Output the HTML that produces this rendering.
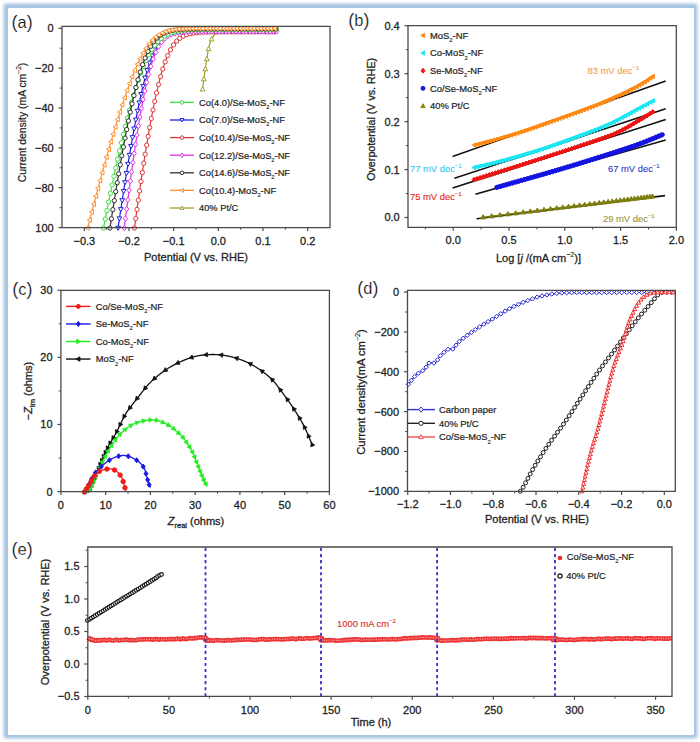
<!DOCTYPE html>
<html><head><meta charset="utf-8"><style>
html,body{margin:0;padding:0;background:#fff;}
body{width:700px;height:742px;overflow:hidden;position:relative;}
.fr{position:absolute;left:8px;top:8.3px;width:685.8px;height:727.2px;border-radius:1px;box-shadow:-0.6px -0.6px 0 2.6px #a9c7e3, -0.6px -0.6px 2.5px 3.6px rgba(169,199,227,0.75);}
svg{position:absolute;left:0;top:0;font-family:"Liberation Sans", sans-serif;}
</style></head><body>
<div class="fr"></div>
<svg width="700" height="742" viewBox="0 0 700 742">
<text x="11.5" y="27.6" font-size="18" fill="#111" stroke="#fff" stroke-width="0.2">(<tspan font-size="16.5">a</tspan>)</text>
<path d="M202.6 89.2 L202.63 88.9 L202.67 88.55 L202.72 88.15 L202.77 87.7 L202.82 87.21 L202.88 86.69 L202.94 86.14 L203 85.56 L203.07 84.96 L203.14 84.35 L203.21 83.72 L203.28 83.09 L203.36 82.46 L203.44 81.83 L203.52 81.21 L203.6 80.6 L203.68 79.99 L203.77 79.37 L203.86 78.73 L203.96 78.08 L204.06 77.42 L204.16 76.75 L204.26 76.07 L204.37 75.39 L204.47 74.71 L204.58 74.03 L204.69 73.34 L204.79 72.66 L204.9 71.99 L205 71.31 L205.1 70.65 L205.2 70 L205.3 69.35 L205.39 68.71 L205.49 68.07 L205.58 67.43 L205.68 66.79 L205.77 66.15 L205.86 65.52 L205.96 64.89 L206.05 64.26 L206.14 63.63 L206.23 63 L206.33 62.38 L206.42 61.76 L206.51 61.14 L206.61 60.52 L206.7 59.9 L206.79 59.28 L206.88 58.66 L206.97 58.04 L207.06 57.42 L207.15 56.8 L207.24 56.18 L207.33 55.56 L207.42 54.94 L207.51 54.33 L207.6 53.73 L207.69 53.14 L207.79 52.55 L207.89 51.97 L207.99 51.4 L208.09 50.84 L208.2 50.3 L208.31 49.77 L208.42 49.24 L208.54 48.72 L208.65 48.21 L208.77 47.71 L208.89 47.21 L209.01 46.72 L209.14 46.24 L209.26 45.77 L209.39 45.31 L209.52 44.85 L209.65 44.41 L209.79 43.97 L209.92 43.54 L210.06 43.11 L210.2 42.7 L210.34 42.3 L210.48 41.9 L210.63 41.51 L210.78 41.13 L210.92 40.76 L211.07 40.4 L211.23 40.05 L211.38 39.7 L211.54 39.36 L211.7 39.03 L211.86 38.71 L212.02 38.39 L212.19 38.08 L212.36 37.78 L212.53 37.49 L212.7 37.2 L212.88 36.92 L213.06 36.65 L213.24 36.38 L213.42 36.13 L213.61 35.88 L213.8 35.64 L213.99 35.41 L214.19 35.18 L214.38 34.96 L214.58 34.75 L214.78 34.54 L214.98 34.34 L215.19 34.15 L215.39 33.96 L215.59 33.78 L215.8 33.6 L216 33.43 L216.2 33.27 L216.4 33.11 L216.6 32.97 L216.79 32.83 L216.99 32.7 L217.19 32.57 L217.39 32.45 L217.59 32.33 L217.81 32.22 L218.03 32.11 L218.26 32.01 L218.5 31.9 L218.75 31.8 L219.02 31.7 L219.3 31.6 L219.59 31.5 L219.9 31.41 L220.21 31.31 L220.54 31.23 L220.88 31.14 L221.22 31.06 L221.57 30.98 L221.93 30.9 L222.3 30.83 L222.67 30.76 L223.05 30.69 L223.43 30.62 L223.82 30.56 L224.21 30.51 L224.6 30.45 L225 30.4 L225.41 30.35 L225.86 30.31 L226.33 30.27 L226.82 30.23 L227.33 30.2 L227.84 30.17 L228.35 30.15 L228.86 30.12 L229.35 30.1 L229.83 30.09 L230.29 30.07 L230.71 30.05 L231.1 30.04 L231.45 30.03 L231.75 30.01 L232 30" fill="none" stroke="#a0a030" stroke-width="1.2"/>
<polygon points="200.18,90.96 205.02,90.96 202.6,86.78" fill="#fff" stroke="#a0a030" stroke-width="1.0"/>
<polygon points="201.39,80.83 206.23,80.83 203.81,76.65" fill="#fff" stroke="#a0a030" stroke-width="1.0"/>
<polygon points="202.93,70.75 207.77,70.75 205.35,66.57" fill="#fff" stroke="#a0a030" stroke-width="1.0"/>
<polygon points="204.43,60.66 209.27,60.66 206.85,56.48" fill="#fff" stroke="#a0a030" stroke-width="1.0"/>
<polygon points="206.09,50.6 210.93,50.6 208.51,46.42" fill="#fff" stroke="#a0a030" stroke-width="1.0"/>
<polygon points="209.22,40.91 214.06,40.91 211.64,36.73" fill="#fff" stroke="#a0a030" stroke-width="1.0"/>
<polygon points="216.08,33.66 220.92,33.66 218.5,29.48" fill="#fff" stroke="#a0a030" stroke-width="1.0"/>
<polygon points="226.08,31.9 230.92,31.9 228.5,27.72" fill="#fff" stroke="#a0a030" stroke-width="1.0"/>
<path d="M134.44 228 L135 223.86 L135.55 219.81 L136.09 215.85 L136.63 211.97 L137.16 208.17 L137.68 204.45 L138.19 200.81 L138.7 197.25 L139.2 193.76 L139.69 190.34 L140.17 187 L140.65 183.73 L141.12 180.53 L141.59 177.39 L142.05 174.32 L142.5 171.31 L142.95 168.37 L143.4 165.49 L143.83 162.67 L144.26 159.91 L144.69 157.21 L145.11 154.57 L145.52 151.98 L145.93 149.45 L146.34 146.97 L146.74 144.54 L147.13 142.16 L147.52 139.83 L147.91 137.56 L148.29 135.33 L148.67 133.14 L149.04 131.01 L149.41 128.91 L149.77 126.87 L150.13 124.86 L150.49 122.9 L150.84 120.98 L151.19 119.1 L151.54 117.26 L151.88 115.45 L152.22 113.69 L152.55 111.96 L152.88 110.27 L153.21 108.62 L153.53 107 L153.85 105.41 L154.17 103.86 L154.49 102.34 L154.8 100.85 L155.11 99.4 L155.41 97.97 L155.72 96.58 L156.02 95.21 L156.31 93.87 L156.61 92.56 L156.9 91.28 L157.19 90.03 L157.48 88.8 L157.77 87.6 L158.05 86.42 L158.33 85.27 L158.61 84.14 L158.88 83.04 L159.16 81.96 L159.43 80.9 L159.7 79.86 L159.97 78.85 L160.23 77.86 L160.49 76.89 L160.76 75.94 L161.02 75 L161.27 74.09 L161.53 73.2 L161.78 72.33 L162.04 71.47 L162.29 70.64 L162.54 69.82 L162.79 69.02 L163.03 68.23 L163.28 67.46 L163.52 66.71 L163.76 65.97 L164 65.25 L164.24 64.55 L164.48 63.86 L164.71 63.18 L164.95 62.52 L165.18 61.87 L165.41 61.24 L165.64 60.61 L165.87 60.01 L166.1 59.41 L166.33 58.83 L166.56 58.26 L166.78 57.7 L167 57.15 L167.23 56.62 L167.45 56.1 L167.67 55.58 L167.89 55.08 L168.11 54.59 L168.33 54.11 L168.54 53.64 L168.76 53.18 L168.97 52.73 L169.19 52.28 L169.4 51.85 L169.61 51.43 L169.82 51.01 L170.03 50.61 L170.24 50.21 L170.45 49.82 L170.66 49.44 L170.87 49.07 L171.08 48.71 L171.28 48.35 L171.49 48 L171.69 47.66 L171.9 47.32 L172.1 47 L172.3 46.67 L172.5 46.36 L172.71 46.05 L172.91 45.75 L173.11 45.46 L173.31 45.17 L173.51 44.89 L173.7 44.61 L173.9 44.34 L174.1 44.08 L174.3 43.82 L174.49 43.56 L174.69 43.31 L174.88 43.07 L175.08 42.83 L175.27 42.6 L175.47 42.37 L175.66 42.15 L175.85 41.93 L176.05 41.72 L176.24 41.51 L176.43 41.3 L176.62 41.1 L176.81 40.9 L177 40.71 L177.19 40.52 L177.38 40.34 L177.57 40.16 L177.76 39.98 L177.95 39.81 L178.14 39.64 L178.33 39.47 L178.52 39.31 L178.7 39.15 L178.89 39 L179.08 38.85 L179.26 38.7 L179.45 38.55 L179.64 38.41 L179.82 38.27 L180.01 38.13 L180.19 38 L180.38 37.87 L180.56 37.74 L180.75 37.61 L180.93 37.49 L181.12 37.37 L181.3 37.25 L181.48 37.14 L181.67 37.02 L181.85 36.91 L182.03 36.8 L182.21 36.7 L182.4 36.59 L182.58 36.49 L182.76 36.39 L182.94 36.3 L183.12 36.2 L183.31 36.11 L183.49 36.02 L183.67 35.93 L183.85 35.84 L184.03 35.75 L184.21 35.67 L184.39 35.59 L184.57 35.51 L184.75 35.43 L184.93 35.35 L185.11 35.28 L185.29 35.2 L185.47 35.13 L185.65 35.06 L185.83 34.99 L186.01 34.92 L186.19 34.86 L186.36 34.79 L186.54 34.73 L186.72 34.67 L186.9 34.61 L187.08 34.55 L187.26 34.49 L187.43 34.43 L187.61 34.38 L187.79 34.32 L187.97 34.27 L188.15 34.21 L188.32 34.16 L188.5 34.11 L188.68 34.06 L188.85 34.02 L189.03 33.97 L189.21 33.92 L189.39 33.88 L189.56 33.83 L189.74 33.79 L189.92 33.75 L190.09 33.71 L190.27 33.67 L190.45 33.63 L190.62 33.59 L190.8 33.55 L190.97 33.51 L191.15 33.47 L191.33 33.44 L191.5 33.4 L191.68 33.37 L191.85 33.34 L192.03 33.3 L192.21 33.27 L192.38 33.24 L192.56 33.21 L192.73 33.18 L192.91 33.15 L193.08 33.12 L193.26 33.09 L193.43 33.06 L193.61 33.04 L193.78 33.01 L193.96 32.98 L194.13 32.96 L194.31 32.93 L194.48 32.91 L194.66 32.89 L194.83 32.86 L195.01 32.84 L195.18 32.82 L195.36 32.8 L195.53 32.77 L195.71 32.75 L195.88 32.73 L196.06 32.71 L196.23 32.69 L196.41 32.67 L196.58 32.66 L196.75 32.64 L196.93 32.62 L197.1 32.6 L197.28 32.58 L197.45 32.57 L197.63 32.55 L197.8 32.53 L197.97 32.52 L198.15 32.5 L198.32 32.49 L198.5 32.47 L198.67 32.46 L198.84 32.44 L199.02 32.43 L199.19 32.42 L199.37 32.4 L199.54 32.39 L199.71 32.38 L199.89 32.36 L200.06 32.35 L200.24 32.34 L200.41 32.33 L200.58 32.32 L200.76 32.3 L200.93 32.29 L201.1 32.28 L201.28 32.27 L201.45 32.26 L201.62 32.25 L201.8 32.24 L201.97 32.23 L202.15 32.22 L202.32 32.21 L202.49 32.2 L202.67 32.19 L202.84 32.19 L203.01 32.18 L203.19 32.17 L203.36 32.16 L203.53 32.15 L203.71 32.15 L203.88 32.14 L204.05 32.13 L204.23 32.12 L204.4 32.12 L204.57 32.11 L204.75 32.1 L204.92 32.09 L205.09 32.09 L205.27 32.08 L205.44 32.07 L205.61 32.07 L205.79 32.06 L205.96 32.06 L206.13 32.05 L206.31 32.05 L206.48 32.04 L206.65 32.03 L206.83 32.03 L207 32.02 L207.17 32.02 L207.35 32.01 L207.52 32.01 L207.69 32 L207.86 32 L208.04 31.99 L208.21 31.99 L208.38 31.99 L208.56 31.98 L208.73 31.98 L208.9 31.97 L209.08 31.97 L209.25 31.96 L209.42 31.96 L209.6 31.96 L209.77 31.95 L209.94 31.95 L210.11 31.95 L210.29 31.94 L210.46 31.94 L210.63 31.94 L210.81 31.93 L210.98 31.93 L211.15 31.93 L211.33 31.92 L211.5 31.92 L211.67 31.92 L211.84 31.91 L212.02 31.91 L212.19 31.91 L212.36 31.91 L212.54 31.9 L212.71 31.9 L212.88 31.9 L213.05 31.9 L213.23 31.89 L213.4 31.89 L213.57 31.89 L213.75 31.89 L213.92 31.88 L214.09 31.88 L214.27 31.88 L214.44 31.88 L214.61 31.88 L214.78 31.87 L214.96 31.87 L215.13 31.87 L215.3 31.87 L215.48 31.87 L215.65 31.86 L215.82 31.86 L215.99 31.86 L216.17 31.86 L216.34 31.86 L216.51 31.86 L216.68 31.85 L216.86 31.85 L217.03 31.85 L217.2 31.85 L217.38 31.85 L217.55 31.85 L217.72 31.84 L217.89 31.84 L218.07 31.84 L218.24 31.84 L218.41 31.84 L218.59 31.84 L218.76 31.84 L218.93 31.84 L219.1 31.83 L219.28 31.83 L219.45 31.83 L219.62 31.83 L219.8 31.83 L219.97 31.83 L220.14 31.83 L220.31 31.83 L220.49 31.83 L220.66 31.82 L220.83 31.82 L221 31.82 L221.18 31.82 L221.35 31.82 L221.52 31.82 L221.7 31.82 L222.7 31.82 L223.7 31.82 L224.7 31.82 L225.7 31.82 L226.7 31.82 L227.7 31.82 L228.7 31.82 L229.7 31.82 L230.7 31.82 L231.7 31.82 L232.7 31.82 L233.7 31.82 L234.7 31.82 L235.7 31.82 L236.7 31.82 L237.7 31.82 L238.7 31.82 L239.7 31.82 L240.7 31.82 L241.7 31.82 L242.7 31.82 L243.7 31.82 L244.7 31.82 L245.7 31.82 L246.7 31.82 L247.7 31.82 L248.7 31.82 L249.7 31.82 L250.7 31.82 L251.7 31.82 L252.7 31.82 L253.7 31.82 L254.7 31.82 L255.7 31.82 L256.7 31.82 L257.7 31.82 L258.7 31.82 L259.7 31.82 L260.7 31.82 L261.7 31.82 L262.7 31.82 L263.7 31.82 L264.7 31.82 L265.7 31.82 L266.7 31.82 L267.7 31.82 L268.7 31.82 L269.7 31.82 L270.7 31.82 L271.7 31.82 L272.7 31.82 L273.7 31.82 L274.7 31.82 L275.7 31.82 L276.7 31.82 L277 31.82" fill="none" stroke="#e03838" stroke-width="1.2"/>
<circle cx="134.44" cy="228" r="2.15" fill="#fff" stroke="#e03838" stroke-width="1.0"/>
<circle cx="135.72" cy="218.59" r="2.15" fill="#fff" stroke="#e03838" stroke-width="1.0"/>
<circle cx="136.98" cy="209.44" r="2.15" fill="#fff" stroke="#e03838" stroke-width="1.0"/>
<circle cx="138.28" cy="200.16" r="2.15" fill="#fff" stroke="#e03838" stroke-width="1.0"/>
<circle cx="139.6" cy="190.96" r="2.15" fill="#fff" stroke="#e03838" stroke-width="1.0"/>
<circle cx="140.98" cy="181.49" r="2.15" fill="#fff" stroke="#e03838" stroke-width="1.0"/>
<circle cx="142.32" cy="172.52" r="2.15" fill="#fff" stroke="#e03838" stroke-width="1.0"/>
<circle cx="143.73" cy="163.3" r="2.15" fill="#fff" stroke="#e03838" stroke-width="1.0"/>
<circle cx="145.16" cy="154.25" r="2.15" fill="#fff" stroke="#e03838" stroke-width="1.0"/>
<circle cx="146.64" cy="145.14" r="2.15" fill="#fff" stroke="#e03838" stroke-width="1.0"/>
<circle cx="148.13" cy="136.28" r="2.15" fill="#fff" stroke="#e03838" stroke-width="1.0"/>
<circle cx="149.65" cy="127.55" r="2.15" fill="#fff" stroke="#e03838" stroke-width="1.0"/>
<circle cx="151.31" cy="118.48" r="2.15" fill="#fff" stroke="#e03838" stroke-width="1.0"/>
<circle cx="152.95" cy="109.94" r="2.15" fill="#fff" stroke="#e03838" stroke-width="1.0"/>
<circle cx="154.67" cy="101.45" r="2.15" fill="#fff" stroke="#e03838" stroke-width="1.0"/>
<circle cx="156.54" cy="92.89" r="2.15" fill="#fff" stroke="#e03838" stroke-width="1.0"/>
<circle cx="158.51" cy="84.52" r="2.15" fill="#fff" stroke="#e03838" stroke-width="1.0"/>
<circle cx="160.58" cy="76.57" r="2.15" fill="#fff" stroke="#e03838" stroke-width="1.0"/>
<circle cx="162.79" cy="69.02" r="2.15" fill="#fff" stroke="#e03838" stroke-width="1.0"/>
<circle cx="165.18" cy="61.87" r="2.15" fill="#fff" stroke="#e03838" stroke-width="1.0"/>
<circle cx="167.67" cy="55.58" r="2.15" fill="#fff" stroke="#e03838" stroke-width="1.0"/>
<circle cx="170.45" cy="49.82" r="2.15" fill="#fff" stroke="#e03838" stroke-width="1.0"/>
<circle cx="173.51" cy="44.89" r="2.15" fill="#fff" stroke="#e03838" stroke-width="1.0"/>
<circle cx="176.62" cy="41.1" r="2.15" fill="#fff" stroke="#e03838" stroke-width="1.0"/>
<circle cx="179.82" cy="38.27" r="2.15" fill="#fff" stroke="#e03838" stroke-width="1.0"/>
<circle cx="183.31" cy="36.11" r="2.15" fill="#fff" stroke="#e03838" stroke-width="1.0"/>
<circle cx="186.54" cy="34.73" r="2.15" fill="#fff" stroke="#e03838" stroke-width="1.0"/>
<circle cx="189.92" cy="33.75" r="2.15" fill="#fff" stroke="#e03838" stroke-width="1.0"/>
<circle cx="193.43" cy="33.06" r="2.15" fill="#fff" stroke="#e03838" stroke-width="1.0"/>
<circle cx="196.75" cy="32.64" r="2.15" fill="#fff" stroke="#e03838" stroke-width="1.0"/>
<circle cx="200.24" cy="32.34" r="2.15" fill="#fff" stroke="#e03838" stroke-width="1.0"/>
<circle cx="203.53" cy="32.15" r="2.15" fill="#fff" stroke="#e03838" stroke-width="1.0"/>
<circle cx="207" cy="32.02" r="2.15" fill="#fff" stroke="#e03838" stroke-width="1.0"/>
<circle cx="210.46" cy="31.94" r="2.15" fill="#fff" stroke="#e03838" stroke-width="1.0"/>
<circle cx="213.75" cy="31.89" r="2.15" fill="#fff" stroke="#e03838" stroke-width="1.0"/>
<circle cx="217.2" cy="31.85" r="2.15" fill="#fff" stroke="#e03838" stroke-width="1.0"/>
<circle cx="220.66" cy="31.82" r="2.15" fill="#fff" stroke="#e03838" stroke-width="1.0"/>
<circle cx="224.03" cy="31.82" r="2.15" fill="#fff" stroke="#e03838" stroke-width="1.0"/>
<circle cx="227.36" cy="31.82" r="2.15" fill="#fff" stroke="#e03838" stroke-width="1.0"/>
<circle cx="231.03" cy="31.82" r="2.15" fill="#fff" stroke="#e03838" stroke-width="1.0"/>
<circle cx="234.36" cy="31.82" r="2.15" fill="#fff" stroke="#e03838" stroke-width="1.0"/>
<circle cx="237.7" cy="31.82" r="2.15" fill="#fff" stroke="#e03838" stroke-width="1.0"/>
<circle cx="241.03" cy="31.82" r="2.15" fill="#fff" stroke="#e03838" stroke-width="1.0"/>
<circle cx="244.36" cy="31.82" r="2.15" fill="#fff" stroke="#e03838" stroke-width="1.0"/>
<circle cx="248.03" cy="31.82" r="2.15" fill="#fff" stroke="#e03838" stroke-width="1.0"/>
<circle cx="251.36" cy="31.82" r="2.15" fill="#fff" stroke="#e03838" stroke-width="1.0"/>
<circle cx="254.7" cy="31.82" r="2.15" fill="#fff" stroke="#e03838" stroke-width="1.0"/>
<circle cx="258.03" cy="31.82" r="2.15" fill="#fff" stroke="#e03838" stroke-width="1.0"/>
<circle cx="261.36" cy="31.82" r="2.15" fill="#fff" stroke="#e03838" stroke-width="1.0"/>
<circle cx="265.03" cy="31.82" r="2.15" fill="#fff" stroke="#e03838" stroke-width="1.0"/>
<circle cx="268.36" cy="31.82" r="2.15" fill="#fff" stroke="#e03838" stroke-width="1.0"/>
<circle cx="271.7" cy="31.82" r="2.15" fill="#fff" stroke="#e03838" stroke-width="1.0"/>
<circle cx="275.03" cy="31.82" r="2.15" fill="#fff" stroke="#e03838" stroke-width="1.0"/>
<path d="M118.04 228 L118.65 223.85 L119.26 219.79 L119.85 215.82 L120.44 211.93 L121.02 208.12 L121.59 204.4 L122.15 200.75 L122.7 197.17 L123.24 193.68 L123.78 190.26 L124.3 186.9 L124.82 183.62 L125.33 180.41 L125.84 177.27 L126.33 174.19 L126.82 171.18 L127.3 168.23 L127.78 165.35 L128.25 162.52 L128.71 159.76 L129.16 157.05 L129.61 154.4 L130.05 151.8 L130.49 149.26 L130.92 146.78 L131.34 144.34 L131.76 141.96 L132.18 139.63 L132.58 137.35 L132.99 135.11 L133.38 132.92 L133.77 130.78 L134.16 128.69 L134.54 126.63 L134.92 124.63 L135.29 122.66 L135.66 120.73 L136.02 118.85 L136.38 117 L136.73 115.2 L137.08 113.43 L137.43 111.7 L137.77 110.01 L138.11 108.35 L138.44 106.72 L138.77 105.13 L139.1 103.58 L139.42 102.06 L139.74 100.57 L140.05 99.11 L140.36 97.68 L140.67 96.28 L140.98 94.91 L141.28 93.57 L141.58 92.26 L141.87 90.97 L142.17 89.72 L142.46 88.49 L142.74 87.28 L143.03 86.1 L143.31 84.95 L143.59 83.82 L143.86 82.71 L144.14 81.63 L144.41 80.57 L144.67 79.53 L144.94 78.52 L145.2 77.52 L145.46 76.55 L145.72 75.6 L145.98 74.66 L146.23 73.75 L146.49 72.86 L146.73 71.98 L146.98 71.13 L147.23 70.29 L147.47 69.47 L147.71 68.66 L147.95 67.88 L148.19 67.11 L148.43 66.35 L148.66 65.61 L148.9 64.89 L149.13 64.19 L149.36 63.49 L149.58 62.82 L149.81 62.15 L150.04 61.5 L150.26 60.87 L150.48 60.25 L150.7 59.64 L150.92 59.04 L151.14 58.46 L151.35 57.89 L151.57 57.33 L151.78 56.78 L151.99 56.24 L152.2 55.72 L152.41 55.2 L152.62 54.7 L152.83 54.21 L153.03 53.73 L153.24 53.26 L153.44 52.79 L153.64 52.34 L153.85 51.9 L154.05 51.47 L154.25 51.04 L154.44 50.63 L154.64 50.22 L154.84 49.82 L155.03 49.43 L155.23 49.05 L155.42 48.68 L155.62 48.32 L155.81 47.96 L156 47.61 L156.19 47.27 L156.38 46.93 L156.57 46.6 L156.75 46.28 L156.94 45.97 L157.13 45.66 L157.31 45.36 L157.5 45.06 L157.68 44.77 L157.87 44.49 L158.05 44.21 L158.23 43.94 L158.41 43.68 L158.6 43.42 L158.78 43.16 L158.96 42.91 L159.14 42.67 L159.31 42.43 L159.49 42.2 L159.67 41.97 L159.85 41.75 L160.02 41.53 L160.2 41.31 L160.37 41.1 L160.55 40.9 L160.72 40.7 L160.9 40.5 L161.07 40.31 L161.24 40.12 L161.42 39.93 L161.59 39.75 L161.76 39.58 L161.93 39.4 L162.1 39.23 L162.27 39.07 L162.44 38.91 L162.61 38.75 L162.78 38.59 L162.95 38.44 L163.12 38.29 L163.29 38.14 L163.46 38 L163.63 37.86 L163.79 37.72 L163.96 37.59 L164.13 37.46 L164.29 37.33 L164.46 37.2 L164.63 37.08 L164.79 36.96 L164.96 36.84 L165.12 36.73 L165.29 36.61 L165.45 36.5 L165.61 36.39 L165.78 36.29 L165.94 36.18 L166.11 36.08 L166.27 35.98 L166.43 35.89 L166.59 35.79 L166.76 35.7 L166.92 35.61 L167.08 35.52 L167.24 35.43 L167.4 35.34 L167.57 35.26 L167.73 35.18 L167.89 35.1 L168.05 35.02 L168.21 34.94 L168.37 34.87 L168.53 34.79 L168.69 34.72 L168.85 34.65 L169.01 34.58 L169.17 34.51 L169.33 34.44 L169.49 34.38 L169.65 34.32 L169.81 34.25 L169.97 34.19 L170.12 34.13 L170.28 34.07 L170.44 34.02 L170.6 33.96 L170.76 33.91 L170.92 33.85 L171.07 33.8 L171.23 33.75 L171.39 33.7 L171.55 33.65 L171.7 33.6 L171.86 33.55 L172.02 33.51 L172.18 33.46 L172.33 33.42 L172.49 33.38 L172.65 33.33 L172.8 33.29 L172.96 33.25 L173.12 33.21 L173.27 33.17 L173.43 33.13 L173.59 33.1 L173.74 33.06 L173.9 33.02 L174.05 32.99 L174.21 32.95 L174.36 32.92 L174.52 32.89 L174.68 32.86 L174.83 32.82 L174.99 32.79 L175.14 32.76 L175.3 32.73 L175.45 32.71 L175.61 32.68 L175.76 32.65 L175.92 32.62 L176.07 32.6 L176.23 32.57 L176.38 32.54 L176.54 32.52 L176.69 32.5 L176.85 32.47 L177 32.45 L177.16 32.43 L177.31 32.4 L177.47 32.38 L177.62 32.36 L177.77 32.34 L177.93 32.32 L178.08 32.3 L178.24 32.28 L178.39 32.26 L178.55 32.24 L178.7 32.22 L178.85 32.2 L179.01 32.19 L179.16 32.17 L179.32 32.15 L179.47 32.13 L179.62 32.12 L179.78 32.1 L179.93 32.09 L180.09 32.07 L180.24 32.06 L180.39 32.04 L180.55 32.03 L180.7 32.01 L180.85 32 L181.01 31.99 L181.16 31.97 L181.31 31.96 L181.47 31.95 L181.62 31.94 L181.77 31.92 L181.93 31.91 L182.08 31.9 L182.23 31.89 L182.39 31.88 L182.54 31.87 L182.69 31.86 L182.85 31.85 L183 31.84 L183.15 31.83 L183.31 31.82 L183.46 31.81 L183.61 31.8 L183.77 31.79 L183.92 31.78 L184.07 31.77 L184.22 31.76 L184.38 31.75 L184.53 31.75 L184.68 31.74 L184.84 31.73 L184.99 31.72 L185.14 31.71 L185.3 31.71 L185.45 31.7 L185.6 31.69 L185.75 31.69 L185.91 31.68 L186.06 31.67 L186.21 31.67 L186.37 31.66 L186.52 31.65 L186.67 31.65 L186.82 31.64 L186.98 31.63 L187.13 31.63 L187.28 31.62 L187.43 31.62 L187.59 31.61 L187.74 31.61 L187.89 31.6 L188.04 31.6 L188.2 31.59 L188.35 31.59 L188.5 31.58 L188.65 31.58 L188.81 31.57 L188.96 31.57 L189.11 31.56 L189.26 31.56 L189.42 31.56 L189.57 31.55 L189.72 31.55 L189.87 31.54 L190.03 31.54 L190.18 31.54 L190.33 31.53 L190.48 31.53 L190.64 31.53 L190.79 31.52 L190.94 31.52 L191.09 31.52 L191.25 31.51 L191.4 31.51 L191.55 31.51 L191.7 31.5 L191.86 31.5 L192.01 31.5 L192.16 31.49 L192.31 31.49 L192.47 31.49 L192.62 31.49 L192.77 31.48 L192.92 31.48 L193.07 31.48 L193.23 31.48 L193.38 31.47 L193.53 31.47 L193.68 31.47 L193.84 31.47 L193.99 31.47 L194.14 31.46 L194.29 31.46 L194.45 31.46 L194.6 31.46 L194.75 31.45 L194.9 31.45 L195.05 31.45 L195.21 31.45 L195.36 31.45 L195.51 31.45 L195.66 31.44 L195.82 31.44 L195.97 31.44 L196.12 31.44 L196.27 31.44 L196.42 31.44 L196.58 31.43 L196.73 31.43 L196.88 31.43 L197.03 31.43 L197.19 31.43 L197.34 31.43 L197.49 31.43 L197.64 31.42 L197.79 31.42 L197.95 31.42 L198.1 31.42 L198.25 31.42 L198.4 31.42 L198.56 31.42 L198.71 31.42 L198.86 31.41 L199.01 31.41 L199.16 31.41 L199.32 31.41 L199.47 31.41 L199.62 31.41 L199.77 31.41 L199.92 31.41 L200.08 31.41 L200.23 31.41 L200.38 31.41 L200.53 31.4 L200.69 31.4 L201.69 31.4 L202.69 31.4 L203.69 31.4 L204.69 31.4 L205.69 31.4 L206.69 31.4 L207.69 31.4 L208.69 31.4 L209.69 31.4 L210.69 31.4 L211.69 31.4 L212.69 31.4 L213.69 31.4 L214.69 31.4 L215.69 31.4 L216.69 31.4 L217.69 31.4 L218.69 31.4 L219.69 31.4 L220.69 31.4 L221.69 31.4 L222.69 31.4 L223.69 31.4 L224.69 31.4 L225.69 31.4 L226.69 31.4 L227.69 31.4 L228.69 31.4 L229.69 31.4 L230.69 31.4 L231.69 31.4 L232.69 31.4 L233.69 31.4 L234.69 31.4 L235.69 31.4 L236.69 31.4 L237.69 31.4 L238.69 31.4 L239.69 31.4 L240.69 31.4 L241.69 31.4 L242.69 31.4 L243.69 31.4 L244.69 31.4 L245.69 31.4 L246.69 31.4 L247.69 31.4 L248.69 31.4 L249.69 31.4 L250.69 31.4 L251.69 31.4 L252.69 31.4 L253.69 31.4 L254.69 31.4 L255.69 31.4 L256.69 31.4 L257.69 31.4 L258.69 31.4 L259.69 31.4 L260.69 31.4 L261.69 31.4 L262.69 31.4 L263.69 31.4 L264.69 31.4 L265.69 31.4 L266.69 31.4 L267.69 31.4 L268.69 31.4 L269.69 31.4 L270.69 31.4 L271.69 31.4 L272.69 31.4 L273.69 31.4 L274.69 31.4 L275.69 31.4 L276.69 31.4 L277 31.4" fill="none" stroke="#2020d8" stroke-width="1.2"/>
<polygon points="115.67,226.28 120.4,226.28 118.04,230.36" fill="#fff" stroke="#2020d8" stroke-width="1.0"/>
<polygon points="117.08,216.85 121.81,216.85 119.44,220.94" fill="#fff" stroke="#2020d8" stroke-width="1.0"/>
<polygon points="118.46,207.67 123.19,207.67 120.83,211.76" fill="#fff" stroke="#2020d8" stroke-width="1.0"/>
<polygon points="119.83,198.73 124.56,198.73 122.19,202.81" fill="#fff" stroke="#2020d8" stroke-width="1.0"/>
<polygon points="121.27,189.47 126,189.47 123.63,193.55" fill="#fff" stroke="#2020d8" stroke-width="1.0"/>
<polygon points="122.66,180.62 127.39,180.62 125.03,184.71" fill="#fff" stroke="#2020d8" stroke-width="1.0"/>
<polygon points="124.12,171.57 128.85,171.57 126.48,175.66" fill="#fff" stroke="#2020d8" stroke-width="1.0"/>
<polygon points="125.62,162.37 130.35,162.37 127.99,166.46" fill="#fff" stroke="#2020d8" stroke-width="1.0"/>
<polygon points="127.14,153.34 131.87,153.34 129.5,157.43" fill="#fff" stroke="#2020d8" stroke-width="1.0"/>
<polygon points="128.66,144.45 133.39,144.45 131.03,148.54" fill="#fff" stroke="#2020d8" stroke-width="1.0"/>
<polygon points="130.22,135.63 134.95,135.63 132.58,139.71" fill="#fff" stroke="#2020d8" stroke-width="1.0"/>
<polygon points="131.8,126.97 136.53,126.97 134.16,131.05" fill="#fff" stroke="#2020d8" stroke-width="1.0"/>
<polygon points="133.47,118.07 138.2,118.07 135.84,122.16" fill="#fff" stroke="#2020d8" stroke-width="1.0"/>
<polygon points="135.2,109.3 139.93,109.3 137.56,113.39" fill="#fff" stroke="#2020d8" stroke-width="1.0"/>
<polygon points="136.92,100.95 141.65,100.95 139.29,105.03" fill="#fff" stroke="#2020d8" stroke-width="1.0"/>
<polygon points="138.76,92.52 143.49,92.52 141.13,96.61" fill="#fff" stroke="#2020d8" stroke-width="1.0"/>
<polygon points="140.66,84.38 145.39,84.38 143.03,88.47" fill="#fff" stroke="#2020d8" stroke-width="1.0"/>
<polygon points="142.75,76.13 147.48,76.13 145.12,80.22" fill="#fff" stroke="#2020d8" stroke-width="1.0"/>
<polygon points="144.86,68.57 149.59,68.57 147.23,72.65" fill="#fff" stroke="#2020d8" stroke-width="1.0"/>
<polygon points="147.22,61.1 151.95,61.1 149.58,65.18" fill="#fff" stroke="#2020d8" stroke-width="1.0"/>
<polygon points="149.84,54 154.57,54 152.2,58.08" fill="#fff" stroke="#2020d8" stroke-width="1.0"/>
<polygon points="152.47,48.1 157.2,48.1 154.84,52.19" fill="#fff" stroke="#2020d8" stroke-width="1.0"/>
<polygon points="155.32,43.05 160.05,43.05 157.68,47.14" fill="#fff" stroke="#2020d8" stroke-width="1.0"/>
<polygon points="158.36,38.98 163.09,38.98 160.72,43.06" fill="#fff" stroke="#2020d8" stroke-width="1.0"/>
<polygon points="161.6,35.87 166.33,35.87 163.96,39.95" fill="#fff" stroke="#2020d8" stroke-width="1.0"/>
<polygon points="164.88,33.71 169.61,33.71 167.24,37.79" fill="#fff" stroke="#2020d8" stroke-width="1.0"/>
<polygon points="168.23,32.24 172.96,32.24 170.6,36.33" fill="#fff" stroke="#2020d8" stroke-width="1.0"/>
<polygon points="171.69,31.27 176.42,31.27 174.05,35.35" fill="#fff" stroke="#2020d8" stroke-width="1.0"/>
<polygon points="175.1,30.66 179.83,30.66 177.47,34.75" fill="#fff" stroke="#2020d8" stroke-width="1.0"/>
<polygon points="178.49,30.28 183.22,30.28 180.85,34.36" fill="#fff" stroke="#2020d8" stroke-width="1.0"/>
<polygon points="181.86,30.04 186.59,30.04 184.22,34.13" fill="#fff" stroke="#2020d8" stroke-width="1.0"/>
<polygon points="185.22,29.89 189.95,29.89 187.59,33.98" fill="#fff" stroke="#2020d8" stroke-width="1.0"/>
<polygon points="188.73,29.8 193.46,29.8 191.09,33.88" fill="#fff" stroke="#2020d8" stroke-width="1.0"/>
<polygon points="192.08,29.74 196.81,29.74 194.45,33.82" fill="#fff" stroke="#2020d8" stroke-width="1.0"/>
<polygon points="195.43,29.7 200.16,29.7 197.79,33.79" fill="#fff" stroke="#2020d8" stroke-width="1.0"/>
<polygon points="198.99,29.68 203.72,29.68 201.35,33.77" fill="#fff" stroke="#2020d8" stroke-width="1.0"/>
<polygon points="202.32,29.68 207.05,29.68 204.69,33.77" fill="#fff" stroke="#2020d8" stroke-width="1.0"/>
<polygon points="205.65,29.68 210.38,29.68 208.02,33.77" fill="#fff" stroke="#2020d8" stroke-width="1.0"/>
<polygon points="209.32,29.68 214.05,29.68 211.69,33.77" fill="#fff" stroke="#2020d8" stroke-width="1.0"/>
<polygon points="212.65,29.68 217.38,29.68 215.02,33.77" fill="#fff" stroke="#2020d8" stroke-width="1.0"/>
<polygon points="215.99,29.68 220.72,29.68 218.35,33.77" fill="#fff" stroke="#2020d8" stroke-width="1.0"/>
<polygon points="219.32,29.68 224.05,29.68 221.69,33.77" fill="#fff" stroke="#2020d8" stroke-width="1.0"/>
<polygon points="222.65,29.68 227.38,29.68 225.02,33.77" fill="#fff" stroke="#2020d8" stroke-width="1.0"/>
<polygon points="226.32,29.68 231.05,29.68 228.69,33.77" fill="#fff" stroke="#2020d8" stroke-width="1.0"/>
<polygon points="229.65,29.68 234.38,29.68 232.02,33.77" fill="#fff" stroke="#2020d8" stroke-width="1.0"/>
<polygon points="232.99,29.68 237.72,29.68 235.35,33.77" fill="#fff" stroke="#2020d8" stroke-width="1.0"/>
<polygon points="236.32,29.68 241.05,29.68 238.69,33.77" fill="#fff" stroke="#2020d8" stroke-width="1.0"/>
<polygon points="239.65,29.68 244.38,29.68 242.02,33.77" fill="#fff" stroke="#2020d8" stroke-width="1.0"/>
<polygon points="243.32,29.68 248.05,29.68 245.69,33.77" fill="#fff" stroke="#2020d8" stroke-width="1.0"/>
<polygon points="246.65,29.68 251.38,29.68 249.02,33.77" fill="#fff" stroke="#2020d8" stroke-width="1.0"/>
<polygon points="249.99,29.68 254.72,29.68 252.35,33.77" fill="#fff" stroke="#2020d8" stroke-width="1.0"/>
<polygon points="253.32,29.68 258.05,29.68 255.69,33.77" fill="#fff" stroke="#2020d8" stroke-width="1.0"/>
<polygon points="256.65,29.68 261.38,29.68 259.02,33.77" fill="#fff" stroke="#2020d8" stroke-width="1.0"/>
<polygon points="260.32,29.68 265.05,29.68 262.69,33.77" fill="#fff" stroke="#2020d8" stroke-width="1.0"/>
<polygon points="263.65,29.68 268.38,29.68 266.02,33.77" fill="#fff" stroke="#2020d8" stroke-width="1.0"/>
<polygon points="266.99,29.68 271.72,29.68 269.35,33.77" fill="#fff" stroke="#2020d8" stroke-width="1.0"/>
<polygon points="270.32,29.68 275.05,29.68 272.69,33.77" fill="#fff" stroke="#2020d8" stroke-width="1.0"/>
<polygon points="273.65,29.68 278.38,29.68 276.02,33.77" fill="#fff" stroke="#2020d8" stroke-width="1.0"/>
<path d="M124.25 228 L124.77 223.85 L125.28 219.79 L125.78 215.82 L126.27 211.93 L126.76 208.12 L127.24 204.4 L127.71 200.75 L128.17 197.18 L128.63 193.68 L129.08 190.26 L129.53 186.91 L129.97 183.63 L130.41 180.42 L130.83 177.28 L131.26 174.2 L131.67 171.19 L132.08 168.24 L132.49 165.35 L132.89 162.53 L133.29 159.76 L133.68 157.06 L134.06 154.41 L134.44 151.81 L134.82 149.27 L135.19 146.79 L135.55 144.35 L135.92 141.97 L136.27 139.64 L136.63 137.36 L136.98 135.12 L137.32 132.93 L137.66 130.79 L138 128.7 L138.33 126.64 L138.66 124.63 L138.99 122.67 L139.31 120.74 L139.63 118.86 L139.94 117.01 L140.26 115.21 L140.56 113.44 L140.87 111.71 L141.17 110.02 L141.47 108.36 L141.77 106.73 L142.06 105.15 L142.35 103.59 L142.64 102.07 L142.92 100.58 L143.2 99.12 L143.48 97.69 L143.76 96.29 L144.03 94.92 L144.3 93.58 L144.57 92.27 L144.84 90.99 L145.1 89.73 L145.36 88.5 L145.62 87.29 L145.88 86.12 L146.14 84.96 L146.39 83.83 L146.64 82.73 L146.89 81.64 L147.14 80.58 L147.38 79.55 L147.62 78.53 L147.87 77.54 L148.1 76.56 L148.34 75.61 L148.58 74.68 L148.81 73.76 L149.04 72.87 L149.28 71.99 L149.5 71.14 L149.73 70.3 L149.96 69.48 L150.18 68.68 L150.41 67.89 L150.63 67.12 L150.85 66.37 L151.07 65.63 L151.28 64.91 L151.5 64.2 L151.72 63.51 L151.93 62.83 L152.14 62.17 L152.35 61.52 L152.56 60.88 L152.77 60.26 L152.98 59.65 L153.19 59.05 L153.39 58.47 L153.6 57.9 L153.8 57.34 L154 56.79 L154.2 56.26 L154.4 55.73 L154.6 55.22 L154.8 54.72 L155 54.22 L155.19 53.74 L155.39 53.27 L155.59 52.81 L155.78 52.36 L155.97 51.91 L156.16 51.48 L156.36 51.06 L156.55 50.64 L156.74 50.24 L156.93 49.84 L157.12 49.45 L157.3 49.07 L157.49 48.7 L157.68 48.33 L157.86 47.97 L158.05 47.62 L158.23 47.28 L158.42 46.95 L158.6 46.62 L158.78 46.3 L158.96 45.98 L159.15 45.67 L159.33 45.37 L159.51 45.08 L159.69 44.79 L159.87 44.51 L160.04 44.23 L160.22 43.96 L160.4 43.69 L160.58 43.43 L160.75 43.18 L160.93 42.93 L161.11 42.69 L161.28 42.45 L161.46 42.21 L161.63 41.99 L161.81 41.76 L161.98 41.54 L162.15 41.33 L162.33 41.12 L162.5 40.91 L162.67 40.71 L162.84 40.52 L163.01 40.32 L163.19 40.13 L163.36 39.95 L163.53 39.77 L163.7 39.59 L163.87 39.42 L164.04 39.25 L164.2 39.08 L164.37 38.92 L164.54 38.76 L164.71 38.61 L164.88 38.45 L165.05 38.3 L165.21 38.16 L165.38 38.02 L165.55 37.88 L165.71 37.74 L165.88 37.6 L166.05 37.47 L166.21 37.35 L166.38 37.22 L166.54 37.1 L166.71 36.98 L166.87 36.86 L167.04 36.74 L167.2 36.63 L167.37 36.52 L167.53 36.41 L167.69 36.3 L167.86 36.2 L168.02 36.1 L168.19 36 L168.35 35.9 L168.51 35.81 L168.67 35.71 L168.84 35.62 L169 35.53 L169.16 35.44 L169.32 35.36 L169.49 35.27 L169.65 35.19 L169.81 35.11 L169.97 35.03 L170.13 34.96 L170.29 34.88 L170.45 34.81 L170.62 34.73 L170.78 34.66 L170.94 34.59 L171.1 34.53 L171.26 34.46 L171.42 34.4 L171.58 34.33 L171.74 34.27 L171.9 34.21 L172.06 34.15 L172.22 34.09 L172.38 34.03 L172.54 33.98 L172.7 33.92 L172.86 33.87 L173.02 33.82 L173.18 33.77 L173.33 33.72 L173.49 33.67 L173.65 33.62 L173.81 33.57 L173.97 33.52 L174.13 33.48 L174.29 33.43 L174.45 33.39 L174.6 33.35 L174.76 33.31 L174.92 33.27 L175.08 33.23 L175.24 33.19 L175.39 33.15 L175.55 33.11 L175.71 33.08 L175.87 33.04 L176.03 33.01 L176.18 32.97 L176.34 32.94 L176.5 32.9 L176.66 32.87 L176.81 32.84 L176.97 32.81 L177.13 32.78 L177.29 32.75 L177.44 32.72 L177.6 32.69 L177.76 32.67 L177.91 32.64 L178.07 32.61 L178.23 32.59 L178.38 32.56 L178.54 32.54 L178.7 32.51 L178.86 32.49 L179.01 32.46 L179.17 32.44 L179.33 32.42 L179.48 32.4 L179.64 32.38 L179.8 32.35 L179.95 32.33 L180.11 32.31 L180.26 32.29 L180.42 32.27 L180.58 32.26 L180.73 32.24 L180.89 32.22 L181.05 32.2 L181.2 32.18 L181.36 32.17 L181.51 32.15 L181.67 32.13 L181.83 32.12 L181.98 32.1 L182.14 32.09 L182.29 32.07 L182.45 32.06 L182.61 32.04 L182.76 32.03 L182.92 32.02 L183.07 32 L183.23 31.99 L183.39 31.98 L183.54 31.96 L183.7 31.95 L183.85 31.94 L184.01 31.93 L184.16 31.92 L184.32 31.9 L184.48 31.89 L184.63 31.88 L184.79 31.87 L184.94 31.86 L185.1 31.85 L185.25 31.84 L185.41 31.83 L185.56 31.82 L185.72 31.81 L185.88 31.8 L186.03 31.79 L186.19 31.79 L186.34 31.78 L186.5 31.77 L186.65 31.76 L186.81 31.75 L186.96 31.75 L187.12 31.74 L187.27 31.73 L187.43 31.72 L187.59 31.72 L187.74 31.71 L187.9 31.7 L188.05 31.69 L188.21 31.69 L188.36 31.68 L188.52 31.67 L188.67 31.67 L188.83 31.66 L188.98 31.66 L189.14 31.65 L189.29 31.65 L189.45 31.64 L189.6 31.63 L189.76 31.63 L189.91 31.62 L190.07 31.62 L190.22 31.61 L190.38 31.61 L190.53 31.6 L190.69 31.6 L190.84 31.59 L191 31.59 L191.15 31.59 L191.31 31.58 L191.46 31.58 L191.62 31.57 L191.77 31.57 L191.93 31.56 L192.08 31.56 L192.24 31.56 L192.39 31.55 L192.55 31.55 L192.7 31.55 L192.86 31.54 L193.01 31.54 L193.17 31.54 L193.32 31.53 L193.48 31.53 L193.63 31.53 L193.79 31.52 L193.94 31.52 L194.1 31.52 L194.25 31.51 L194.41 31.51 L194.56 31.51 L194.72 31.51 L194.87 31.5 L195.03 31.5 L195.18 31.5 L195.34 31.5 L195.49 31.49 L195.65 31.49 L195.8 31.49 L195.96 31.49 L196.11 31.48 L196.27 31.48 L196.42 31.48 L196.58 31.48 L196.73 31.47 L196.89 31.47 L197.04 31.47 L197.2 31.47 L197.35 31.47 L197.51 31.47 L197.66 31.46 L197.82 31.46 L197.97 31.46 L198.13 31.46 L198.28 31.46 L198.44 31.45 L198.59 31.45 L198.75 31.45 L198.9 31.45 L199.06 31.45 L199.21 31.45 L199.36 31.45 L199.52 31.44 L199.67 31.44 L199.83 31.44 L199.98 31.44 L200.14 31.44 L200.29 31.44 L200.45 31.44 L200.6 31.44 L200.76 31.43 L200.91 31.43 L201.07 31.43 L201.22 31.43 L201.38 31.43 L201.53 31.43 L201.69 31.43 L201.84 31.43 L202 31.43 L202.15 31.42 L202.31 31.42 L202.46 31.42 L202.62 31.42 L202.77 31.42 L202.93 31.42 L203.08 31.42 L204.08 31.42 L205.08 31.42 L206.08 31.42 L207.08 31.42 L208.08 31.42 L209.08 31.42 L210.08 31.42 L211.08 31.42 L212.08 31.42 L213.08 31.42 L214.08 31.42 L215.08 31.42 L216.08 31.42 L217.08 31.42 L218.08 31.42 L219.08 31.42 L220.08 31.42 L221.08 31.42 L222.08 31.42 L223.08 31.42 L224.08 31.42 L225.08 31.42 L226.08 31.42 L227.08 31.42 L228.08 31.42 L229.08 31.42 L230.08 31.42 L231.08 31.42 L232.08 31.42 L233.08 31.42 L234.08 31.42 L235.08 31.42 L236.08 31.42 L237.08 31.42 L238.08 31.42 L239.08 31.42 L240.08 31.42 L241.08 31.42 L242.08 31.42 L243.08 31.42 L244.08 31.42 L245.08 31.42 L246.08 31.42 L247.08 31.42 L248.08 31.42 L249.08 31.42 L250.08 31.42 L251.08 31.42 L252.08 31.42 L253.08 31.42 L254.08 31.42 L255.08 31.42 L256.08 31.42 L257.08 31.42 L258.08 31.42 L259.08 31.42 L260.08 31.42 L261.08 31.42 L262.08 31.42 L263.08 31.42 L264.08 31.42 L265.08 31.42 L266.08 31.42 L267.08 31.42 L268.08 31.42 L269.08 31.42 L270.08 31.42 L271.08 31.42 L272.08 31.42 L273.08 31.42 L274.08 31.42 L275.08 31.42 L276.08 31.42 L277 31.42" fill="none" stroke="#e030e8" stroke-width="1.2"/>
<polygon points="124.25,225.31 126.4,228 124.25,230.69 122.1,228" fill="#fff" stroke="#e030e8" stroke-width="1.0"/>
<polygon points="125.43,215.88 127.58,218.57 125.43,221.26 123.28,218.57" fill="#fff" stroke="#e030e8" stroke-width="1.0"/>
<polygon points="126.64,206.39 128.79,209.08 126.64,211.76 124.49,209.08" fill="#fff" stroke="#e030e8" stroke-width="1.0"/>
<polygon points="127.82,197.17 129.97,199.86 127.82,202.54 125.67,199.86" fill="#fff" stroke="#e030e8" stroke-width="1.0"/>
<polygon points="129.08,187.57 131.23,190.26 129.08,192.95 126.93,190.26" fill="#fff" stroke="#e030e8" stroke-width="1.0"/>
<polygon points="130.32,178.37 132.47,181.06 130.32,183.75 128.17,181.06" fill="#fff" stroke="#e030e8" stroke-width="1.0"/>
<polygon points="131.59,169.1 133.74,171.79 131.59,174.48 129.44,171.79" fill="#fff" stroke="#e030e8" stroke-width="1.0"/>
<polygon points="132.89,159.84 135.04,162.53 132.89,165.22 130.74,162.53" fill="#fff" stroke="#e030e8" stroke-width="1.0"/>
<polygon points="134.2,150.75 136.35,153.43 134.2,156.12 132.05,153.43" fill="#fff" stroke="#e030e8" stroke-width="1.0"/>
<polygon points="135.55,141.66 137.7,144.35 135.55,147.04 133.4,144.35" fill="#fff" stroke="#e030e8" stroke-width="1.0"/>
<polygon points="136.98,132.43 139.13,135.12 136.98,137.81 134.83,135.12" fill="#fff" stroke="#e030e8" stroke-width="1.0"/>
<polygon points="138.44,123.29 140.59,125.97 138.44,128.66 136.29,125.97" fill="#fff" stroke="#e030e8" stroke-width="1.0"/>
<polygon points="139.94,114.33 142.09,117.01 139.94,119.7 137.79,117.01" fill="#fff" stroke="#e030e8" stroke-width="1.0"/>
<polygon points="141.47,105.67 143.62,108.36 141.47,111.05 139.32,108.36" fill="#fff" stroke="#e030e8" stroke-width="1.0"/>
<polygon points="143.13,96.79 145.28,99.48 143.13,102.17 140.98,99.48" fill="#fff" stroke="#e030e8" stroke-width="1.0"/>
<polygon points="144.84,88.3 146.99,90.99 144.84,93.67 142.69,90.99" fill="#fff" stroke="#e030e8" stroke-width="1.0"/>
<polygon points="146.72,79.68 148.87,82.36 146.72,85.05 144.57,82.36" fill="#fff" stroke="#e030e8" stroke-width="1.0"/>
<polygon points="148.66,71.68 150.81,74.37 148.66,77.06 146.51,74.37" fill="#fff" stroke="#e030e8" stroke-width="1.0"/>
<polygon points="150.85,63.68 153,66.37 150.85,69.05 148.7,66.37" fill="#fff" stroke="#e030e8" stroke-width="1.0"/>
<polygon points="153.19,56.37 155.34,59.05 153.19,61.74 151.04,59.05" fill="#fff" stroke="#e030e8" stroke-width="1.0"/>
<polygon points="155.78,49.67 157.93,52.36 155.78,55.04 153.63,52.36" fill="#fff" stroke="#e030e8" stroke-width="1.0"/>
<polygon points="158.6,43.93 160.75,46.62 158.6,49.3 156.45,46.62" fill="#fff" stroke="#e030e8" stroke-width="1.0"/>
<polygon points="161.46,39.53 163.61,42.21 161.46,44.9 159.31,42.21" fill="#fff" stroke="#e030e8" stroke-width="1.0"/>
<polygon points="164.71,35.92 166.86,38.61 164.71,41.29 162.56,38.61" fill="#fff" stroke="#e030e8" stroke-width="1.0"/>
<polygon points="168.02,33.41 170.17,36.1 168.02,38.79 165.87,36.1" fill="#fff" stroke="#e030e8" stroke-width="1.0"/>
<polygon points="171.26,31.77 173.41,34.46 171.26,37.15 169.11,34.46" fill="#fff" stroke="#e030e8" stroke-width="1.0"/>
<polygon points="174.76,30.62 176.91,33.31 174.76,35.99 172.61,33.31" fill="#fff" stroke="#e030e8" stroke-width="1.0"/>
<polygon points="178.07,29.92 180.22,32.61 178.07,35.3 175.92,32.61" fill="#fff" stroke="#e030e8" stroke-width="1.0"/>
<polygon points="181.51,29.46 183.66,32.15 181.51,34.84 179.36,32.15" fill="#fff" stroke="#e030e8" stroke-width="1.0"/>
<polygon points="184.94,29.17 187.09,31.86 184.94,34.55 182.79,31.86" fill="#fff" stroke="#e030e8" stroke-width="1.0"/>
<polygon points="188.36,28.99 190.51,31.68 188.36,34.37 186.21,31.68" fill="#fff" stroke="#e030e8" stroke-width="1.0"/>
<polygon points="191.62,28.88 193.77,31.57 191.62,34.26 189.47,31.57" fill="#fff" stroke="#e030e8" stroke-width="1.0"/>
<polygon points="195.03,28.81 197.18,31.5 195.03,34.19 192.88,31.5" fill="#fff" stroke="#e030e8" stroke-width="1.0"/>
<polygon points="198.44,28.77 200.59,31.45 198.44,34.14 196.29,31.45" fill="#fff" stroke="#e030e8" stroke-width="1.0"/>
<polygon points="201.84,28.74 203.99,31.43 201.84,34.11 199.69,31.43" fill="#fff" stroke="#e030e8" stroke-width="1.0"/>
<polygon points="205.41,28.73 207.56,31.42 205.41,34.11 203.26,31.42" fill="#fff" stroke="#e030e8" stroke-width="1.0"/>
<polygon points="208.75,28.73 210.9,31.42 208.75,34.11 206.6,31.42" fill="#fff" stroke="#e030e8" stroke-width="1.0"/>
<polygon points="212.08,28.73 214.23,31.42 212.08,34.11 209.93,31.42" fill="#fff" stroke="#e030e8" stroke-width="1.0"/>
<polygon points="215.75,28.73 217.9,31.42 215.75,34.11 213.6,31.42" fill="#fff" stroke="#e030e8" stroke-width="1.0"/>
<polygon points="219.08,28.73 221.23,31.42 219.08,34.11 216.93,31.42" fill="#fff" stroke="#e030e8" stroke-width="1.0"/>
<polygon points="222.41,28.73 224.56,31.42 222.41,34.11 220.26,31.42" fill="#fff" stroke="#e030e8" stroke-width="1.0"/>
<polygon points="225.75,28.73 227.9,31.42 225.75,34.11 223.6,31.42" fill="#fff" stroke="#e030e8" stroke-width="1.0"/>
<polygon points="229.08,28.73 231.23,31.42 229.08,34.11 226.93,31.42" fill="#fff" stroke="#e030e8" stroke-width="1.0"/>
<polygon points="232.75,28.73 234.9,31.42 232.75,34.11 230.6,31.42" fill="#fff" stroke="#e030e8" stroke-width="1.0"/>
<polygon points="236.08,28.73 238.23,31.42 236.08,34.11 233.93,31.42" fill="#fff" stroke="#e030e8" stroke-width="1.0"/>
<polygon points="239.41,28.73 241.56,31.42 239.41,34.11 237.26,31.42" fill="#fff" stroke="#e030e8" stroke-width="1.0"/>
<polygon points="242.75,28.73 244.9,31.42 242.75,34.11 240.6,31.42" fill="#fff" stroke="#e030e8" stroke-width="1.0"/>
<polygon points="246.08,28.73 248.23,31.42 246.08,34.11 243.93,31.42" fill="#fff" stroke="#e030e8" stroke-width="1.0"/>
<polygon points="249.75,28.73 251.9,31.42 249.75,34.11 247.6,31.42" fill="#fff" stroke="#e030e8" stroke-width="1.0"/>
<polygon points="253.08,28.73 255.23,31.42 253.08,34.11 250.93,31.42" fill="#fff" stroke="#e030e8" stroke-width="1.0"/>
<polygon points="256.41,28.73 258.56,31.42 256.41,34.11 254.26,31.42" fill="#fff" stroke="#e030e8" stroke-width="1.0"/>
<polygon points="259.75,28.73 261.9,31.42 259.75,34.11 257.6,31.42" fill="#fff" stroke="#e030e8" stroke-width="1.0"/>
<polygon points="263.08,28.73 265.23,31.42 263.08,34.11 260.93,31.42" fill="#fff" stroke="#e030e8" stroke-width="1.0"/>
<polygon points="266.75,28.73 268.9,31.42 266.75,34.11 264.6,31.42" fill="#fff" stroke="#e030e8" stroke-width="1.0"/>
<polygon points="270.08,28.73 272.23,31.42 270.08,34.11 267.93,31.42" fill="#fff" stroke="#e030e8" stroke-width="1.0"/>
<polygon points="273.41,28.73 275.56,31.42 273.41,34.11 271.26,31.42" fill="#fff" stroke="#e030e8" stroke-width="1.0"/>
<polygon points="276.69,28.73 278.84,31.42 276.69,34.11 274.54,31.42" fill="#fff" stroke="#e030e8" stroke-width="1.0"/>
<path d="M103.5 228 L104.32 223.8 L105.12 219.69 L105.91 215.67 L106.69 211.73 L107.46 207.88 L108.21 204.11 L108.95 200.41 L109.69 196.8 L110.41 193.26 L111.12 189.8 L111.82 186.41 L112.51 183.09 L113.19 179.84 L113.86 176.66 L114.52 173.54 L115.17 170.5 L115.81 167.51 L116.44 164.59 L117.07 161.73 L117.68 158.94 L118.29 156.2 L118.89 153.52 L119.47 150.89 L120.06 148.32 L120.63 145.81 L121.2 143.34 L121.76 140.93 L122.31 138.58 L122.85 136.27 L123.39 134.01 L123.92 131.79 L124.44 129.63 L124.96 127.51 L125.47 125.43 L125.97 123.4 L126.47 121.41 L126.96 119.46 L127.45 117.56 L127.93 115.69 L128.4 113.87 L128.87 112.08 L129.34 110.33 L129.8 108.62 L130.25 106.94 L130.7 105.3 L131.14 103.69 L131.58 102.12 L132.01 100.58 L132.44 99.07 L132.86 97.6 L133.28 96.15 L133.7 94.74 L134.11 93.36 L134.52 92 L134.92 90.68 L135.32 89.38 L135.71 88.11 L136.1 86.86 L136.49 85.65 L136.87 84.45 L137.25 83.29 L137.63 82.15 L138 81.03 L138.37 79.93 L138.73 78.86 L139.1 77.81 L139.46 76.79 L139.81 75.78 L140.17 74.8 L140.52 73.84 L140.86 72.89 L141.21 71.97 L141.55 71.07 L141.89 70.19 L142.22 69.32 L142.56 68.47 L142.89 67.64 L143.22 66.83 L143.54 66.04 L143.87 65.26 L144.19 64.5 L144.51 63.75 L144.82 63.02 L145.14 62.31 L145.45 61.61 L145.76 60.93 L146.07 60.26 L146.37 59.6 L146.68 58.96 L146.98 58.33 L147.28 57.72 L147.58 57.11 L147.87 56.53 L148.17 55.95 L148.46 55.38 L148.75 54.83 L149.04 54.29 L149.33 53.76 L149.61 53.24 L149.9 52.73 L150.18 52.24 L150.46 51.75 L150.74 51.27 L151.02 50.81 L151.3 50.35 L151.57 49.91 L151.85 49.47 L152.12 49.04 L152.39 48.62 L152.66 48.21 L152.93 47.81 L153.2 47.42 L153.47 47.03 L153.73 46.66 L154 46.29 L154.26 45.93 L154.52 45.57 L154.79 45.23 L155.05 44.89 L155.3 44.56 L155.56 44.24 L155.82 43.92 L156.08 43.61 L156.33 43.3 L156.59 43.01 L156.84 42.71 L157.09 42.43 L157.34 42.15 L157.59 41.88 L157.84 41.61 L158.09 41.35 L158.34 41.09 L158.59 40.84 L158.84 40.59 L159.08 40.35 L159.33 40.12 L159.57 39.89 L159.82 39.66 L160.06 39.44 L160.3 39.23 L160.54 39.01 L160.78 38.81 L161.02 38.6 L161.26 38.41 L161.5 38.21 L161.74 38.02 L161.98 37.83 L162.22 37.65 L162.46 37.47 L162.69 37.3 L162.93 37.13 L163.16 36.96 L163.4 36.8 L163.63 36.64 L163.87 36.48 L164.1 36.33 L164.33 36.18 L164.57 36.03 L164.8 35.88 L165.03 35.74 L165.26 35.61 L165.49 35.47 L165.72 35.34 L165.95 35.21 L166.18 35.08 L166.41 34.96 L166.64 34.84 L166.87 34.72 L167.1 34.6 L167.33 34.49 L167.55 34.38 L167.78 34.27 L168.01 34.16 L168.23 34.05 L168.46 33.95 L168.69 33.85 L168.91 33.75 L169.14 33.66 L169.36 33.56 L169.59 33.47 L169.81 33.38 L170.03 33.29 L170.26 33.21 L170.48 33.12 L170.7 33.04 L170.93 32.96 L171.15 32.88 L171.37 32.8 L171.6 32.73 L171.82 32.65 L172.04 32.58 L172.26 32.51 L172.48 32.44 L172.7 32.37 L172.92 32.3 L173.15 32.24 L173.37 32.17 L173.59 32.11 L173.81 32.05 L174.03 31.99 L174.25 31.93 L174.47 31.87 L174.69 31.82 L174.9 31.76 L175.12 31.71 L175.34 31.65 L175.56 31.6 L175.78 31.55 L176 31.5 L176.22 31.45 L176.44 31.41 L176.65 31.36 L176.87 31.31 L177.09 31.27 L177.31 31.23 L177.52 31.18 L177.74 31.14 L177.96 31.1 L178.18 31.06 L178.39 31.02 L178.61 30.98 L178.83 30.95 L179.04 30.91 L179.26 30.87 L179.48 30.84 L179.69 30.8 L179.91 30.77 L180.13 30.74 L180.34 30.7 L180.56 30.67 L180.77 30.64 L180.99 30.61 L181.2 30.58 L181.42 30.55 L181.64 30.52 L181.85 30.5 L182.07 30.47 L182.28 30.44 L182.5 30.42 L182.71 30.39 L182.93 30.37 L183.14 30.34 L183.36 30.32 L183.57 30.29 L183.79 30.27 L184 30.25 L184.22 30.23 L184.43 30.2 L184.64 30.18 L184.86 30.16 L185.07 30.14 L185.29 30.12 L185.5 30.1 L185.72 30.08 L185.93 30.07 L186.14 30.05 L186.36 30.03 L186.57 30.01 L186.79 29.99 L187 29.98 L187.21 29.96 L187.43 29.95 L187.64 29.93 L187.85 29.91 L188.07 29.9 L188.28 29.89 L188.49 29.87 L188.71 29.86 L188.92 29.84 L189.13 29.83 L189.35 29.82 L189.56 29.8 L189.77 29.79 L189.99 29.78 L190.2 29.77 L190.41 29.75 L190.63 29.74 L190.84 29.73 L191.05 29.72 L191.27 29.71 L191.48 29.7 L191.69 29.69 L191.9 29.68 L192.12 29.67 L192.33 29.66 L192.54 29.65 L192.75 29.64 L192.97 29.63 L193.18 29.62 L193.39 29.61 L193.61 29.6 L193.82 29.6 L194.03 29.59 L194.24 29.58 L194.46 29.57 L194.67 29.56 L194.88 29.56 L195.09 29.55 L195.31 29.54 L195.52 29.53 L195.73 29.53 L195.94 29.52 L196.16 29.51 L196.37 29.51 L196.58 29.5 L196.79 29.49 L197 29.49 L197.22 29.48 L197.43 29.48 L197.64 29.47 L197.85 29.46 L198.07 29.46 L198.28 29.45 L198.49 29.45 L198.7 29.44 L198.91 29.44 L199.13 29.43 L199.34 29.43 L199.55 29.42 L199.76 29.42 L199.97 29.41 L200.19 29.41 L200.4 29.41 L200.61 29.4 L200.82 29.4 L201.03 29.39 L201.25 29.39 L201.46 29.39 L201.67 29.38 L201.88 29.38 L202.09 29.37 L202.31 29.37 L202.52 29.37 L202.73 29.36 L202.94 29.36 L203.15 29.36 L203.36 29.35 L203.58 29.35 L203.79 29.35 L204 29.34 L204.21 29.34 L204.42 29.34 L204.64 29.34 L204.85 29.33 L205.06 29.33 L205.27 29.33 L205.48 29.33 L205.69 29.32 L205.91 29.32 L206.12 29.32 L206.33 29.32 L206.54 29.31 L206.75 29.31 L206.96 29.31 L207.18 29.31 L207.39 29.3 L207.6 29.3 L207.81 29.3 L208.02 29.3 L208.23 29.3 L208.45 29.29 L208.66 29.29 L208.87 29.29 L209.08 29.29 L209.29 29.29 L209.5 29.28 L209.72 29.28 L209.93 29.28 L210.14 29.28 L210.35 29.28 L210.56 29.28 L210.77 29.28 L210.99 29.27 L211.2 29.27 L211.41 29.27 L211.62 29.27 L211.83 29.27 L212.04 29.27 L212.26 29.27 L212.47 29.26 L212.68 29.26 L212.89 29.26 L213.1 29.26 L213.31 29.26 L213.52 29.26 L213.74 29.26 L213.95 29.26 L214.16 29.25 L214.37 29.25 L214.58 29.25 L214.79 29.25 L215.01 29.25 L215.22 29.25 L215.43 29.25 L215.64 29.25 L215.85 29.25 L216.06 29.25 L216.27 29.24 L216.49 29.24 L217.49 29.24 L218.49 29.24 L219.49 29.24 L220.49 29.24 L221.49 29.24 L222.49 29.24 L223.49 29.24 L224.49 29.24 L225.49 29.24 L226.49 29.24 L227.49 29.24 L228.49 29.24 L229.49 29.24 L230.49 29.24 L231.49 29.24 L232.49 29.24 L233.49 29.24 L234.49 29.24 L235.49 29.24 L236.49 29.24 L237.49 29.24 L238.49 29.24 L239.49 29.24 L240.49 29.24 L241.49 29.24 L242.49 29.24 L243.49 29.24 L244.49 29.24 L245.49 29.24 L246.49 29.24 L247.49 29.24 L248.49 29.24 L249.49 29.24 L250.49 29.24 L251.49 29.24 L252.49 29.24 L253.49 29.24 L254.49 29.24 L255.49 29.24 L256.49 29.24 L257.49 29.24 L258.49 29.24 L259.49 29.24 L260.49 29.24 L261.49 29.24 L262.49 29.24 L263.49 29.24 L264.49 29.24 L265.49 29.24 L266.49 29.24 L267.49 29.24 L268.49 29.24 L269.49 29.24 L270.49 29.24 L271.49 29.24 L272.49 29.24 L273.49 29.24 L274.49 29.24 L275.49 29.24 L276.49 29.24 L277 29.24" fill="none" stroke="#40e040" stroke-width="1.2"/>
<circle cx="103.5" cy="228" r="2.15" fill="#fff" stroke="#40e040" stroke-width="1.0"/>
<circle cx="105.24" cy="219.07" r="2.15" fill="#fff" stroke="#40e040" stroke-width="1.0"/>
<circle cx="106.92" cy="210.55" r="2.15" fill="#fff" stroke="#40e040" stroke-width="1.0"/>
<circle cx="108.64" cy="201.95" r="2.15" fill="#fff" stroke="#40e040" stroke-width="1.0"/>
<circle cx="110.41" cy="193.26" r="2.15" fill="#fff" stroke="#40e040" stroke-width="1.0"/>
<circle cx="112.13" cy="184.9" r="2.15" fill="#fff" stroke="#40e040" stroke-width="1.0"/>
<circle cx="113.92" cy="176.35" r="2.15" fill="#fff" stroke="#40e040" stroke-width="1.0"/>
<circle cx="115.75" cy="167.81" r="2.15" fill="#fff" stroke="#40e040" stroke-width="1.0"/>
<circle cx="117.61" cy="159.25" r="2.15" fill="#fff" stroke="#40e040" stroke-width="1.0"/>
<circle cx="119.47" cy="150.89" r="2.15" fill="#fff" stroke="#40e040" stroke-width="1.0"/>
<circle cx="121.34" cy="142.74" r="2.15" fill="#fff" stroke="#40e040" stroke-width="1.0"/>
<circle cx="123.31" cy="134.33" r="2.15" fill="#fff" stroke="#40e040" stroke-width="1.0"/>
<circle cx="125.25" cy="126.32" r="2.15" fill="#fff" stroke="#40e040" stroke-width="1.0"/>
<circle cx="127.29" cy="118.19" r="2.15" fill="#fff" stroke="#40e040" stroke-width="1.0"/>
<circle cx="129.34" cy="110.33" r="2.15" fill="#fff" stroke="#40e040" stroke-width="1.0"/>
<circle cx="131.49" cy="102.43" r="2.15" fill="#fff" stroke="#40e040" stroke-width="1.0"/>
<circle cx="133.7" cy="94.74" r="2.15" fill="#fff" stroke="#40e040" stroke-width="1.0"/>
<circle cx="135.91" cy="87.49" r="2.15" fill="#fff" stroke="#40e040" stroke-width="1.0"/>
<circle cx="138.25" cy="80.3" r="2.15" fill="#fff" stroke="#40e040" stroke-width="1.0"/>
<circle cx="140.75" cy="73.21" r="2.15" fill="#fff" stroke="#40e040" stroke-width="1.0"/>
<circle cx="143.38" cy="66.44" r="2.15" fill="#fff" stroke="#40e040" stroke-width="1.0"/>
<circle cx="145.91" cy="60.59" r="2.15" fill="#fff" stroke="#40e040" stroke-width="1.0"/>
<circle cx="148.75" cy="54.83" r="2.15" fill="#fff" stroke="#40e040" stroke-width="1.0"/>
<circle cx="151.85" cy="49.47" r="2.15" fill="#fff" stroke="#40e040" stroke-width="1.0"/>
<circle cx="154.79" cy="45.23" r="2.15" fill="#fff" stroke="#40e040" stroke-width="1.0"/>
<circle cx="157.84" cy="41.61" r="2.15" fill="#fff" stroke="#40e040" stroke-width="1.0"/>
<circle cx="161.26" cy="38.41" r="2.15" fill="#fff" stroke="#40e040" stroke-width="1.0"/>
<circle cx="164.57" cy="36.03" r="2.15" fill="#fff" stroke="#40e040" stroke-width="1.0"/>
<circle cx="167.78" cy="34.27" r="2.15" fill="#fff" stroke="#40e040" stroke-width="1.0"/>
<circle cx="171.15" cy="32.88" r="2.15" fill="#fff" stroke="#40e040" stroke-width="1.0"/>
<circle cx="174.47" cy="31.87" r="2.15" fill="#fff" stroke="#40e040" stroke-width="1.0"/>
<circle cx="177.96" cy="31.1" r="2.15" fill="#fff" stroke="#40e040" stroke-width="1.0"/>
<circle cx="181.42" cy="30.55" r="2.15" fill="#fff" stroke="#40e040" stroke-width="1.0"/>
<circle cx="184.86" cy="30.16" r="2.15" fill="#fff" stroke="#40e040" stroke-width="1.0"/>
<circle cx="188.07" cy="29.9" r="2.15" fill="#fff" stroke="#40e040" stroke-width="1.0"/>
<circle cx="191.48" cy="29.7" r="2.15" fill="#fff" stroke="#40e040" stroke-width="1.0"/>
<circle cx="194.88" cy="29.56" r="2.15" fill="#fff" stroke="#40e040" stroke-width="1.0"/>
<circle cx="198.28" cy="29.45" r="2.15" fill="#fff" stroke="#40e040" stroke-width="1.0"/>
<circle cx="201.67" cy="29.38" r="2.15" fill="#fff" stroke="#40e040" stroke-width="1.0"/>
<circle cx="205.06" cy="29.33" r="2.15" fill="#fff" stroke="#40e040" stroke-width="1.0"/>
<circle cx="208.66" cy="29.29" r="2.15" fill="#fff" stroke="#40e040" stroke-width="1.0"/>
<circle cx="212.04" cy="29.27" r="2.15" fill="#fff" stroke="#40e040" stroke-width="1.0"/>
<circle cx="215.43" cy="29.25" r="2.15" fill="#fff" stroke="#40e040" stroke-width="1.0"/>
<circle cx="218.82" cy="29.24" r="2.15" fill="#fff" stroke="#40e040" stroke-width="1.0"/>
<circle cx="222.15" cy="29.24" r="2.15" fill="#fff" stroke="#40e040" stroke-width="1.0"/>
<circle cx="225.49" cy="29.24" r="2.15" fill="#fff" stroke="#40e040" stroke-width="1.0"/>
<circle cx="229.15" cy="29.24" r="2.15" fill="#fff" stroke="#40e040" stroke-width="1.0"/>
<circle cx="232.49" cy="29.24" r="2.15" fill="#fff" stroke="#40e040" stroke-width="1.0"/>
<circle cx="235.82" cy="29.24" r="2.15" fill="#fff" stroke="#40e040" stroke-width="1.0"/>
<circle cx="239.15" cy="29.24" r="2.15" fill="#fff" stroke="#40e040" stroke-width="1.0"/>
<circle cx="242.49" cy="29.24" r="2.15" fill="#fff" stroke="#40e040" stroke-width="1.0"/>
<circle cx="246.15" cy="29.24" r="2.15" fill="#fff" stroke="#40e040" stroke-width="1.0"/>
<circle cx="249.49" cy="29.24" r="2.15" fill="#fff" stroke="#40e040" stroke-width="1.0"/>
<circle cx="252.82" cy="29.24" r="2.15" fill="#fff" stroke="#40e040" stroke-width="1.0"/>
<circle cx="256.15" cy="29.24" r="2.15" fill="#fff" stroke="#40e040" stroke-width="1.0"/>
<circle cx="259.49" cy="29.24" r="2.15" fill="#fff" stroke="#40e040" stroke-width="1.0"/>
<circle cx="263.15" cy="29.24" r="2.15" fill="#fff" stroke="#40e040" stroke-width="1.0"/>
<circle cx="266.49" cy="29.24" r="2.15" fill="#fff" stroke="#40e040" stroke-width="1.0"/>
<circle cx="269.82" cy="29.24" r="2.15" fill="#fff" stroke="#40e040" stroke-width="1.0"/>
<circle cx="273.15" cy="29.24" r="2.15" fill="#fff" stroke="#40e040" stroke-width="1.0"/>
<circle cx="276.49" cy="29.24" r="2.15" fill="#fff" stroke="#40e040" stroke-width="1.0"/>
<path d="M109.96 228 L110.61 223.79 L111.25 219.68 L111.88 215.65 L112.5 211.7 L113.11 207.84 L113.71 204.07 L114.31 200.37 L114.89 196.74 L115.47 193.2 L116.03 189.73 L116.59 186.33 L117.14 183.01 L117.69 179.75 L118.22 176.57 L118.75 173.45 L119.27 170.4 L119.78 167.41 L120.29 164.48 L120.79 161.62 L121.28 158.82 L121.76 156.07 L122.24 153.39 L122.72 150.76 L123.18 148.18 L123.64 145.67 L124.1 143.2 L124.55 140.79 L124.99 138.42 L125.43 136.11 L125.86 133.84 L126.29 131.63 L126.71 129.46 L127.12 127.33 L127.53 125.26 L127.94 123.22 L128.34 121.23 L128.74 119.28 L129.13 117.37 L129.52 115.5 L129.9 113.67 L130.28 111.88 L130.66 110.13 L131.03 108.41 L131.39 106.73 L131.76 105.09 L132.11 103.48 L132.47 101.91 L132.82 100.36 L133.17 98.85 L133.51 97.38 L133.85 95.93 L134.19 94.52 L134.52 93.13 L134.85 91.77 L135.18 90.44 L135.5 89.14 L135.82 87.87 L136.14 86.63 L136.46 85.41 L136.77 84.21 L137.08 83.05 L137.38 81.9 L137.69 80.78 L137.99 79.69 L138.29 78.61 L138.58 77.56 L138.88 76.54 L139.17 75.53 L139.46 74.54 L139.74 73.58 L140.03 72.64 L140.31 71.71 L140.59 70.81 L140.86 69.92 L141.14 69.06 L141.41 68.21 L141.68 67.38 L141.95 66.57 L142.22 65.77 L142.49 64.99 L142.75 64.23 L143.01 63.48 L143.27 62.75 L143.53 62.04 L143.79 61.34 L144.04 60.65 L144.3 59.98 L144.55 59.32 L144.8 58.68 L145.05 58.05 L145.29 57.44 L145.54 56.83 L145.78 56.24 L146.03 55.67 L146.27 55.1 L146.51 54.55 L146.75 54 L146.99 53.47 L147.22 52.96 L147.46 52.45 L147.69 51.95 L147.92 51.46 L148.16 50.99 L148.39 50.52 L148.62 50.06 L148.84 49.62 L149.07 49.18 L149.3 48.75 L149.52 48.33 L149.75 47.92 L149.97 47.52 L150.19 47.12 L150.41 46.74 L150.63 46.36 L150.85 45.99 L151.07 45.63 L151.29 45.28 L151.51 44.93 L151.72 44.59 L151.94 44.26 L152.15 43.94 L152.37 43.62 L152.58 43.31 L152.79 43 L153 42.71 L153.22 42.41 L153.43 42.13 L153.64 41.85 L153.84 41.58 L154.05 41.31 L154.26 41.05 L154.47 40.79 L154.67 40.54 L154.88 40.29 L155.08 40.05 L155.29 39.81 L155.49 39.58 L155.7 39.36 L155.9 39.14 L156.1 38.92 L156.3 38.71 L156.51 38.5 L156.71 38.3 L156.91 38.1 L157.11 37.91 L157.31 37.71 L157.51 37.53 L157.7 37.35 L157.9 37.17 L158.1 36.99 L158.3 36.82 L158.49 36.65 L158.69 36.49 L158.89 36.33 L159.08 36.17 L159.28 36.02 L159.47 35.87 L159.67 35.72 L159.86 35.58 L160.06 35.44 L160.25 35.3 L160.44 35.16 L160.64 35.03 L160.83 34.9 L161.02 34.77 L161.21 34.65 L161.41 34.53 L161.6 34.41 L161.79 34.29 L161.98 34.18 L162.17 34.07 L162.36 33.96 L162.55 33.85 L162.74 33.74 L162.93 33.64 L163.12 33.54 L163.31 33.44 L163.5 33.35 L163.69 33.25 L163.88 33.16 L164.07 33.07 L164.25 32.98 L164.44 32.9 L164.63 32.81 L164.82 32.73 L165 32.65 L165.19 32.57 L165.38 32.49 L165.56 32.41 L165.75 32.34 L165.94 32.27 L166.12 32.2 L166.31 32.13 L166.5 32.06 L166.68 31.99 L166.87 31.93 L167.05 31.86 L167.24 31.8 L167.42 31.74 L167.61 31.68 L167.79 31.62 L167.98 31.56 L168.16 31.5 L168.35 31.45 L168.53 31.39 L168.71 31.34 L168.9 31.29 L169.08 31.24 L169.27 31.19 L169.45 31.14 L169.63 31.09 L169.82 31.05 L170 31 L170.18 30.96 L170.37 30.91 L170.55 30.87 L170.73 30.83 L170.92 30.79 L171.1 30.75 L171.28 30.71 L171.46 30.67 L171.65 30.63 L171.83 30.6 L172.01 30.56 L172.19 30.52 L172.37 30.49 L172.56 30.46 L172.74 30.42 L172.92 30.39 L173.1 30.36 L173.28 30.33 L173.47 30.3 L173.65 30.27 L173.83 30.24 L174.01 30.21 L174.19 30.18 L174.37 30.15 L174.55 30.13 L174.74 30.1 L174.92 30.08 L175.1 30.05 L175.28 30.03 L175.46 30 L175.64 29.98 L175.82 29.96 L176 29.93 L176.18 29.91 L176.36 29.89 L176.54 29.87 L176.72 29.85 L176.9 29.83 L177.09 29.81 L177.27 29.79 L177.45 29.77 L177.63 29.75 L177.81 29.73 L177.99 29.72 L178.17 29.7 L178.35 29.68 L178.53 29.66 L178.71 29.65 L178.89 29.63 L179.07 29.62 L179.25 29.6 L179.43 29.59 L179.61 29.57 L179.79 29.56 L179.97 29.54 L180.15 29.53 L180.33 29.51 L180.51 29.5 L180.69 29.49 L180.87 29.48 L181.04 29.46 L181.22 29.45 L181.4 29.44 L181.58 29.43 L181.76 29.42 L181.94 29.41 L182.12 29.39 L182.3 29.38 L182.48 29.37 L182.66 29.36 L182.84 29.35 L183.02 29.34 L183.2 29.33 L183.38 29.32 L183.56 29.32 L183.74 29.31 L183.92 29.3 L184.09 29.29 L184.27 29.28 L184.45 29.27 L184.63 29.26 L184.81 29.26 L184.99 29.25 L185.17 29.24 L185.35 29.23 L185.53 29.23 L185.71 29.22 L185.89 29.21 L186.06 29.21 L186.24 29.2 L186.42 29.19 L186.6 29.19 L186.78 29.18 L186.96 29.17 L187.14 29.17 L187.32 29.16 L187.5 29.16 L187.67 29.15 L187.85 29.14 L188.03 29.14 L188.21 29.13 L188.39 29.13 L188.57 29.12 L188.75 29.12 L188.93 29.11 L189.11 29.11 L189.28 29.1 L189.46 29.1 L189.64 29.1 L189.82 29.09 L190 29.09 L190.18 29.08 L190.36 29.08 L190.53 29.07 L190.71 29.07 L190.89 29.07 L191.07 29.06 L191.25 29.06 L191.43 29.06 L191.61 29.05 L191.79 29.05 L191.96 29.05 L192.14 29.04 L192.32 29.04 L192.5 29.04 L192.68 29.03 L192.86 29.03 L193.04 29.03 L193.21 29.02 L193.39 29.02 L193.57 29.02 L193.75 29.02 L193.93 29.01 L194.11 29.01 L194.29 29.01 L194.46 29.01 L194.64 29 L194.82 29 L195 29 L195.18 29 L195.36 28.99 L195.53 28.99 L195.71 28.99 L195.89 28.99 L196.07 28.98 L196.25 28.98 L196.43 28.98 L196.61 28.98 L196.78 28.98 L196.96 28.98 L197.14 28.97 L197.32 28.97 L197.5 28.97 L197.68 28.97 L197.85 28.97 L198.03 28.96 L198.21 28.96 L198.39 28.96 L198.57 28.96 L198.75 28.96 L198.92 28.96 L199.1 28.96 L199.28 28.95 L199.46 28.95 L199.64 28.95 L199.82 28.95 L200 28.95 L200.17 28.95 L200.35 28.95 L200.53 28.95 L200.71 28.94 L200.89 28.94 L201.07 28.94 L201.24 28.94 L201.42 28.94 L201.6 28.94 L201.78 28.94 L201.96 28.94 L202.14 28.94 L202.31 28.93 L202.49 28.93 L202.67 28.93 L202.85 28.93 L203.03 28.93 L203.21 28.93 L203.38 28.93 L204.38 28.93 L205.38 28.93 L206.38 28.93 L207.38 28.93 L208.38 28.93 L209.38 28.93 L210.38 28.93 L211.38 28.93 L212.38 28.93 L213.38 28.93 L214.38 28.93 L215.38 28.93 L216.38 28.93 L217.38 28.93 L218.38 28.93 L219.38 28.93 L220.38 28.93 L221.38 28.93 L222.38 28.93 L223.38 28.93 L224.38 28.93 L225.38 28.93 L226.38 28.93 L227.38 28.93 L228.38 28.93 L229.38 28.93 L230.38 28.93 L231.38 28.93 L232.38 28.93 L233.38 28.93 L234.38 28.93 L235.38 28.93 L236.38 28.93 L237.38 28.93 L238.38 28.93 L239.38 28.93 L240.38 28.93 L241.38 28.93 L242.38 28.93 L243.38 28.93 L244.38 28.93 L245.38 28.93 L246.38 28.93 L247.38 28.93 L248.38 28.93 L249.38 28.93 L250.38 28.93 L251.38 28.93 L252.38 28.93 L253.38 28.93 L254.38 28.93 L255.38 28.93 L256.38 28.93 L257.38 28.93 L258.38 28.93 L259.38 28.93 L260.38 28.93 L261.38 28.93 L262.38 28.93 L263.38 28.93 L264.38 28.93 L265.38 28.93 L266.38 28.93 L267.38 28.93 L268.38 28.93 L269.38 28.93 L270.38 28.93 L271.38 28.93 L272.38 28.93 L273.38 28.93 L274.38 28.93 L275.38 28.93 L276.38 28.93 L277 28.93" fill="none" stroke="#303030" stroke-width="1.2"/>
<circle cx="109.96" cy="228" r="2.15" fill="#fff" stroke="#303030" stroke-width="1.0"/>
<circle cx="111.4" cy="218.75" r="2.15" fill="#fff" stroke="#303030" stroke-width="1.0"/>
<circle cx="112.83" cy="209.63" r="2.15" fill="#fff" stroke="#303030" stroke-width="1.0"/>
<circle cx="114.26" cy="200.67" r="2.15" fill="#fff" stroke="#303030" stroke-width="1.0"/>
<circle cx="115.72" cy="191.62" r="2.15" fill="#fff" stroke="#303030" stroke-width="1.0"/>
<circle cx="117.2" cy="182.68" r="2.15" fill="#fff" stroke="#303030" stroke-width="1.0"/>
<circle cx="118.7" cy="173.76" r="2.15" fill="#fff" stroke="#303030" stroke-width="1.0"/>
<circle cx="120.23" cy="164.81" r="2.15" fill="#fff" stroke="#303030" stroke-width="1.0"/>
<circle cx="121.82" cy="155.77" r="2.15" fill="#fff" stroke="#303030" stroke-width="1.0"/>
<circle cx="123.41" cy="146.92" r="2.15" fill="#fff" stroke="#303030" stroke-width="1.0"/>
<circle cx="125.05" cy="138.09" r="2.15" fill="#fff" stroke="#303030" stroke-width="1.0"/>
<circle cx="126.71" cy="129.46" r="2.15" fill="#fff" stroke="#303030" stroke-width="1.0"/>
<circle cx="128.41" cy="120.9" r="2.15" fill="#fff" stroke="#303030" stroke-width="1.0"/>
<circle cx="130.22" cy="112.18" r="2.15" fill="#fff" stroke="#303030" stroke-width="1.0"/>
<circle cx="132.04" cy="103.8" r="2.15" fill="#fff" stroke="#303030" stroke-width="1.0"/>
<circle cx="133.94" cy="95.58" r="2.15" fill="#fff" stroke="#303030" stroke-width="1.0"/>
<circle cx="135.9" cy="87.56" r="2.15" fill="#fff" stroke="#303030" stroke-width="1.0"/>
<circle cx="137.99" cy="79.69" r="2.15" fill="#fff" stroke="#303030" stroke-width="1.0"/>
<circle cx="140.21" cy="72.02" r="2.15" fill="#fff" stroke="#303030" stroke-width="1.0"/>
<circle cx="142.62" cy="64.61" r="2.15" fill="#fff" stroke="#303030" stroke-width="1.0"/>
<circle cx="145.05" cy="58.05" r="2.15" fill="#fff" stroke="#303030" stroke-width="1.0"/>
<circle cx="147.92" cy="51.46" r="2.15" fill="#fff" stroke="#303030" stroke-width="1.0"/>
<circle cx="150.63" cy="46.36" r="2.15" fill="#fff" stroke="#303030" stroke-width="1.0"/>
<circle cx="153.64" cy="41.85" r="2.15" fill="#fff" stroke="#303030" stroke-width="1.0"/>
<circle cx="156.91" cy="38.1" r="2.15" fill="#fff" stroke="#303030" stroke-width="1.0"/>
<circle cx="160.06" cy="35.44" r="2.15" fill="#fff" stroke="#303030" stroke-width="1.0"/>
<circle cx="163.5" cy="33.35" r="2.15" fill="#fff" stroke="#303030" stroke-width="1.0"/>
<circle cx="166.87" cy="31.93" r="2.15" fill="#fff" stroke="#303030" stroke-width="1.0"/>
<circle cx="170.18" cy="30.96" r="2.15" fill="#fff" stroke="#303030" stroke-width="1.0"/>
<circle cx="173.65" cy="30.27" r="2.15" fill="#fff" stroke="#303030" stroke-width="1.0"/>
<circle cx="176.9" cy="29.83" r="2.15" fill="#fff" stroke="#303030" stroke-width="1.0"/>
<circle cx="180.33" cy="29.51" r="2.15" fill="#fff" stroke="#303030" stroke-width="1.0"/>
<circle cx="183.74" cy="29.31" r="2.15" fill="#fff" stroke="#303030" stroke-width="1.0"/>
<circle cx="187.14" cy="29.17" r="2.15" fill="#fff" stroke="#303030" stroke-width="1.0"/>
<circle cx="190.53" cy="29.07" r="2.15" fill="#fff" stroke="#303030" stroke-width="1.0"/>
<circle cx="193.93" cy="29.01" r="2.15" fill="#fff" stroke="#303030" stroke-width="1.0"/>
<circle cx="197.32" cy="28.97" r="2.15" fill="#fff" stroke="#303030" stroke-width="1.0"/>
<circle cx="200.71" cy="28.94" r="2.15" fill="#fff" stroke="#303030" stroke-width="1.0"/>
<circle cx="204.38" cy="28.93" r="2.15" fill="#fff" stroke="#303030" stroke-width="1.0"/>
<circle cx="207.72" cy="28.93" r="2.15" fill="#fff" stroke="#303030" stroke-width="1.0"/>
<circle cx="211.05" cy="28.93" r="2.15" fill="#fff" stroke="#303030" stroke-width="1.0"/>
<circle cx="214.38" cy="28.93" r="2.15" fill="#fff" stroke="#303030" stroke-width="1.0"/>
<circle cx="217.72" cy="28.93" r="2.15" fill="#fff" stroke="#303030" stroke-width="1.0"/>
<circle cx="221.38" cy="28.93" r="2.15" fill="#fff" stroke="#303030" stroke-width="1.0"/>
<circle cx="224.72" cy="28.93" r="2.15" fill="#fff" stroke="#303030" stroke-width="1.0"/>
<circle cx="228.05" cy="28.93" r="2.15" fill="#fff" stroke="#303030" stroke-width="1.0"/>
<circle cx="231.38" cy="28.93" r="2.15" fill="#fff" stroke="#303030" stroke-width="1.0"/>
<circle cx="234.72" cy="28.93" r="2.15" fill="#fff" stroke="#303030" stroke-width="1.0"/>
<circle cx="238.38" cy="28.93" r="2.15" fill="#fff" stroke="#303030" stroke-width="1.0"/>
<circle cx="241.72" cy="28.93" r="2.15" fill="#fff" stroke="#303030" stroke-width="1.0"/>
<circle cx="245.05" cy="28.93" r="2.15" fill="#fff" stroke="#303030" stroke-width="1.0"/>
<circle cx="248.38" cy="28.93" r="2.15" fill="#fff" stroke="#303030" stroke-width="1.0"/>
<circle cx="251.72" cy="28.93" r="2.15" fill="#fff" stroke="#303030" stroke-width="1.0"/>
<circle cx="255.38" cy="28.93" r="2.15" fill="#fff" stroke="#303030" stroke-width="1.0"/>
<circle cx="258.72" cy="28.93" r="2.15" fill="#fff" stroke="#303030" stroke-width="1.0"/>
<circle cx="262.05" cy="28.93" r="2.15" fill="#fff" stroke="#303030" stroke-width="1.0"/>
<circle cx="265.38" cy="28.93" r="2.15" fill="#fff" stroke="#303030" stroke-width="1.0"/>
<circle cx="268.72" cy="28.93" r="2.15" fill="#fff" stroke="#303030" stroke-width="1.0"/>
<circle cx="272.38" cy="28.93" r="2.15" fill="#fff" stroke="#303030" stroke-width="1.0"/>
<circle cx="275.72" cy="28.93" r="2.15" fill="#fff" stroke="#303030" stroke-width="1.0"/>
<path d="M87.6 228 L88.68 223.78 L89.75 219.66 L90.8 215.62 L91.83 211.66 L92.85 207.79 L93.84 204 L94.82 200.29 L95.78 196.66 L96.73 193.11 L97.66 189.63 L98.57 186.22 L99.47 182.89 L100.35 179.62 L101.22 176.43 L102.07 173.3 L102.91 170.24 L103.74 167.25 L104.55 164.31 L105.35 161.44 L106.14 158.63 L106.91 155.88 L107.67 153.19 L108.42 150.55 L109.16 147.97 L109.88 145.45 L110.6 142.97 L111.3 140.55 L111.99 138.19 L112.67 135.87 L113.34 133.6 L114 131.37 L114.65 129.2 L115.29 127.07 L115.92 124.99 L116.55 122.95 L117.16 120.95 L117.76 118.99 L118.35 117.08 L118.94 115.21 L119.52 113.37 L120.09 111.58 L120.65 109.82 L121.2 108.1 L121.74 106.42 L122.28 104.77 L122.81 103.16 L123.33 101.58 L123.85 100.03 L124.36 98.52 L124.86 97.04 L125.35 95.59 L125.84 94.17 L126.32 92.78 L126.8 91.42 L127.27 90.09 L127.73 88.79 L128.19 87.51 L128.64 86.26 L129.09 85.04 L129.53 83.84 L129.96 82.67 L130.39 81.53 L130.82 80.4 L131.24 79.31 L131.65 78.23 L132.06 77.18 L132.47 76.15 L132.87 75.14 L133.26 74.15 L133.65 73.19 L134.04 72.24 L134.42 71.31 L134.8 70.41 L135.17 69.52 L135.54 68.65 L135.91 67.8 L136.27 66.97 L136.63 66.15 L136.99 65.36 L137.34 64.58 L137.69 63.81 L138.03 63.06 L138.37 62.33 L138.71 61.62 L139.04 60.91 L139.38 60.23 L139.7 59.55 L140.03 58.9 L140.35 58.25 L140.67 57.62 L140.99 57 L141.3 56.4 L141.61 55.81 L141.92 55.23 L142.23 54.66 L142.53 54.11 L142.83 53.57 L143.13 53.03 L143.42 52.51 L143.72 52.01 L144.01 51.51 L144.3 51.02 L144.58 50.54 L144.87 50.07 L145.15 49.62 L145.43 49.17 L145.71 48.73 L145.98 48.3 L146.26 47.88 L146.53 47.47 L146.8 47.07 L147.07 46.67 L147.34 46.29 L147.6 45.91 L147.86 45.54 L148.13 45.18 L148.39 44.82 L148.64 44.47 L148.9 44.14 L149.16 43.8 L149.41 43.48 L149.66 43.16 L149.91 42.85 L150.16 42.54 L150.41 42.24 L150.66 41.95 L150.9 41.67 L151.15 41.39 L151.39 41.11 L151.63 40.84 L151.87 40.58 L152.11 40.32 L152.35 40.07 L152.59 39.82 L152.82 39.58 L153.06 39.35 L153.29 39.12 L153.53 38.89 L153.76 38.67 L153.99 38.45 L154.22 38.24 L154.45 38.03 L154.67 37.83 L154.9 37.63 L155.13 37.43 L155.35 37.24 L155.58 37.06 L155.8 36.87 L156.02 36.69 L156.24 36.52 L156.46 36.35 L156.68 36.18 L156.9 36.02 L157.12 35.86 L157.34 35.7 L157.56 35.54 L157.77 35.39 L157.99 35.25 L158.21 35.1 L158.42 34.96 L158.63 34.82 L158.85 34.69 L159.06 34.55 L159.27 34.42 L159.48 34.3 L159.69 34.17 L159.9 34.05 L160.11 33.93 L160.32 33.81 L160.53 33.7 L160.74 33.59 L160.95 33.48 L161.16 33.37 L161.36 33.27 L161.57 33.16 L161.77 33.06 L161.98 32.96 L162.18 32.87 L162.39 32.77 L162.59 32.68 L162.8 32.59 L163 32.5 L163.2 32.42 L163.4 32.33 L163.61 32.25 L163.81 32.17 L164.01 32.09 L164.21 32.01 L164.41 31.93 L164.61 31.86 L164.81 31.79 L165.01 31.71 L165.21 31.64 L165.41 31.58 L165.61 31.51 L165.81 31.44 L166 31.38 L166.2 31.32 L166.4 31.26 L166.6 31.19 L166.79 31.14 L166.99 31.08 L167.18 31.02 L167.38 30.97 L167.58 30.91 L167.77 30.86 L167.97 30.81 L168.16 30.76 L168.36 30.71 L168.55 30.66 L168.75 30.61 L168.94 30.56 L169.13 30.52 L169.33 30.47 L169.52 30.43 L169.72 30.39 L169.91 30.35 L170.1 30.3 L170.29 30.26 L170.49 30.23 L170.68 30.19 L170.87 30.15 L171.06 30.11 L171.26 30.08 L171.45 30.04 L171.64 30.01 L171.83 29.97 L172.02 29.94 L172.21 29.91 L172.4 29.87 L172.6 29.84 L172.79 29.81 L172.98 29.78 L173.17 29.75 L173.36 29.73 L173.55 29.7 L173.74 29.67 L173.93 29.64 L174.12 29.62 L174.31 29.59 L174.5 29.57 L174.69 29.54 L174.88 29.52 L175.06 29.49 L175.25 29.47 L175.44 29.45 L175.63 29.43 L175.82 29.41 L176.01 29.38 L176.2 29.36 L176.39 29.34 L176.58 29.32 L176.76 29.3 L176.95 29.29 L177.14 29.27 L177.33 29.25 L177.52 29.23 L177.7 29.21 L177.89 29.2 L178.08 29.18 L178.27 29.16 L178.46 29.15 L178.64 29.13 L178.83 29.12 L179.02 29.1 L179.21 29.09 L179.39 29.07 L179.58 29.06 L179.77 29.04 L179.95 29.03 L180.14 29.02 L180.33 29 L180.52 28.99 L180.7 28.98 L180.89 28.97 L181.08 28.96 L181.26 28.94 L181.45 28.93 L181.64 28.92 L181.82 28.91 L182.01 28.9 L182.2 28.89 L182.38 28.88 L182.57 28.87 L182.75 28.86 L182.94 28.85 L183.13 28.84 L183.31 28.83 L183.5 28.82 L183.69 28.81 L183.87 28.8 L184.06 28.8 L184.24 28.79 L184.43 28.78 L184.62 28.77 L184.8 28.76 L184.99 28.76 L185.17 28.75 L185.36 28.74 L185.54 28.73 L185.73 28.73 L185.92 28.72 L186.1 28.71 L186.29 28.71 L186.47 28.7 L186.66 28.69 L186.84 28.69 L187.03 28.68 L187.21 28.68 L187.4 28.67 L187.59 28.67 L187.77 28.66 L187.96 28.65 L188.14 28.65 L188.33 28.64 L188.51 28.64 L188.7 28.63 L188.88 28.63 L189.07 28.62 L189.25 28.62 L189.44 28.61 L189.62 28.61 L189.81 28.61 L189.99 28.6 L190.18 28.6 L190.36 28.59 L190.55 28.59 L190.73 28.59 L190.92 28.58 L191.1 28.58 L191.29 28.57 L191.47 28.57 L191.66 28.57 L191.84 28.56 L192.03 28.56 L192.21 28.56 L192.4 28.55 L192.58 28.55 L192.77 28.55 L192.95 28.54 L193.14 28.54 L193.32 28.54 L193.51 28.54 L193.69 28.53 L193.88 28.53 L194.06 28.53 L194.25 28.53 L194.43 28.52 L194.62 28.52 L194.8 28.52 L194.99 28.52 L195.17 28.51 L195.36 28.51 L195.54 28.51 L195.73 28.51 L195.91 28.5 L196.09 28.5 L196.28 28.5 L196.46 28.5 L196.65 28.5 L196.83 28.49 L197.02 28.49 L197.2 28.49 L197.39 28.49 L197.57 28.49 L197.76 28.48 L197.94 28.48 L198.13 28.48 L198.31 28.48 L198.49 28.48 L198.68 28.48 L198.86 28.48 L199.05 28.47 L199.23 28.47 L199.42 28.47 L199.6 28.47 L199.79 28.47 L199.97 28.47 L200.16 28.47 L200.34 28.46 L200.52 28.46 L200.71 28.46 L200.89 28.46 L201.08 28.46 L201.26 28.46 L201.45 28.46 L201.63 28.46 L201.82 28.45 L202 28.45 L202.18 28.45 L202.37 28.45 L202.55 28.45 L202.74 28.45 L202.92 28.45 L203.11 28.45 L203.29 28.45 L203.48 28.45 L203.66 28.44 L203.84 28.44 L204.84 28.44 L205.84 28.44 L206.84 28.44 L207.84 28.44 L208.84 28.44 L209.84 28.44 L210.84 28.44 L211.84 28.44 L212.84 28.44 L213.84 28.44 L214.84 28.44 L215.84 28.44 L216.84 28.44 L217.84 28.44 L218.84 28.44 L219.84 28.44 L220.84 28.44 L221.84 28.44 L222.84 28.44 L223.84 28.44 L224.84 28.44 L225.84 28.44 L226.84 28.44 L227.84 28.44 L228.84 28.44 L229.84 28.44 L230.84 28.44 L231.84 28.44 L232.84 28.44 L233.84 28.44 L234.84 28.44 L235.84 28.44 L236.84 28.44 L237.84 28.44 L238.84 28.44 L239.84 28.44 L240.84 28.44 L241.84 28.44 L242.84 28.44 L243.84 28.44 L244.84 28.44 L245.84 28.44 L246.84 28.44 L247.84 28.44 L248.84 28.44 L249.84 28.44 L250.84 28.44 L251.84 28.44 L252.84 28.44 L253.84 28.44 L254.84 28.44 L255.84 28.44 L256.84 28.44 L257.84 28.44 L258.84 28.44 L259.84 28.44 L260.84 28.44 L261.84 28.44 L262.84 28.44 L263.84 28.44 L264.84 28.44 L265.84 28.44 L266.84 28.44 L267.84 28.44 L268.84 28.44 L269.84 28.44 L270.84 28.44 L271.84 28.44 L272.84 28.44 L273.84 28.44 L274.84 28.44 L275.84 28.44 L276.84 28.44 L277 28.44" fill="none" stroke="#ff9030" stroke-width="1.2"/>
<polygon points="89.32,225.63 89.32,230.36 85.23,228" fill="#fff" stroke="#ff9030" stroke-width="1.0"/>
<polygon points="91.39,217.59 91.39,222.32 87.31,219.95" fill="#fff" stroke="#ff9030" stroke-width="1.0"/>
<polygon points="93.47,209.6 93.47,214.33 89.39,211.96" fill="#fff" stroke="#ff9030" stroke-width="1.0"/>
<polygon points="95.56,201.64 95.56,206.37 91.48,204" fill="#fff" stroke="#ff9030" stroke-width="1.0"/>
<polygon points="97.66,193.7 97.66,198.43 93.57,196.07" fill="#fff" stroke="#ff9030" stroke-width="1.0"/>
<polygon points="99.71,186.02 99.71,190.75 95.62,188.39" fill="#fff" stroke="#ff9030" stroke-width="1.0"/>
<polygon points="101.83,178.15 101.83,182.88 97.75,180.51" fill="#fff" stroke="#ff9030" stroke-width="1.0"/>
<polygon points="103.96,170.33 103.96,175.06 99.88,172.69" fill="#fff" stroke="#ff9030" stroke-width="1.0"/>
<polygon points="106.11,162.53 106.11,167.26 102.03,164.9" fill="#fff" stroke="#ff9030" stroke-width="1.0"/>
<polygon points="108.29,154.74 108.29,159.47 104.2,157.1" fill="#fff" stroke="#ff9030" stroke-width="1.0"/>
<polygon points="110.51,146.9 110.51,151.63 106.42,149.26" fill="#fff" stroke="#ff9030" stroke-width="1.0"/>
<polygon points="112.67,139.4 112.67,144.13 108.58,141.76" fill="#fff" stroke="#ff9030" stroke-width="1.0"/>
<polygon points="114.87,131.88 114.87,136.61 110.79,134.24" fill="#fff" stroke="#ff9030" stroke-width="1.0"/>
<polygon points="117.1,124.41 117.1,129.14 113.02,126.77" fill="#fff" stroke="#ff9030" stroke-width="1.0"/>
<polygon points="119.38,116.95 119.38,121.68 115.3,119.32" fill="#fff" stroke="#ff9030" stroke-width="1.0"/>
<polygon points="121.71,109.51 121.71,114.24 117.63,111.88" fill="#fff" stroke="#ff9030" stroke-width="1.0"/>
<polygon points="124,102.41 124,107.14 119.92,104.77" fill="#fff" stroke="#ff9030" stroke-width="1.0"/>
<polygon points="126.38,95.27 126.38,100 122.29,97.63" fill="#fff" stroke="#ff9030" stroke-width="1.0"/>
<polygon points="128.87,88.06 128.87,92.79 124.79,90.42" fill="#fff" stroke="#ff9030" stroke-width="1.0"/>
<polygon points="131.36,81.19 131.36,85.92 127.27,83.55" fill="#fff" stroke="#ff9030" stroke-width="1.0"/>
<polygon points="133.92,74.47 133.92,79.2 129.83,76.83" fill="#fff" stroke="#ff9030" stroke-width="1.0"/>
<polygon points="136.52,68.04 136.52,72.77 132.44,70.41" fill="#fff" stroke="#ff9030" stroke-width="1.0"/>
<polygon points="139.23,61.83 139.23,66.56 135.15,64.19" fill="#fff" stroke="#ff9030" stroke-width="1.0"/>
<polygon points="141.91,56.21 141.91,60.94 137.82,58.57" fill="#fff" stroke="#ff9030" stroke-width="1.0"/>
<polygon points="144.85,50.67 144.85,55.4 140.76,53.03" fill="#fff" stroke="#ff9030" stroke-width="1.0"/>
<polygon points="147.7,45.93 147.7,50.66 143.62,48.3" fill="#fff" stroke="#ff9030" stroke-width="1.0"/>
<polygon points="150.88,41.44 150.88,46.17 146.79,43.8" fill="#fff" stroke="#ff9030" stroke-width="1.0"/>
<polygon points="154.07,37.71 154.07,42.44 149.99,40.07" fill="#fff" stroke="#ff9030" stroke-width="1.0"/>
<polygon points="157.3,34.69 157.3,39.42 153.21,37.06" fill="#fff" stroke="#ff9030" stroke-width="1.0"/>
<polygon points="160.57,32.32 160.57,37.05 156.48,34.69" fill="#fff" stroke="#ff9030" stroke-width="1.0"/>
<polygon points="163.9,30.5 163.9,35.23 159.82,32.87" fill="#fff" stroke="#ff9030" stroke-width="1.0"/>
<polygon points="167.33,29.14 167.33,33.87 163.24,31.51" fill="#fff" stroke="#ff9030" stroke-width="1.0"/>
<polygon points="170.66,28.2 170.66,32.93 166.58,30.56" fill="#fff" stroke="#ff9030" stroke-width="1.0"/>
<polygon points="173.93,27.54 173.93,32.27 169.85,29.91" fill="#fff" stroke="#ff9030" stroke-width="1.0"/>
<polygon points="177.35,27.06 177.35,31.79 173.27,29.43" fill="#fff" stroke="#ff9030" stroke-width="1.0"/>
<polygon points="180.74,26.74 180.74,31.47 176.65,29.1" fill="#fff" stroke="#ff9030" stroke-width="1.0"/>
<polygon points="184.29,26.5 184.29,31.23 180.2,28.87" fill="#fff" stroke="#ff9030" stroke-width="1.0"/>
<polygon points="187.64,26.36 187.64,31.09 183.55,28.72" fill="#fff" stroke="#ff9030" stroke-width="1.0"/>
<polygon points="190.97,26.25 190.97,30.98 186.89,28.62" fill="#fff" stroke="#ff9030" stroke-width="1.0"/>
<polygon points="194.49,26.18 194.49,30.91 190.4,28.55" fill="#fff" stroke="#ff9030" stroke-width="1.0"/>
<polygon points="197.81,26.14 197.81,30.87 193.73,28.5" fill="#fff" stroke="#ff9030" stroke-width="1.0"/>
<polygon points="201.14,26.11 201.14,30.84 197.05,28.47" fill="#fff" stroke="#ff9030" stroke-width="1.0"/>
<polygon points="204.64,26.08 204.64,30.81 200.56,28.45" fill="#fff" stroke="#ff9030" stroke-width="1.0"/>
<polygon points="208.23,26.08 208.23,30.81 204.15,28.44" fill="#fff" stroke="#ff9030" stroke-width="1.0"/>
<polygon points="211.56,26.08 211.56,30.81 207.48,28.44" fill="#fff" stroke="#ff9030" stroke-width="1.0"/>
<polygon points="214.9,26.08 214.9,30.81 210.81,28.44" fill="#fff" stroke="#ff9030" stroke-width="1.0"/>
<polygon points="218.23,26.08 218.23,30.81 214.15,28.44" fill="#fff" stroke="#ff9030" stroke-width="1.0"/>
<polygon points="221.56,26.08 221.56,30.81 217.48,28.44" fill="#fff" stroke="#ff9030" stroke-width="1.0"/>
<polygon points="225.23,26.08 225.23,30.81 221.15,28.44" fill="#fff" stroke="#ff9030" stroke-width="1.0"/>
<polygon points="228.56,26.08 228.56,30.81 224.48,28.44" fill="#fff" stroke="#ff9030" stroke-width="1.0"/>
<polygon points="231.9,26.08 231.9,30.81 227.81,28.44" fill="#fff" stroke="#ff9030" stroke-width="1.0"/>
<polygon points="235.23,26.08 235.23,30.81 231.15,28.44" fill="#fff" stroke="#ff9030" stroke-width="1.0"/>
<polygon points="238.56,26.08 238.56,30.81 234.48,28.44" fill="#fff" stroke="#ff9030" stroke-width="1.0"/>
<polygon points="242.23,26.08 242.23,30.81 238.15,28.44" fill="#fff" stroke="#ff9030" stroke-width="1.0"/>
<polygon points="245.56,26.08 245.56,30.81 241.48,28.44" fill="#fff" stroke="#ff9030" stroke-width="1.0"/>
<polygon points="248.9,26.08 248.9,30.81 244.81,28.44" fill="#fff" stroke="#ff9030" stroke-width="1.0"/>
<polygon points="252.23,26.08 252.23,30.81 248.15,28.44" fill="#fff" stroke="#ff9030" stroke-width="1.0"/>
<polygon points="255.56,26.08 255.56,30.81 251.48,28.44" fill="#fff" stroke="#ff9030" stroke-width="1.0"/>
<polygon points="259.23,26.08 259.23,30.81 255.15,28.44" fill="#fff" stroke="#ff9030" stroke-width="1.0"/>
<polygon points="262.56,26.08 262.56,30.81 258.48,28.44" fill="#fff" stroke="#ff9030" stroke-width="1.0"/>
<polygon points="265.9,26.08 265.9,30.81 261.81,28.44" fill="#fff" stroke="#ff9030" stroke-width="1.0"/>
<polygon points="269.23,26.08 269.23,30.81 265.15,28.44" fill="#fff" stroke="#ff9030" stroke-width="1.0"/>
<polygon points="272.56,26.08 272.56,30.81 268.48,28.44" fill="#fff" stroke="#ff9030" stroke-width="1.0"/>
<polygon points="276.23,26.08 276.23,30.81 272.15,28.44" fill="#fff" stroke="#ff9030" stroke-width="1.0"/>
<path d="M62 26.3 H330 V227.6 H62 Z" fill="none" stroke="#4a4a4a" stroke-width="1.3"/>
<line x1="58.5" y1="28.3" x2="62" y2="28.3" stroke="#4a4a4a" stroke-width="1.2"/>
<line x1="58.5" y1="68.16" x2="62" y2="68.16" stroke="#4a4a4a" stroke-width="1.2"/>
<line x1="58.5" y1="108.02" x2="62" y2="108.02" stroke="#4a4a4a" stroke-width="1.2"/>
<line x1="58.5" y1="147.88" x2="62" y2="147.88" stroke="#4a4a4a" stroke-width="1.2"/>
<line x1="58.5" y1="187.74" x2="62" y2="187.74" stroke="#4a4a4a" stroke-width="1.2"/>
<line x1="58.5" y1="227.6" x2="62" y2="227.6" stroke="#4a4a4a" stroke-width="1.2"/>
<line x1="59.8" y1="48.23" x2="62" y2="48.23" stroke="#4a4a4a" stroke-width="1"/>
<line x1="59.8" y1="88.09" x2="62" y2="88.09" stroke="#4a4a4a" stroke-width="1"/>
<line x1="59.8" y1="127.95" x2="62" y2="127.95" stroke="#4a4a4a" stroke-width="1"/>
<line x1="59.8" y1="167.81" x2="62" y2="167.81" stroke="#4a4a4a" stroke-width="1"/>
<line x1="59.8" y1="207.67" x2="62" y2="207.67" stroke="#4a4a4a" stroke-width="1"/>
<text x="53.7" y="32.26" font-size="11" text-anchor="end" fill="#222" stroke="#222" stroke-width="0.28">0</text>
<text x="53.7" y="72.12" font-size="11" text-anchor="end" fill="#222" stroke="#222" stroke-width="0.28">−20</text>
<text x="53.7" y="111.98" font-size="11" text-anchor="end" fill="#222" stroke="#222" stroke-width="0.28">−40</text>
<text x="53.7" y="151.84" font-size="11" text-anchor="end" fill="#222" stroke="#222" stroke-width="0.28">−60</text>
<text x="53.7" y="191.7" font-size="11" text-anchor="end" fill="#222" stroke="#222" stroke-width="0.28">−80</text>
<text x="53.7" y="231.56" font-size="11" text-anchor="end" fill="#222" stroke="#222" stroke-width="0.28">100</text>
<line x1="84.33" y1="227.6" x2="84.33" y2="231.1" stroke="#4a4a4a" stroke-width="1.2"/>
<line x1="129" y1="227.6" x2="129" y2="231.1" stroke="#4a4a4a" stroke-width="1.2"/>
<line x1="173.67" y1="227.6" x2="173.67" y2="231.1" stroke="#4a4a4a" stroke-width="1.2"/>
<line x1="218.33" y1="227.6" x2="218.33" y2="231.1" stroke="#4a4a4a" stroke-width="1.2"/>
<line x1="263" y1="227.6" x2="263" y2="231.1" stroke="#4a4a4a" stroke-width="1.2"/>
<line x1="307.67" y1="227.6" x2="307.67" y2="231.1" stroke="#4a4a4a" stroke-width="1.2"/>
<line x1="106.67" y1="227.6" x2="106.67" y2="229.8" stroke="#4a4a4a" stroke-width="1"/>
<line x1="151.33" y1="227.6" x2="151.33" y2="229.8" stroke="#4a4a4a" stroke-width="1"/>
<line x1="196" y1="227.6" x2="196" y2="229.8" stroke="#4a4a4a" stroke-width="1"/>
<line x1="240.67" y1="227.6" x2="240.67" y2="229.8" stroke="#4a4a4a" stroke-width="1"/>
<line x1="285.33" y1="227.6" x2="285.33" y2="229.8" stroke="#4a4a4a" stroke-width="1"/>
<text x="84.33" y="244.9" font-size="11" text-anchor="middle" fill="#222" stroke="#222" stroke-width="0.28">−0.3</text>
<text x="129" y="244.9" font-size="11" text-anchor="middle" fill="#222" stroke="#222" stroke-width="0.28">−0.2</text>
<text x="173.67" y="244.9" font-size="11" text-anchor="middle" fill="#222" stroke="#222" stroke-width="0.28">−0.1</text>
<text x="218.33" y="244.9" font-size="11" text-anchor="middle" fill="#222" stroke="#222" stroke-width="0.28">0.0</text>
<text x="263" y="244.9" font-size="11" text-anchor="middle" fill="#222" stroke="#222" stroke-width="0.28">0.1</text>
<text x="307.67" y="244.9" font-size="11" text-anchor="middle" fill="#222" stroke="#222" stroke-width="0.28">0.2</text>
<text x="196" y="260.5" font-size="11" text-anchor="middle" fill="#222" stroke="#222" stroke-width="0.28">Potential (V vs. RHE)</text>
<text x="25.8" y="122.5" font-size="10.4" text-anchor="middle" fill="#222" stroke="#222" stroke-width="0.2" transform="rotate(-90 25.8 122.5)">Current density (mA cm<tspan dy="-4.37" font-size="6.66" stroke-width="0.1">−2</tspan><tspan dy="4.37">)</tspan></text>
<line x1="170" y1="102.4" x2="194" y2="102.4" stroke="#40e040" stroke-width="1.3"/>
<circle cx="182" cy="102.4" r="1.8" fill="#fff" stroke="#40e040" stroke-width="1.0"/>
<text x="199" y="105.8" font-size="9.3" text-anchor="start" fill="#222" stroke="#222" stroke-width="0.2">Co(4.0)/Se-MoS<tspan dy="3.07" font-size="5.77" stroke-width="0.1">2</tspan><tspan dy="-3.07">-NF</tspan></text>
<line x1="170" y1="120" x2="194" y2="120" stroke="#2020d8" stroke-width="1.3"/>
<polygon points="180.02,118.56 183.98,118.56 182,121.98" fill="#fff" stroke="#2020d8" stroke-width="1.0"/>
<text x="199" y="123.4" font-size="9.3" text-anchor="start" fill="#222" stroke="#222" stroke-width="0.2">Co(7.0)/Se-MoS<tspan dy="3.07" font-size="5.77" stroke-width="0.1">2</tspan><tspan dy="-3.07">-NF</tspan></text>
<line x1="170" y1="137.6" x2="194" y2="137.6" stroke="#e03838" stroke-width="1.3"/>
<circle cx="182" cy="137.6" r="1.8" fill="#fff" stroke="#e03838" stroke-width="1.0"/>
<text x="199" y="141" font-size="9.3" text-anchor="start" fill="#222" stroke="#222" stroke-width="0.2">Co(10.4)/Se-MoS<tspan dy="3.07" font-size="5.77" stroke-width="0.1">2</tspan><tspan dy="-3.07">-NF</tspan></text>
<line x1="170" y1="155.2" x2="194" y2="155.2" stroke="#e030e8" stroke-width="1.3"/>
<polygon points="182,152.95 183.8,155.2 182,157.45 180.2,155.2" fill="#fff" stroke="#e030e8" stroke-width="1.0"/>
<text x="199" y="158.6" font-size="9.3" text-anchor="start" fill="#222" stroke="#222" stroke-width="0.2">Co(12.2)/Se-MoS<tspan dy="3.07" font-size="5.77" stroke-width="0.1">2</tspan><tspan dy="-3.07">-NF</tspan></text>
<line x1="170" y1="172.8" x2="194" y2="172.8" stroke="#303030" stroke-width="1.3"/>
<circle cx="182" cy="172.8" r="1.8" fill="#fff" stroke="#303030" stroke-width="1.0"/>
<text x="199" y="176.2" font-size="9.3" text-anchor="start" fill="#222" stroke="#222" stroke-width="0.2">Co(14.6)/Se-MoS<tspan dy="3.07" font-size="5.77" stroke-width="0.1">2</tspan><tspan dy="-3.07">-NF</tspan></text>
<line x1="170" y1="190.4" x2="194" y2="190.4" stroke="#ff9030" stroke-width="1.3"/>
<polygon points="183.44,188.42 183.44,192.38 180.02,190.4" fill="#fff" stroke="#ff9030" stroke-width="1.0"/>
<text x="199" y="193.8" font-size="9.3" text-anchor="start" fill="#222" stroke="#222" stroke-width="0.2">Co(10.4)-MoS<tspan dy="3.07" font-size="5.77" stroke-width="0.1">2</tspan><tspan dy="-3.07">-NF</tspan></text>
<line x1="170" y1="208" x2="194" y2="208" stroke="#a0a030" stroke-width="1.3"/>
<polygon points="180.02,209.44 183.98,209.44 182,206.02" fill="#fff" stroke="#a0a030" stroke-width="1.0"/>
<text x="199" y="211.4" font-size="9.3" text-anchor="start" fill="#222" stroke="#222" stroke-width="0.2">40% Pt/C</text>
<text x="348.2" y="25.5" font-size="18" fill="#111" stroke="#fff" stroke-width="0.2">(<tspan font-size="16.5">b</tspan>)</text>
<line x1="452.6" y1="156.6" x2="665.7" y2="81.1" stroke="#111" stroke-width="1.6"/>
<line x1="454.4" y1="178.3" x2="665.7" y2="108.8" stroke="#111" stroke-width="1.6"/>
<line x1="452.6" y1="188.1" x2="665.7" y2="119.5" stroke="#111" stroke-width="1.6"/>
<line x1="475.4" y1="194.3" x2="665.7" y2="139.9" stroke="#111" stroke-width="1.6"/>
<line x1="476.6" y1="218.7" x2="665" y2="195.6" stroke="#111" stroke-width="1.6"/>
<path d="M474.3 145.11 L474.8 144.98 L475.3 144.85 L475.8 144.72 L476.3 144.59 L476.8 144.46 L477.3 144.34 L477.8 144.21 L478.3 144.08 L478.81 143.95 L479.31 143.83 L479.81 143.7 L480.31 143.57 L480.81 143.44 L481.31 143.32 L481.81 143.19 L482.31 143.06 L482.81 142.93 L483.31 142.8 L483.81 142.68 L484.31 142.55 L484.81 142.42 L485.31 142.29 L485.81 142.16 L486.31 142.03 L486.81 141.9 L487.31 141.77 L487.82 141.64 L488.32 141.51 L488.82 141.38 L489.32 141.24 L489.82 141.11 L490.32 140.98 L490.82 140.85 L491.32 140.71 L491.82 140.58 L492.32 140.45 L492.82 140.31 L493.32 140.18 L493.82 140.04 L494.32 139.9 L494.82 139.77 L495.32 139.63 L495.82 139.49 L496.32 139.35 L496.83 139.21 L497.33 139.07 L497.83 138.93 L498.33 138.79 L498.83 138.64 L499.33 138.5 L499.83 138.36 L500.33 138.21 L500.83 138.07 L501.33 137.92 L501.83 137.77 L502.33 137.63 L502.83 137.48 L503.33 137.34 L503.83 137.19 L504.33 137.05 L504.83 136.9 L505.33 136.75 L505.84 136.61 L506.34 136.46 L506.84 136.32 L507.34 136.17 L507.84 136.02 L508.34 135.87 L508.84 135.72 L509.34 135.57 L509.84 135.42 L510.34 135.27 L510.84 135.12 L511.34 134.97 L511.84 134.82 L512.34 134.67 L512.84 134.51 L513.34 134.36 L513.84 134.2 L514.34 134.05 L514.85 133.89 L515.35 133.73 L515.85 133.57 L516.35 133.41 L516.85 133.26 L517.35 133.1 L517.85 132.93 L518.35 132.77 L518.85 132.61 L519.35 132.45 L519.85 132.29 L520.35 132.12 L520.85 131.96 L521.35 131.79 L521.85 131.63 L522.35 131.46 L522.85 131.29 L523.35 131.13 L523.86 130.96 L524.36 130.79 L524.86 130.63 L525.36 130.46 L525.86 130.29 L526.36 130.12 L526.86 129.95 L527.36 129.78 L527.86 129.61 L528.36 129.44 L528.86 129.27 L529.36 129.1 L529.86 128.92 L530.36 128.75 L530.86 128.58 L531.36 128.41 L531.86 128.24 L532.36 128.06 L532.87 127.89 L533.37 127.72 L533.87 127.54 L534.37 127.37 L534.87 127.2 L535.37 127.02 L535.87 126.85 L536.37 126.68 L536.87 126.5 L537.37 126.33 L537.87 126.15 L538.37 125.98 L538.87 125.8 L539.37 125.63 L539.87 125.45 L540.37 125.28 L540.87 125.1 L541.37 124.93 L541.88 124.75 L542.38 124.58 L542.88 124.4 L543.38 124.23 L543.88 124.05 L544.38 123.88 L544.88 123.7 L545.38 123.52 L545.88 123.35 L546.38 123.17 L546.88 123 L547.38 122.82 L547.88 122.64 L548.38 122.47 L548.88 122.29 L549.38 122.11 L549.88 121.94 L550.38 121.76 L550.89 121.58 L551.39 121.41 L551.89 121.23 L552.39 121.05 L552.89 120.88 L553.39 120.7 L553.89 120.52 L554.39 120.34 L554.89 120.17 L555.39 119.99 L555.89 119.81 L556.39 119.63 L556.89 119.46 L557.39 119.28 L557.89 119.1 L558.39 118.92 L558.89 118.74 L559.39 118.56 L559.9 118.39 L560.4 118.21 L560.9 118.03 L561.4 117.85 L561.9 117.67 L562.4 117.49 L562.9 117.31 L563.4 117.13 L563.9 116.96 L564.4 116.78 L564.9 116.6 L565.4 116.42 L565.9 116.24 L566.4 116.06 L566.9 115.88 L567.4 115.7 L567.9 115.52 L568.4 115.34 L568.91 115.16 L569.41 114.98 L569.91 114.8 L570.41 114.62 L570.91 114.44 L571.41 114.26 L571.91 114.08 L572.41 113.89 L572.91 113.71 L573.41 113.53 L573.91 113.35 L574.41 113.17 L574.91 112.99 L575.41 112.81 L575.91 112.62 L576.41 112.44 L576.91 112.26 L577.41 112.08 L577.92 111.9 L578.42 111.71 L578.92 111.53 L579.42 111.35 L579.92 111.16 L580.42 110.98 L580.92 110.8 L581.42 110.61 L581.92 110.43 L582.42 110.25 L582.92 110.06 L583.42 109.88 L583.92 109.69 L584.42 109.51 L584.92 109.32 L585.42 109.13 L585.92 108.95 L586.42 108.76 L586.93 108.57 L587.43 108.39 L587.93 108.2 L588.43 108.01 L588.93 107.82 L589.43 107.64 L589.93 107.45 L590.43 107.26 L590.93 107.07 L591.43 106.88 L591.93 106.68 L592.43 106.49 L592.93 106.3 L593.43 106.11 L593.93 105.91 L594.43 105.72 L594.93 105.53 L595.43 105.33 L595.94 105.13 L596.44 104.94 L596.94 104.74 L597.44 104.54 L597.94 104.34 L598.44 104.15 L598.94 103.94 L599.44 103.74 L599.94 103.54 L600.44 103.34 L600.94 103.14 L601.44 102.93 L601.94 102.73 L602.44 102.52 L602.94 102.32 L603.44 102.11 L603.94 101.9 L604.44 101.69 L604.95 101.48 L605.45 101.27 L605.95 101.06 L606.45 100.85 L606.95 100.63 L607.45 100.42 L607.95 100.2 L608.45 99.98 L608.95 99.77 L609.45 99.55 L609.95 99.33 L610.45 99.11 L610.95 98.89 L611.45 98.66 L611.95 98.44 L612.45 98.22 L612.95 97.99 L613.45 97.77 L613.96 97.54 L614.46 97.31 L614.96 97.09 L615.46 96.86 L615.96 96.63 L616.46 96.4 L616.96 96.18 L617.46 95.95 L617.96 95.72 L618.46 95.49 L618.96 95.26 L619.46 95.04 L619.96 94.81 L620.46 94.58 L620.96 94.35 L621.46 94.12 L621.96 93.89 L622.46 93.66 L622.97 93.43 L623.47 93.19 L623.97 92.96 L624.47 92.72 L624.97 92.48 L625.47 92.24 L625.97 92 L626.47 91.76 L626.97 91.52 L627.47 91.28 L627.97 91.03 L628.47 90.78 L628.97 90.54 L629.47 90.29 L629.97 90.04 L630.47 89.78 L630.97 89.53 L631.47 89.28 L631.98 89.02 L632.48 88.76 L632.98 88.5 L633.48 88.24 L633.98 87.98 L634.48 87.71 L634.98 87.45 L635.48 87.18 L635.98 86.91 L636.48 86.64 L636.98 86.37 L637.48 86.1 L637.98 85.82 L638.48 85.55 L638.98 85.27 L639.48 84.99 L639.98 84.71 L640.48 84.43 L640.99 84.14 L641.49 83.85 L641.99 83.56 L642.49 83.26 L642.99 82.95 L643.49 82.65 L643.99 82.34 L644.49 82.03 L644.99 81.71 L645.49 81.39 L645.99 81.07 L646.49 80.75 L646.99 80.42 L647.49 80.09 L647.99 79.76 L648.49 79.43 L648.99 79.1 L649.49 78.76 L650 78.43 L650.5 78.09 L651 77.75 L651.5 77.42 L652 77.08 L652.5 76.74 L653 76.4 L653.5 76.07 L654 75.75" fill="none" stroke="#ff8a14" stroke-width="3.2"/>
<polygon points="475.82,143.02 475.82,147.2 472.21,145.11" fill="#ff8a14" stroke="#ff8a14" stroke-width="1.0"/>
<polygon points="478.92,142.22 478.92,146.4 475.31,144.31" fill="#ff8a14" stroke="#ff8a14" stroke-width="1.0"/>
<polygon points="482.02,141.43 482.02,145.61 478.41,143.52" fill="#ff8a14" stroke="#ff8a14" stroke-width="1.0"/>
<polygon points="485.12,140.64 485.12,144.82 481.51,142.73" fill="#ff8a14" stroke="#ff8a14" stroke-width="1.0"/>
<polygon points="488.22,139.84 488.22,144.02 484.61,141.93" fill="#ff8a14" stroke="#ff8a14" stroke-width="1.0"/>
<polygon points="491.31,139.03 491.31,143.21 487.7,141.12" fill="#ff8a14" stroke="#ff8a14" stroke-width="1.0"/>
<polygon points="494.41,138.2 494.41,142.38 490.8,140.29" fill="#ff8a14" stroke="#ff8a14" stroke-width="1.0"/>
<polygon points="497.49,137.36 497.49,141.54 493.88,139.45" fill="#ff8a14" stroke="#ff8a14" stroke-width="1.0"/>
<polygon points="500.57,136.49 500.57,140.67 496.96,138.58" fill="#ff8a14" stroke="#ff8a14" stroke-width="1.0"/>
<polygon points="503.64,135.6 503.64,139.78 500.03,137.69" fill="#ff8a14" stroke="#ff8a14" stroke-width="1.0"/>
<polygon points="506.72,134.7 506.72,138.88 503.11,136.79" fill="#ff8a14" stroke="#ff8a14" stroke-width="1.0"/>
<polygon points="509.79,133.8 509.79,137.98 506.18,135.89" fill="#ff8a14" stroke="#ff8a14" stroke-width="1.0"/>
<polygon points="512.85,132.88 512.85,137.06 509.24,134.97" fill="#ff8a14" stroke="#ff8a14" stroke-width="1.0"/>
<polygon points="515.91,131.94 515.91,136.12 512.3,134.03" fill="#ff8a14" stroke="#ff8a14" stroke-width="1.0"/>
<polygon points="518.96,130.98 518.96,135.16 515.35,133.07" fill="#ff8a14" stroke="#ff8a14" stroke-width="1.0"/>
<polygon points="522.01,129.99 522.01,134.17 518.4,132.08" fill="#ff8a14" stroke="#ff8a14" stroke-width="1.0"/>
<polygon points="525.04,128.98 525.04,133.16 521.43,131.07" fill="#ff8a14" stroke="#ff8a14" stroke-width="1.0"/>
<polygon points="528.08,127.96 528.08,132.14 524.47,130.05" fill="#ff8a14" stroke="#ff8a14" stroke-width="1.0"/>
<polygon points="531.11,126.93 531.11,131.11 527.5,129.02" fill="#ff8a14" stroke="#ff8a14" stroke-width="1.0"/>
<polygon points="534.13,125.89 534.13,130.07 530.52,127.98" fill="#ff8a14" stroke="#ff8a14" stroke-width="1.0"/>
<polygon points="537.15,124.84 537.15,129.02 533.54,126.93" fill="#ff8a14" stroke="#ff8a14" stroke-width="1.0"/>
<polygon points="540.18,123.79 540.18,127.97 536.57,125.88" fill="#ff8a14" stroke="#ff8a14" stroke-width="1.0"/>
<polygon points="543.2,122.73 543.2,126.91 539.59,124.82" fill="#ff8a14" stroke="#ff8a14" stroke-width="1.0"/>
<polygon points="546.22,121.67 546.22,125.85 542.61,123.76" fill="#ff8a14" stroke="#ff8a14" stroke-width="1.0"/>
<polygon points="549.24,120.61 549.24,124.79 545.63,122.7" fill="#ff8a14" stroke="#ff8a14" stroke-width="1.0"/>
<polygon points="552.25,119.55 552.25,123.73 548.64,121.64" fill="#ff8a14" stroke="#ff8a14" stroke-width="1.0"/>
<polygon points="555.27,118.48 555.27,122.66 551.66,120.57" fill="#ff8a14" stroke="#ff8a14" stroke-width="1.0"/>
<polygon points="558.29,117.41 558.29,121.59 554.68,119.5" fill="#ff8a14" stroke="#ff8a14" stroke-width="1.0"/>
<polygon points="561.3,116.34 561.3,120.52 557.69,118.43" fill="#ff8a14" stroke="#ff8a14" stroke-width="1.0"/>
<polygon points="564.31,115.26 564.31,119.44 560.7,117.35" fill="#ff8a14" stroke="#ff8a14" stroke-width="1.0"/>
<polygon points="567.33,114.18 567.33,118.36 563.72,116.27" fill="#ff8a14" stroke="#ff8a14" stroke-width="1.0"/>
<polygon points="570.34,113.1 570.34,117.28 566.73,115.19" fill="#ff8a14" stroke="#ff8a14" stroke-width="1.0"/>
<polygon points="573.35,112.01 573.35,116.19 569.74,114.1" fill="#ff8a14" stroke="#ff8a14" stroke-width="1.0"/>
<polygon points="576.36,110.92 576.36,115.1 572.75,113.01" fill="#ff8a14" stroke="#ff8a14" stroke-width="1.0"/>
<polygon points="579.37,109.83 579.37,114.01 575.76,111.92" fill="#ff8a14" stroke="#ff8a14" stroke-width="1.0"/>
<polygon points="582.37,108.73 582.37,112.91 578.76,110.82" fill="#ff8a14" stroke="#ff8a14" stroke-width="1.0"/>
<polygon points="585.37,107.63 585.37,111.81 581.76,109.72" fill="#ff8a14" stroke="#ff8a14" stroke-width="1.0"/>
<polygon points="588.37,106.51 588.37,110.69 584.76,108.6" fill="#ff8a14" stroke="#ff8a14" stroke-width="1.0"/>
<polygon points="591.37,105.39 591.37,109.57 587.76,107.48" fill="#ff8a14" stroke="#ff8a14" stroke-width="1.0"/>
<polygon points="594.36,104.25 594.36,108.43 590.75,106.34" fill="#ff8a14" stroke="#ff8a14" stroke-width="1.0"/>
<polygon points="597.34,103.09 597.34,107.27 593.73,105.18" fill="#ff8a14" stroke="#ff8a14" stroke-width="1.0"/>
<polygon points="600.32,101.91 600.32,106.09 596.71,104" fill="#ff8a14" stroke="#ff8a14" stroke-width="1.0"/>
<polygon points="603.28,100.71 603.28,104.89 599.67,102.8" fill="#ff8a14" stroke="#ff8a14" stroke-width="1.0"/>
<polygon points="606.24,99.49 606.24,103.67 602.63,101.58" fill="#ff8a14" stroke="#ff8a14" stroke-width="1.0"/>
<polygon points="609.18,98.23 609.18,102.41 605.57,100.32" fill="#ff8a14" stroke="#ff8a14" stroke-width="1.0"/>
<polygon points="612.12,96.95 612.12,101.13 608.51,99.04" fill="#ff8a14" stroke="#ff8a14" stroke-width="1.0"/>
<polygon points="615.04,95.65 615.04,99.83 611.43,97.74" fill="#ff8a14" stroke="#ff8a14" stroke-width="1.0"/>
<polygon points="617.95,94.33 617.95,98.51 614.34,96.42" fill="#ff8a14" stroke="#ff8a14" stroke-width="1.0"/>
<polygon points="620.87,93 620.87,97.18 617.26,95.09" fill="#ff8a14" stroke="#ff8a14" stroke-width="1.0"/>
<polygon points="623.77,91.67 623.77,95.85 620.16,93.76" fill="#ff8a14" stroke="#ff8a14" stroke-width="1.0"/>
<polygon points="626.67,90.31 626.67,94.49 623.06,92.4" fill="#ff8a14" stroke="#ff8a14" stroke-width="1.0"/>
<polygon points="629.55,88.91 629.55,93.09 625.94,91" fill="#ff8a14" stroke="#ff8a14" stroke-width="1.0"/>
<polygon points="632.41,87.48 632.41,91.66 628.8,89.57" fill="#ff8a14" stroke="#ff8a14" stroke-width="1.0"/>
<polygon points="635.26,86.01 635.26,90.19 631.65,88.1" fill="#ff8a14" stroke="#ff8a14" stroke-width="1.0"/>
<polygon points="638.08,84.51 638.08,88.69 634.47,86.6" fill="#ff8a14" stroke="#ff8a14" stroke-width="1.0"/>
<polygon points="640.89,82.97 640.89,87.15 637.28,85.06" fill="#ff8a14" stroke="#ff8a14" stroke-width="1.0"/>
<polygon points="643.66,81.37 643.66,85.55 640.05,83.46" fill="#ff8a14" stroke="#ff8a14" stroke-width="1.0"/>
<polygon points="646.39,79.7 646.39,83.88 642.78,81.79" fill="#ff8a14" stroke="#ff8a14" stroke-width="1.0"/>
<polygon points="649.08,77.96 649.08,82.14 645.47,80.05" fill="#ff8a14" stroke="#ff8a14" stroke-width="1.0"/>
<polygon points="651.74,76.19 651.74,80.37 648.13,78.28" fill="#ff8a14" stroke="#ff8a14" stroke-width="1.0"/>
<polygon points="654.39,74.4 654.39,78.58 650.78,76.49" fill="#ff8a14" stroke="#ff8a14" stroke-width="1.0"/>
<path d="M474 167.55 L474.5 167.43 L475 167.32 L475.5 167.2 L476 167.09 L476.5 166.97 L477 166.86 L477.5 166.75 L478 166.63 L478.5 166.52 L479 166.41 L479.5 166.3 L480 166.18 L480.5 166.07 L481 165.96 L481.5 165.84 L482 165.73 L482.5 165.62 L483 165.5 L483.5 165.39 L484 165.27 L484.5 165.16 L485 165.04 L485.5 164.92 L486 164.81 L486.5 164.69 L487 164.57 L487.5 164.45 L488 164.34 L488.5 164.22 L489 164.1 L489.5 163.98 L490 163.86 L490.5 163.73 L491 163.61 L491.5 163.49 L492 163.37 L492.5 163.24 L493 163.12 L493.5 162.99 L494 162.87 L494.5 162.74 L495 162.62 L495.5 162.49 L496 162.36 L496.5 162.23 L497 162.1 L497.5 161.97 L498 161.84 L498.5 161.7 L499 161.57 L499.5 161.44 L500 161.3 L500.5 161.17 L501 161.03 L501.5 160.89 L502 160.76 L502.5 160.62 L503 160.48 L503.5 160.35 L504 160.21 L504.5 160.07 L505 159.94 L505.5 159.8 L506 159.66 L506.5 159.52 L507 159.38 L507.5 159.25 L508 159.11 L508.5 158.97 L509 158.83 L509.5 158.69 L510 158.55 L510.5 158.41 L511 158.27 L511.5 158.13 L512 157.99 L512.5 157.85 L513 157.71 L513.5 157.57 L514 157.43 L514.5 157.29 L515 157.15 L515.5 157 L516 156.86 L516.5 156.72 L517 156.58 L517.5 156.43 L518 156.29 L518.5 156.15 L519 156 L519.5 155.86 L520 155.71 L520.5 155.57 L521 155.43 L521.5 155.28 L522 155.13 L522.5 154.99 L523 154.84 L523.5 154.7 L524 154.55 L524.5 154.4 L525 154.25 L525.5 154.11 L526 153.96 L526.5 153.81 L527 153.66 L527.5 153.51 L528 153.36 L528.5 153.21 L529 153.06 L529.5 152.91 L530 152.76 L530.5 152.61 L531 152.46 L531.5 152.31 L532 152.15 L532.5 152 L533 151.85 L533.5 151.69 L534 151.54 L534.5 151.38 L535 151.23 L535.5 151.07 L536 150.92 L536.5 150.76 L537 150.6 L537.5 150.44 L538 150.29 L538.5 150.13 L539 149.96 L539.5 149.8 L540 149.64 L540.5 149.48 L541 149.32 L541.5 149.16 L542 148.99 L542.5 148.83 L543 148.66 L543.5 148.5 L544 148.33 L544.5 148.17 L545 148 L545.5 147.83 L546 147.67 L546.5 147.5 L547 147.33 L547.5 147.16 L548 146.99 L548.5 146.82 L549 146.65 L549.5 146.48 L550 146.31 L550.5 146.14 L551 145.96 L551.5 145.79 L552 145.62 L552.5 145.44 L553 145.27 L553.5 145.1 L554 144.92 L554.5 144.75 L555 144.57 L555.5 144.4 L556 144.22 L556.5 144.05 L557 143.87 L557.5 143.69 L558 143.51 L558.5 143.34 L559 143.16 L559.5 142.98 L560 142.8 L560.5 142.62 L561 142.45 L561.5 142.27 L562 142.09 L562.5 141.91 L563 141.73 L563.5 141.55 L564 141.37 L564.5 141.19 L565 141 L565.5 140.82 L566 140.64 L566.5 140.46 L567 140.28 L567.5 140.1 L568 139.91 L568.5 139.73 L569 139.55 L569.5 139.37 L570 139.18 L570.5 139 L571 138.82 L571.5 138.63 L572 138.45 L572.5 138.26 L573 138.08 L573.5 137.9 L574 137.71 L574.5 137.53 L575 137.34 L575.5 137.16 L576 136.97 L576.5 136.79 L577 136.6 L577.5 136.42 L578 136.23 L578.5 136.05 L579 135.86 L579.5 135.67 L580 135.49 L580.5 135.3 L581 135.12 L581.5 134.93 L582 134.75 L582.5 134.56 L583 134.38 L583.5 134.19 L584 134.01 L584.5 133.82 L585 133.64 L585.5 133.45 L586 133.27 L586.5 133.08 L587 132.9 L587.5 132.71 L588 132.53 L588.5 132.34 L589 132.16 L589.5 131.97 L590 131.79 L590.5 131.6 L591 131.41 L591.5 131.23 L592 131.04 L592.5 130.85 L593 130.66 L593.5 130.47 L594 130.28 L594.5 130.09 L595 129.9 L595.5 129.71 L596 129.52 L596.5 129.32 L597 129.13 L597.5 128.93 L598 128.73 L598.5 128.54 L599 128.34 L599.5 128.14 L600 127.94 L600.5 127.73 L601 127.53 L601.5 127.33 L602 127.12 L602.5 126.91 L603 126.7 L603.5 126.49 L604 126.28 L604.5 126.07 L605 125.85 L605.5 125.64 L606 125.42 L606.5 125.2 L607 124.98 L607.5 124.76 L608 124.53 L608.5 124.31 L609 124.08 L609.5 123.85 L610 123.62 L610.5 123.39 L611 123.15 L611.5 122.92 L612 122.68 L612.5 122.43 L613 122.19 L613.5 121.95 L614 121.7 L614.5 121.45 L615 121.2 L615.5 120.95 L616 120.7 L616.5 120.44 L617 120.19 L617.5 119.93 L618 119.67 L618.5 119.41 L619 119.15 L619.5 118.89 L620 118.63 L620.5 118.36 L621 118.1 L621.5 117.83 L622 117.57 L622.5 117.3 L623 117.03 L623.5 116.76 L624 116.49 L624.5 116.22 L625 115.95 L625.5 115.68 L626 115.41 L626.5 115.13 L627 114.86 L627.5 114.59 L628 114.31 L628.5 114.04 L629 113.77 L629.5 113.49 L630 113.22 L630.5 112.94 L631 112.67 L631.5 112.39 L632 112.11 L632.5 111.84 L633 111.56 L633.5 111.29 L634 111.01 L634.5 110.74 L635 110.46 L635.5 110.19 L636 109.91 L636.5 109.64 L637 109.37 L637.5 109.1 L638 108.83 L638.5 108.56 L639 108.29 L639.5 108.02 L640 107.75 L640.5 107.49 L641 107.22 L641.5 106.96 L642 106.7 L642.5 106.43 L643 106.17 L643.5 105.9 L644 105.64 L644.5 105.37 L645 105.11 L645.5 104.84 L646 104.58 L646.5 104.32 L647 104.05 L647.5 103.79 L648 103.52 L648.5 103.26 L649 102.99 L649.5 102.73 L650 102.46 L650.5 102.2 L651 101.94 L651.5 101.67 L652 101.41 L652.5 101.14 L653 100.88 L653.5 100.61 L654 100.35" fill="none" stroke="#1ee6f2" stroke-width="3.2"/>
<polygon points="475.52,165.46 475.52,169.64 471.91,167.55" fill="#1ee6f2" stroke="#1ee6f2" stroke-width="1.0"/>
<polygon points="478.64,164.74 478.64,168.92 475.03,166.83" fill="#1ee6f2" stroke="#1ee6f2" stroke-width="1.0"/>
<polygon points="481.76,164.04 481.76,168.22 478.15,166.13" fill="#1ee6f2" stroke="#1ee6f2" stroke-width="1.0"/>
<polygon points="484.88,163.33 484.88,167.51 481.27,165.42" fill="#1ee6f2" stroke="#1ee6f2" stroke-width="1.0"/>
<polygon points="488,162.61 488,166.79 484.39,164.7" fill="#1ee6f2" stroke="#1ee6f2" stroke-width="1.0"/>
<polygon points="491.11,161.86 491.11,166.04 487.5,163.95" fill="#1ee6f2" stroke="#1ee6f2" stroke-width="1.0"/>
<polygon points="494.22,161.1 494.22,165.28 490.61,163.19" fill="#1ee6f2" stroke="#1ee6f2" stroke-width="1.0"/>
<polygon points="497.32,160.32 497.32,164.5 493.71,162.41" fill="#1ee6f2" stroke="#1ee6f2" stroke-width="1.0"/>
<polygon points="500.42,159.51 500.42,163.69 496.81,161.6" fill="#1ee6f2" stroke="#1ee6f2" stroke-width="1.0"/>
<polygon points="503.5,158.67 503.5,162.85 499.89,160.76" fill="#1ee6f2" stroke="#1ee6f2" stroke-width="1.0"/>
<polygon points="506.59,157.83 506.59,162.01 502.98,159.92" fill="#1ee6f2" stroke="#1ee6f2" stroke-width="1.0"/>
<polygon points="509.68,156.97 509.68,161.15 506.07,159.06" fill="#1ee6f2" stroke="#1ee6f2" stroke-width="1.0"/>
<polygon points="512.76,156.12 512.76,160.3 509.15,158.21" fill="#1ee6f2" stroke="#1ee6f2" stroke-width="1.0"/>
<polygon points="515.84,155.25 515.84,159.43 512.23,157.34" fill="#1ee6f2" stroke="#1ee6f2" stroke-width="1.0"/>
<polygon points="518.92,154.37 518.92,158.55 515.31,156.46" fill="#1ee6f2" stroke="#1ee6f2" stroke-width="1.0"/>
<polygon points="521.99,153.49 521.99,157.67 518.38,155.58" fill="#1ee6f2" stroke="#1ee6f2" stroke-width="1.0"/>
<polygon points="525.06,152.59 525.06,156.77 521.45,154.68" fill="#1ee6f2" stroke="#1ee6f2" stroke-width="1.0"/>
<polygon points="528.13,151.69 528.13,155.87 524.52,153.78" fill="#1ee6f2" stroke="#1ee6f2" stroke-width="1.0"/>
<polygon points="531.2,150.77 531.2,154.95 527.59,152.86" fill="#1ee6f2" stroke="#1ee6f2" stroke-width="1.0"/>
<polygon points="534.26,149.84 534.26,154.02 530.65,151.93" fill="#1ee6f2" stroke="#1ee6f2" stroke-width="1.0"/>
<polygon points="537.32,148.89 537.32,153.07 533.71,150.98" fill="#1ee6f2" stroke="#1ee6f2" stroke-width="1.0"/>
<polygon points="540.37,147.92 540.37,152.1 536.76,150.01" fill="#1ee6f2" stroke="#1ee6f2" stroke-width="1.0"/>
<polygon points="543.41,146.94 543.41,151.12 539.8,149.03" fill="#1ee6f2" stroke="#1ee6f2" stroke-width="1.0"/>
<polygon points="546.45,145.93 546.45,150.11 542.84,148.02" fill="#1ee6f2" stroke="#1ee6f2" stroke-width="1.0"/>
<polygon points="549.48,144.91 549.48,149.09 545.87,147" fill="#1ee6f2" stroke="#1ee6f2" stroke-width="1.0"/>
<polygon points="552.51,143.88 552.51,148.06 548.9,145.97" fill="#1ee6f2" stroke="#1ee6f2" stroke-width="1.0"/>
<polygon points="555.53,142.83 555.53,147.01 551.92,144.92" fill="#1ee6f2" stroke="#1ee6f2" stroke-width="1.0"/>
<polygon points="558.55,141.77 558.55,145.95 554.94,143.86" fill="#1ee6f2" stroke="#1ee6f2" stroke-width="1.0"/>
<polygon points="561.57,140.7 561.57,144.88 557.96,142.79" fill="#1ee6f2" stroke="#1ee6f2" stroke-width="1.0"/>
<polygon points="564.58,139.62 564.58,143.8 560.97,141.71" fill="#1ee6f2" stroke="#1ee6f2" stroke-width="1.0"/>
<polygon points="567.59,138.53 567.59,142.71 563.98,140.62" fill="#1ee6f2" stroke="#1ee6f2" stroke-width="1.0"/>
<polygon points="570.6,137.43 570.6,141.61 566.99,139.52" fill="#1ee6f2" stroke="#1ee6f2" stroke-width="1.0"/>
<polygon points="573.6,136.33 573.6,140.51 569.99,138.42" fill="#1ee6f2" stroke="#1ee6f2" stroke-width="1.0"/>
<polygon points="576.6,135.22 576.6,139.4 572.99,137.31" fill="#1ee6f2" stroke="#1ee6f2" stroke-width="1.0"/>
<polygon points="579.6,134.11 579.6,138.29 575.99,136.2" fill="#1ee6f2" stroke="#1ee6f2" stroke-width="1.0"/>
<polygon points="582.6,133 582.6,137.18 578.99,135.09" fill="#1ee6f2" stroke="#1ee6f2" stroke-width="1.0"/>
<polygon points="585.6,131.89 585.6,136.07 581.99,133.98" fill="#1ee6f2" stroke="#1ee6f2" stroke-width="1.0"/>
<polygon points="588.61,130.78 588.61,134.96 585,132.87" fill="#1ee6f2" stroke="#1ee6f2" stroke-width="1.0"/>
<polygon points="591.61,129.66 591.61,133.84 588,131.75" fill="#1ee6f2" stroke="#1ee6f2" stroke-width="1.0"/>
<polygon points="594.6,128.54 594.6,132.72 590.99,130.63" fill="#1ee6f2" stroke="#1ee6f2" stroke-width="1.0"/>
<polygon points="597.59,127.4 597.59,131.58 593.98,129.49" fill="#1ee6f2" stroke="#1ee6f2" stroke-width="1.0"/>
<polygon points="600.57,126.23 600.57,130.41 596.96,128.32" fill="#1ee6f2" stroke="#1ee6f2" stroke-width="1.0"/>
<polygon points="603.53,125.02 603.53,129.2 599.92,127.11" fill="#1ee6f2" stroke="#1ee6f2" stroke-width="1.0"/>
<polygon points="606.48,123.78 606.48,127.96 602.87,125.87" fill="#1ee6f2" stroke="#1ee6f2" stroke-width="1.0"/>
<polygon points="609.41,122.49 609.41,126.67 605.8,124.58" fill="#1ee6f2" stroke="#1ee6f2" stroke-width="1.0"/>
<polygon points="612.32,121.16 612.32,125.34 608.71,123.25" fill="#1ee6f2" stroke="#1ee6f2" stroke-width="1.0"/>
<polygon points="615.2,119.77 615.2,123.95 611.59,121.86" fill="#1ee6f2" stroke="#1ee6f2" stroke-width="1.0"/>
<polygon points="618.06,118.33 618.06,122.51 614.45,120.42" fill="#1ee6f2" stroke="#1ee6f2" stroke-width="1.0"/>
<polygon points="620.9,116.86 620.9,121.04 617.29,118.95" fill="#1ee6f2" stroke="#1ee6f2" stroke-width="1.0"/>
<polygon points="623.73,115.36 623.73,119.54 620.12,117.45" fill="#1ee6f2" stroke="#1ee6f2" stroke-width="1.0"/>
<polygon points="626.55,113.84 626.55,118.02 622.94,115.93" fill="#1ee6f2" stroke="#1ee6f2" stroke-width="1.0"/>
<polygon points="629.36,112.31 629.36,116.49 625.75,114.4" fill="#1ee6f2" stroke="#1ee6f2" stroke-width="1.0"/>
<polygon points="632.16,110.77 632.16,114.95 628.55,112.86" fill="#1ee6f2" stroke="#1ee6f2" stroke-width="1.0"/>
<polygon points="634.97,109.23 634.97,113.41 631.36,111.32" fill="#1ee6f2" stroke="#1ee6f2" stroke-width="1.0"/>
<polygon points="637.77,107.69 637.77,111.87 634.16,109.78" fill="#1ee6f2" stroke="#1ee6f2" stroke-width="1.0"/>
<polygon points="640.58,106.16 640.58,110.34 636.97,108.25" fill="#1ee6f2" stroke="#1ee6f2" stroke-width="1.0"/>
<polygon points="643.41,104.66 643.41,108.84 639.8,106.75" fill="#1ee6f2" stroke="#1ee6f2" stroke-width="1.0"/>
<polygon points="646.24,103.17 646.24,107.35 642.63,105.26" fill="#1ee6f2" stroke="#1ee6f2" stroke-width="1.0"/>
<polygon points="649.07,101.67 649.07,105.85 645.46,103.76" fill="#1ee6f2" stroke="#1ee6f2" stroke-width="1.0"/>
<polygon points="651.9,100.17 651.9,104.35 648.29,102.26" fill="#1ee6f2" stroke="#1ee6f2" stroke-width="1.0"/>
<polygon points="654.73,98.68 654.73,102.86 651.12,100.77" fill="#1ee6f2" stroke="#1ee6f2" stroke-width="1.0"/>
<path d="M474 179.71 L474.5 179.55 L475 179.4 L475.5 179.24 L476 179.08 L476.5 178.93 L477 178.77 L477.5 178.61 L478 178.46 L478.5 178.3 L479 178.14 L479.5 177.99 L480 177.83 L480.5 177.68 L481 177.52 L481.5 177.36 L482 177.21 L482.5 177.05 L483.01 176.9 L483.51 176.74 L484.01 176.58 L484.51 176.43 L485.01 176.27 L485.51 176.12 L486.01 175.96 L486.51 175.8 L487.01 175.65 L487.51 175.49 L488.01 175.34 L488.51 175.18 L489.01 175.02 L489.51 174.87 L490.01 174.71 L490.51 174.55 L491.01 174.4 L491.51 174.24 L492.01 174.09 L492.51 173.93 L493.01 173.77 L493.51 173.62 L494.01 173.46 L494.51 173.31 L495.01 173.15 L495.51 172.99 L496.01 172.84 L496.51 172.68 L497.01 172.53 L497.51 172.37 L498.01 172.21 L498.51 172.06 L499.01 171.9 L499.51 171.74 L500.01 171.59 L500.51 171.43 L501.02 171.27 L501.52 171.12 L502.02 170.96 L502.52 170.81 L503.02 170.65 L503.52 170.49 L504.02 170.34 L504.52 170.18 L505.02 170.02 L505.52 169.87 L506.02 169.71 L506.52 169.55 L507.02 169.4 L507.52 169.24 L508.02 169.08 L508.52 168.93 L509.02 168.77 L509.52 168.61 L510.02 168.46 L510.52 168.3 L511.02 168.14 L511.52 167.99 L512.02 167.83 L512.52 167.67 L513.02 167.51 L513.52 167.36 L514.02 167.2 L514.52 167.04 L515.02 166.89 L515.52 166.73 L516.02 166.57 L516.52 166.41 L517.02 166.26 L517.52 166.1 L518.02 165.94 L518.52 165.79 L519.03 165.63 L519.53 165.47 L520.03 165.31 L520.53 165.15 L521.03 165 L521.53 164.84 L522.03 164.68 L522.53 164.52 L523.03 164.37 L523.53 164.21 L524.03 164.05 L524.53 163.89 L525.03 163.73 L525.53 163.58 L526.03 163.42 L526.53 163.26 L527.03 163.1 L527.53 162.94 L528.03 162.78 L528.53 162.62 L529.03 162.47 L529.53 162.31 L530.03 162.15 L530.53 161.99 L531.03 161.83 L531.53 161.67 L532.03 161.51 L532.53 161.35 L533.03 161.19 L533.53 161.04 L534.03 160.88 L534.53 160.72 L535.03 160.56 L535.53 160.4 L536.03 160.24 L536.53 160.08 L537.04 159.92 L537.54 159.76 L538.04 159.6 L538.54 159.43 L539.04 159.27 L539.54 159.11 L540.04 158.95 L540.54 158.79 L541.04 158.63 L541.54 158.47 L542.04 158.31 L542.54 158.15 L543.04 157.99 L543.54 157.82 L544.04 157.66 L544.54 157.5 L545.04 157.34 L545.54 157.18 L546.04 157.02 L546.54 156.85 L547.04 156.69 L547.54 156.53 L548.04 156.37 L548.54 156.21 L549.04 156.04 L549.54 155.88 L550.04 155.72 L550.54 155.56 L551.04 155.4 L551.54 155.23 L552.04 155.07 L552.54 154.91 L553.04 154.75 L553.54 154.58 L554.04 154.42 L554.54 154.26 L555.05 154.09 L555.55 153.93 L556.05 153.77 L556.55 153.61 L557.05 153.44 L557.55 153.28 L558.05 153.12 L558.55 152.95 L559.05 152.79 L559.55 152.63 L560.05 152.46 L560.55 152.3 L561.05 152.14 L561.55 151.97 L562.05 151.81 L562.55 151.65 L563.05 151.48 L563.55 151.32 L564.05 151.16 L564.55 150.99 L565.05 150.83 L565.55 150.66 L566.05 150.5 L566.55 150.34 L567.05 150.17 L567.55 150.01 L568.05 149.84 L568.55 149.68 L569.05 149.51 L569.55 149.35 L570.05 149.19 L570.55 149.02 L571.05 148.86 L571.55 148.69 L572.05 148.53 L572.55 148.36 L573.06 148.2 L573.56 148.03 L574.06 147.87 L574.56 147.7 L575.06 147.54 L575.56 147.37 L576.06 147.21 L576.56 147.04 L577.06 146.87 L577.56 146.71 L578.06 146.54 L578.56 146.38 L579.06 146.21 L579.56 146.05 L580.06 145.88 L580.56 145.71 L581.06 145.55 L581.56 145.38 L582.06 145.22 L582.56 145.05 L583.06 144.88 L583.56 144.71 L584.06 144.55 L584.56 144.38 L585.06 144.21 L585.56 144.05 L586.06 143.88 L586.56 143.71 L587.06 143.54 L587.56 143.38 L588.06 143.21 L588.56 143.04 L589.06 142.87 L589.56 142.7 L590.06 142.54 L590.56 142.37 L591.07 142.2 L591.57 142.03 L592.07 141.86 L592.57 141.69 L593.07 141.52 L593.57 141.35 L594.07 141.18 L594.57 141.01 L595.07 140.84 L595.57 140.67 L596.07 140.5 L596.57 140.33 L597.07 140.16 L597.57 139.99 L598.07 139.82 L598.57 139.64 L599.07 139.47 L599.57 139.3 L600.07 139.13 L600.57 138.95 L601.07 138.78 L601.57 138.6 L602.07 138.43 L602.57 138.26 L603.07 138.08 L603.57 137.91 L604.07 137.73 L604.57 137.56 L605.07 137.38 L605.57 137.21 L606.07 137.03 L606.57 136.85 L607.07 136.68 L607.57 136.5 L608.07 136.32 L608.57 136.14 L609.08 135.96 L609.58 135.77 L610.08 135.59 L610.58 135.4 L611.08 135.21 L611.58 135.02 L612.08 134.82 L612.58 134.63 L613.08 134.42 L613.58 134.21 L614.08 134 L614.58 133.78 L615.08 133.56 L615.58 133.33 L616.08 133.1 L616.58 132.86 L617.08 132.62 L617.58 132.38 L618.08 132.14 L618.58 131.9 L619.08 131.66 L619.58 131.41 L620.08 131.17 L620.58 130.92 L621.08 130.68 L621.58 130.42 L622.08 130.17 L622.58 129.91 L623.08 129.64 L623.58 129.38 L624.08 129.11 L624.58 128.84 L625.08 128.56 L625.58 128.28 L626.08 128.01 L626.58 127.72 L627.09 127.44 L627.59 127.16 L628.09 126.87 L628.59 126.58 L629.09 126.29 L629.59 126 L630.09 125.7 L630.59 125.41 L631.09 125.11 L631.59 124.82 L632.09 124.52 L632.59 124.22 L633.09 123.92 L633.59 123.62 L634.09 123.32 L634.59 123.02 L635.09 122.72 L635.59 122.42 L636.09 122.11 L636.59 121.81 L637.09 121.51 L637.59 121.21 L638.09 120.91 L638.59 120.61 L639.09 120.31 L639.59 120.01 L640.09 119.72 L640.59 119.42 L641.09 119.12 L641.59 118.83 L642.09 118.53 L642.59 118.22 L643.09 117.92 L643.59 117.62 L644.09 117.31 L644.59 117.01 L645.1 116.7 L645.6 116.39 L646.1 116.08 L646.6 115.77 L647.1 115.46 L647.6 115.15 L648.1 114.84 L648.6 114.53 L649.1 114.21 L649.6 113.9 L650.1 113.59 L650.6 113.27 L651.1 112.96 L651.6 112.65 L652.1 112.33 L652.6 112.02 L653.1 111.71 L653.6 111.4" fill="none" stroke="#ee1414" stroke-width="3.2"/>
<polygon points="474,177.34 475.9,179.71 474,182.09 472.1,179.71" fill="#ee1414" stroke="#ee1414" stroke-width="1.0"/>
<polygon points="477.05,176.38 478.95,178.75 477.05,181.13 475.15,178.75" fill="#ee1414" stroke="#ee1414" stroke-width="1.0"/>
<polygon points="480.11,175.42 482.01,177.8 480.11,180.17 478.21,177.8" fill="#ee1414" stroke="#ee1414" stroke-width="1.0"/>
<polygon points="483.16,174.47 485.06,176.85 483.16,179.22 481.26,176.85" fill="#ee1414" stroke="#ee1414" stroke-width="1.0"/>
<polygon points="486.22,173.52 488.12,175.89 486.22,178.27 484.32,175.89" fill="#ee1414" stroke="#ee1414" stroke-width="1.0"/>
<polygon points="489.27,172.57 491.17,174.94 489.27,177.32 487.37,174.94" fill="#ee1414" stroke="#ee1414" stroke-width="1.0"/>
<polygon points="492.33,171.61 494.23,173.99 492.33,176.36 490.43,173.99" fill="#ee1414" stroke="#ee1414" stroke-width="1.0"/>
<polygon points="495.38,170.66 497.28,173.03 495.38,175.41 493.48,173.03" fill="#ee1414" stroke="#ee1414" stroke-width="1.0"/>
<polygon points="498.44,169.71 500.34,172.08 498.44,174.46 496.54,172.08" fill="#ee1414" stroke="#ee1414" stroke-width="1.0"/>
<polygon points="501.49,168.75 503.39,171.13 501.49,173.5 499.59,171.13" fill="#ee1414" stroke="#ee1414" stroke-width="1.0"/>
<polygon points="504.54,167.8 506.44,170.17 504.54,172.55 502.64,170.17" fill="#ee1414" stroke="#ee1414" stroke-width="1.0"/>
<polygon points="507.6,166.84 509.5,169.22 507.6,171.59 505.7,169.22" fill="#ee1414" stroke="#ee1414" stroke-width="1.0"/>
<polygon points="510.65,165.88 512.55,168.26 510.65,170.63 508.75,168.26" fill="#ee1414" stroke="#ee1414" stroke-width="1.0"/>
<polygon points="513.71,164.93 515.61,167.3 513.71,169.68 511.81,167.3" fill="#ee1414" stroke="#ee1414" stroke-width="1.0"/>
<polygon points="516.76,163.97 518.66,166.34 516.76,168.72 514.86,166.34" fill="#ee1414" stroke="#ee1414" stroke-width="1.0"/>
<polygon points="519.81,163.01 521.71,165.38 519.81,167.76 517.91,165.38" fill="#ee1414" stroke="#ee1414" stroke-width="1.0"/>
<polygon points="522.86,162.04 524.76,164.42 522.86,166.79 520.96,164.42" fill="#ee1414" stroke="#ee1414" stroke-width="1.0"/>
<polygon points="525.91,161.08 527.81,163.45 525.91,165.83 524.01,163.45" fill="#ee1414" stroke="#ee1414" stroke-width="1.0"/>
<polygon points="528.96,160.11 530.86,162.49 528.96,164.86 527.06,162.49" fill="#ee1414" stroke="#ee1414" stroke-width="1.0"/>
<polygon points="532.01,159.14 533.91,161.52 532.01,163.89 530.11,161.52" fill="#ee1414" stroke="#ee1414" stroke-width="1.0"/>
<polygon points="535.06,158.17 536.96,160.55 535.06,162.92 533.16,160.55" fill="#ee1414" stroke="#ee1414" stroke-width="1.0"/>
<polygon points="538.11,157.2 540.01,159.57 538.11,161.95 536.21,159.57" fill="#ee1414" stroke="#ee1414" stroke-width="1.0"/>
<polygon points="541.16,156.22 543.06,158.59 541.16,160.97 539.26,158.59" fill="#ee1414" stroke="#ee1414" stroke-width="1.0"/>
<polygon points="544.2,155.23 546.1,157.61 544.2,159.98 542.3,157.61" fill="#ee1414" stroke="#ee1414" stroke-width="1.0"/>
<polygon points="547.25,154.25 549.15,156.62 547.25,159 545.35,156.62" fill="#ee1414" stroke="#ee1414" stroke-width="1.0"/>
<polygon points="550.29,153.26 552.19,155.64 550.29,158.01 548.39,155.64" fill="#ee1414" stroke="#ee1414" stroke-width="1.0"/>
<polygon points="553.34,152.28 555.24,154.65 553.34,157.03 551.44,154.65" fill="#ee1414" stroke="#ee1414" stroke-width="1.0"/>
<polygon points="556.38,151.29 558.28,153.66 556.38,156.04 554.48,153.66" fill="#ee1414" stroke="#ee1414" stroke-width="1.0"/>
<polygon points="559.42,150.29 561.32,152.67 559.42,155.04 557.52,152.67" fill="#ee1414" stroke="#ee1414" stroke-width="1.0"/>
<polygon points="562.46,149.3 564.36,151.68 562.46,154.05 560.56,151.68" fill="#ee1414" stroke="#ee1414" stroke-width="1.0"/>
<polygon points="565.5,148.3 567.4,150.68 565.5,153.05 563.6,150.68" fill="#ee1414" stroke="#ee1414" stroke-width="1.0"/>
<polygon points="568.54,147.31 570.44,149.68 568.54,152.06 566.64,149.68" fill="#ee1414" stroke="#ee1414" stroke-width="1.0"/>
<polygon points="571.58,146.31 573.48,148.68 571.58,151.06 569.68,148.68" fill="#ee1414" stroke="#ee1414" stroke-width="1.0"/>
<polygon points="574.62,145.3 576.52,147.68 574.62,150.05 572.72,147.68" fill="#ee1414" stroke="#ee1414" stroke-width="1.0"/>
<polygon points="577.66,144.3 579.56,146.67 577.66,149.05 575.76,146.67" fill="#ee1414" stroke="#ee1414" stroke-width="1.0"/>
<polygon points="580.7,143.29 582.6,145.67 580.7,148.04 578.8,145.67" fill="#ee1414" stroke="#ee1414" stroke-width="1.0"/>
<polygon points="583.73,142.28 585.63,144.66 583.73,147.03 581.83,144.66" fill="#ee1414" stroke="#ee1414" stroke-width="1.0"/>
<polygon points="586.77,141.27 588.67,143.64 586.77,146.02 584.87,143.64" fill="#ee1414" stroke="#ee1414" stroke-width="1.0"/>
<polygon points="589.8,140.25 591.7,142.62 589.8,145 587.9,142.62" fill="#ee1414" stroke="#ee1414" stroke-width="1.0"/>
<polygon points="592.84,139.23 594.74,141.6 592.84,143.98 590.94,141.6" fill="#ee1414" stroke="#ee1414" stroke-width="1.0"/>
<polygon points="595.87,138.2 597.77,140.57 595.87,142.95 593.97,140.57" fill="#ee1414" stroke="#ee1414" stroke-width="1.0"/>
<polygon points="598.89,137.16 600.79,139.53 598.89,141.91 596.99,139.53" fill="#ee1414" stroke="#ee1414" stroke-width="1.0"/>
<polygon points="601.92,136.11 603.82,138.48 601.92,140.86 600.02,138.48" fill="#ee1414" stroke="#ee1414" stroke-width="1.0"/>
<polygon points="604.94,135.05 606.84,137.43 604.94,139.8 603.04,137.43" fill="#ee1414" stroke="#ee1414" stroke-width="1.0"/>
<polygon points="607.95,133.99 609.85,136.36 607.95,138.74 606.05,136.36" fill="#ee1414" stroke="#ee1414" stroke-width="1.0"/>
<polygon points="610.96,132.88 612.86,135.26 610.96,137.63 609.06,135.26" fill="#ee1414" stroke="#ee1414" stroke-width="1.0"/>
<polygon points="613.93,131.69 615.83,134.06 613.93,136.44 612.03,134.06" fill="#ee1414" stroke="#ee1414" stroke-width="1.0"/>
<polygon points="616.84,130.36 618.74,132.74 616.84,135.11 614.94,132.74" fill="#ee1414" stroke="#ee1414" stroke-width="1.0"/>
<polygon points="619.72,128.97 621.62,131.35 619.72,133.72 617.82,131.35" fill="#ee1414" stroke="#ee1414" stroke-width="1.0"/>
<polygon points="622.58,127.53 624.48,129.91 622.58,132.28 620.68,129.91" fill="#ee1414" stroke="#ee1414" stroke-width="1.0"/>
<polygon points="625.39,126.02 627.29,128.39 625.39,130.77 623.49,128.39" fill="#ee1414" stroke="#ee1414" stroke-width="1.0"/>
<polygon points="628.18,124.44 630.08,126.81 628.18,129.19 626.28,126.81" fill="#ee1414" stroke="#ee1414" stroke-width="1.0"/>
<polygon points="630.94,122.82 632.84,125.2 630.94,127.57 629.04,125.2" fill="#ee1414" stroke="#ee1414" stroke-width="1.0"/>
<polygon points="633.69,121.18 635.59,123.56 633.69,125.93 631.79,123.56" fill="#ee1414" stroke="#ee1414" stroke-width="1.0"/>
<polygon points="636.43,119.53 638.33,121.91 636.43,124.28 634.53,121.91" fill="#ee1414" stroke="#ee1414" stroke-width="1.0"/>
<polygon points="639.18,117.89 641.08,120.26 639.18,122.64 637.28,120.26" fill="#ee1414" stroke="#ee1414" stroke-width="1.0"/>
<polygon points="641.93,116.25 643.83,118.63 641.93,121 640.03,118.63" fill="#ee1414" stroke="#ee1414" stroke-width="1.0"/>
<polygon points="644.66,114.59 646.56,116.97 644.66,119.34 642.76,116.97" fill="#ee1414" stroke="#ee1414" stroke-width="1.0"/>
<polygon points="647.38,112.91 649.28,115.28 647.38,117.66 645.48,115.28" fill="#ee1414" stroke="#ee1414" stroke-width="1.0"/>
<polygon points="650.1,111.21 652,113.59 650.1,115.96 648.2,113.59" fill="#ee1414" stroke="#ee1414" stroke-width="1.0"/>
<polygon points="652.81,109.51 654.71,111.89 652.81,114.26 650.91,111.89" fill="#ee1414" stroke="#ee1414" stroke-width="1.0"/>
<path d="M497 187.33 L497.5 187.18 L498 187.04 L498.5 186.9 L499 186.76 L499.5 186.61 L500 186.47 L500.5 186.33 L501 186.19 L501.5 186.05 L502 185.9 L502.5 185.76 L503 185.62 L503.5 185.48 L504 185.34 L504.5 185.2 L505 185.06 L505.5 184.91 L506 184.77 L506.5 184.63 L507 184.49 L507.5 184.35 L508 184.21 L508.5 184.07 L509 183.92 L509.5 183.78 L510 183.64 L510.5 183.5 L511 183.36 L511.5 183.22 L512 183.08 L512.5 182.93 L513 182.79 L513.5 182.65 L514 182.51 L514.5 182.37 L515 182.23 L515.5 182.09 L516 181.94 L516.5 181.8 L517 181.66 L517.5 181.52 L518 181.38 L518.5 181.24 L519 181.1 L519.5 180.95 L520 180.81 L520.5 180.67 L521 180.53 L521.5 180.39 L522 180.25 L522.5 180.1 L523 179.96 L523.5 179.82 L524 179.68 L524.5 179.54 L525 179.4 L525.5 179.25 L526 179.11 L526.5 178.97 L527 178.83 L527.5 178.69 L528 178.54 L528.5 178.4 L529 178.26 L529.5 178.12 L530 177.97 L530.5 177.83 L531 177.69 L531.5 177.55 L532 177.41 L532.5 177.26 L533 177.12 L533.5 176.98 L534 176.84 L534.5 176.69 L535 176.55 L535.5 176.41 L536 176.27 L536.5 176.12 L537 175.98 L537.5 175.84 L538 175.69 L538.5 175.55 L539 175.41 L539.5 175.26 L540 175.12 L540.5 174.98 L541 174.83 L541.5 174.69 L542 174.55 L542.5 174.4 L543 174.26 L543.5 174.12 L544 173.97 L544.5 173.83 L545 173.69 L545.5 173.54 L546 173.4 L546.5 173.25 L547 173.11 L547.5 172.97 L548 172.82 L548.5 172.68 L549 172.53 L549.5 172.39 L550 172.24 L550.5 172.1 L551 171.95 L551.5 171.81 L552 171.66 L552.5 171.52 L553 171.37 L553.5 171.22 L554 171.08 L554.5 170.93 L555 170.79 L555.5 170.64 L556 170.49 L556.5 170.35 L557 170.2 L557.5 170.05 L558 169.91 L558.5 169.76 L559 169.61 L559.5 169.46 L560 169.32 L560.5 169.17 L561 169.02 L561.5 168.87 L562 168.72 L562.5 168.57 L563 168.42 L563.5 168.27 L564 168.12 L564.5 167.97 L565 167.82 L565.5 167.68 L566 167.52 L566.5 167.37 L567 167.22 L567.5 167.07 L568 166.92 L568.5 166.77 L569 166.62 L569.5 166.47 L570 166.32 L570.5 166.17 L571 166.02 L571.5 165.86 L572 165.71 L572.5 165.56 L573 165.41 L573.5 165.26 L574 165.1 L574.5 164.95 L575 164.8 L575.5 164.64 L576 164.49 L576.5 164.34 L577 164.18 L577.5 164.03 L578 163.88 L578.5 163.72 L579 163.57 L579.5 163.42 L580 163.26 L580.5 163.11 L581 162.95 L581.5 162.8 L582 162.65 L582.5 162.49 L583 162.34 L583.5 162.18 L584 162.03 L584.5 161.87 L585 161.72 L585.5 161.56 L586 161.4 L586.5 161.25 L587 161.09 L587.5 160.94 L588 160.78 L588.5 160.62 L589 160.47 L589.5 160.31 L590 160.16 L590.5 160 L591 159.84 L591.5 159.69 L592 159.53 L592.5 159.37 L593 159.21 L593.5 159.06 L594 158.9 L594.5 158.74 L595 158.59 L595.5 158.43 L596 158.27 L596.5 158.11 L597 157.96 L597.5 157.8 L598 157.64 L598.5 157.48 L599 157.32 L599.5 157.16 L600 157.01 L600.5 156.85 L601 156.69 L601.5 156.53 L602 156.37 L602.5 156.21 L603 156.05 L603.5 155.9 L604 155.74 L604.5 155.58 L605 155.42 L605.5 155.26 L606 155.1 L606.5 154.94 L607 154.78 L607.5 154.62 L608 154.46 L608.5 154.3 L609 154.14 L609.5 153.98 L610 153.82 L610.5 153.66 L611 153.5 L611.5 153.34 L612 153.18 L612.5 153.02 L613 152.86 L613.5 152.7 L614 152.54 L614.5 152.38 L615 152.22 L615.5 152.06 L616 151.9 L616.5 151.74 L617 151.58 L617.5 151.42 L618 151.26 L618.5 151.09 L619 150.93 L619.5 150.77 L620 150.61 L620.5 150.45 L621 150.28 L621.5 150.12 L622 149.96 L622.5 149.79 L623 149.63 L623.5 149.47 L624 149.3 L624.5 149.14 L625 148.97 L625.5 148.81 L626 148.64 L626.5 148.47 L627 148.31 L627.5 148.14 L628 147.97 L628.5 147.8 L629 147.63 L629.5 147.46 L630 147.29 L630.5 147.12 L631 146.95 L631.5 146.78 L632 146.61 L632.5 146.43 L633 146.26 L633.5 146.08 L634 145.91 L634.5 145.73 L635 145.55 L635.5 145.38 L636 145.2 L636.5 145.02 L637 144.84 L637.5 144.66 L638 144.48 L638.5 144.3 L639 144.11 L639.5 143.93 L640 143.75 L640.5 143.56 L641 143.37 L641.5 143.19 L642 143 L642.5 142.81 L643 142.61 L643.5 142.42 L644 142.23 L644.5 142.03 L645 141.83 L645.5 141.64 L646 141.44 L646.5 141.24 L647 141.04 L647.5 140.84 L648 140.64 L648.5 140.44 L649 140.23 L649.5 140.03 L650 139.82 L650.5 139.62 L651 139.41 L651.5 139.21 L652 139 L652.5 138.79 L653 138.58 L653.5 138.38 L654 138.17 L654.5 137.96 L655 137.75 L655.5 137.54 L656 137.33 L656.5 137.12 L657 136.91 L657.5 136.69 L658 136.48 L658.5 136.27 L659 136.06 L659.5 135.85 L660 135.63 L660.5 135.42 L661 135.21 L661.5 135 L662 134.79 L662.5 134.58 L663 134.37 L663.5 134.16 L664 133.95 L664.5 133.74" fill="none" stroke="#1414e0" stroke-width="3.2"/>
<circle cx="497" cy="187.33" r="2.2" fill="#1414e0" stroke="#1414e0" stroke-width="1.0"/>
<circle cx="500.08" cy="186.45" r="2.2" fill="#1414e0" stroke="#1414e0" stroke-width="1.0"/>
<circle cx="503.16" cy="185.58" r="2.2" fill="#1414e0" stroke="#1414e0" stroke-width="1.0"/>
<circle cx="506.24" cy="184.71" r="2.2" fill="#1414e0" stroke="#1414e0" stroke-width="1.0"/>
<circle cx="509.31" cy="183.84" r="2.2" fill="#1414e0" stroke="#1414e0" stroke-width="1.0"/>
<circle cx="512.39" cy="182.96" r="2.2" fill="#1414e0" stroke="#1414e0" stroke-width="1.0"/>
<circle cx="515.47" cy="182.09" r="2.2" fill="#1414e0" stroke="#1414e0" stroke-width="1.0"/>
<circle cx="518.55" cy="181.22" r="2.2" fill="#1414e0" stroke="#1414e0" stroke-width="1.0"/>
<circle cx="521.63" cy="180.35" r="2.2" fill="#1414e0" stroke="#1414e0" stroke-width="1.0"/>
<circle cx="524.71" cy="179.48" r="2.2" fill="#1414e0" stroke="#1414e0" stroke-width="1.0"/>
<circle cx="527.79" cy="178.6" r="2.2" fill="#1414e0" stroke="#1414e0" stroke-width="1.0"/>
<circle cx="530.87" cy="177.73" r="2.2" fill="#1414e0" stroke="#1414e0" stroke-width="1.0"/>
<circle cx="533.94" cy="176.85" r="2.2" fill="#1414e0" stroke="#1414e0" stroke-width="1.0"/>
<circle cx="537.02" cy="175.97" r="2.2" fill="#1414e0" stroke="#1414e0" stroke-width="1.0"/>
<circle cx="540.1" cy="175.09" r="2.2" fill="#1414e0" stroke="#1414e0" stroke-width="1.0"/>
<circle cx="543.17" cy="174.21" r="2.2" fill="#1414e0" stroke="#1414e0" stroke-width="1.0"/>
<circle cx="546.25" cy="173.33" r="2.2" fill="#1414e0" stroke="#1414e0" stroke-width="1.0"/>
<circle cx="549.32" cy="172.44" r="2.2" fill="#1414e0" stroke="#1414e0" stroke-width="1.0"/>
<circle cx="552.4" cy="171.55" r="2.2" fill="#1414e0" stroke="#1414e0" stroke-width="1.0"/>
<circle cx="555.47" cy="170.65" r="2.2" fill="#1414e0" stroke="#1414e0" stroke-width="1.0"/>
<circle cx="558.54" cy="169.75" r="2.2" fill="#1414e0" stroke="#1414e0" stroke-width="1.0"/>
<circle cx="561.61" cy="168.84" r="2.2" fill="#1414e0" stroke="#1414e0" stroke-width="1.0"/>
<circle cx="564.67" cy="167.92" r="2.2" fill="#1414e0" stroke="#1414e0" stroke-width="1.0"/>
<circle cx="567.74" cy="167" r="2.2" fill="#1414e0" stroke="#1414e0" stroke-width="1.0"/>
<circle cx="570.8" cy="166.08" r="2.2" fill="#1414e0" stroke="#1414e0" stroke-width="1.0"/>
<circle cx="573.86" cy="165.14" r="2.2" fill="#1414e0" stroke="#1414e0" stroke-width="1.0"/>
<circle cx="576.92" cy="164.21" r="2.2" fill="#1414e0" stroke="#1414e0" stroke-width="1.0"/>
<circle cx="579.98" cy="163.27" r="2.2" fill="#1414e0" stroke="#1414e0" stroke-width="1.0"/>
<circle cx="583.04" cy="162.32" r="2.2" fill="#1414e0" stroke="#1414e0" stroke-width="1.0"/>
<circle cx="586.09" cy="161.37" r="2.2" fill="#1414e0" stroke="#1414e0" stroke-width="1.0"/>
<circle cx="589.15" cy="160.42" r="2.2" fill="#1414e0" stroke="#1414e0" stroke-width="1.0"/>
<circle cx="592.2" cy="159.47" r="2.2" fill="#1414e0" stroke="#1414e0" stroke-width="1.0"/>
<circle cx="595.26" cy="158.51" r="2.2" fill="#1414e0" stroke="#1414e0" stroke-width="1.0"/>
<circle cx="598.31" cy="157.54" r="2.2" fill="#1414e0" stroke="#1414e0" stroke-width="1.0"/>
<circle cx="601.36" cy="156.58" r="2.2" fill="#1414e0" stroke="#1414e0" stroke-width="1.0"/>
<circle cx="604.41" cy="155.61" r="2.2" fill="#1414e0" stroke="#1414e0" stroke-width="1.0"/>
<circle cx="607.46" cy="154.63" r="2.2" fill="#1414e0" stroke="#1414e0" stroke-width="1.0"/>
<circle cx="610.5" cy="153.66" r="2.2" fill="#1414e0" stroke="#1414e0" stroke-width="1.0"/>
<circle cx="613.55" cy="152.69" r="2.2" fill="#1414e0" stroke="#1414e0" stroke-width="1.0"/>
<circle cx="616.6" cy="151.71" r="2.2" fill="#1414e0" stroke="#1414e0" stroke-width="1.0"/>
<circle cx="619.64" cy="150.72" r="2.2" fill="#1414e0" stroke="#1414e0" stroke-width="1.0"/>
<circle cx="622.69" cy="149.73" r="2.2" fill="#1414e0" stroke="#1414e0" stroke-width="1.0"/>
<circle cx="625.73" cy="148.73" r="2.2" fill="#1414e0" stroke="#1414e0" stroke-width="1.0"/>
<circle cx="628.76" cy="147.71" r="2.2" fill="#1414e0" stroke="#1414e0" stroke-width="1.0"/>
<circle cx="631.79" cy="146.68" r="2.2" fill="#1414e0" stroke="#1414e0" stroke-width="1.0"/>
<circle cx="634.81" cy="145.62" r="2.2" fill="#1414e0" stroke="#1414e0" stroke-width="1.0"/>
<circle cx="637.82" cy="144.54" r="2.2" fill="#1414e0" stroke="#1414e0" stroke-width="1.0"/>
<circle cx="640.82" cy="143.44" r="2.2" fill="#1414e0" stroke="#1414e0" stroke-width="1.0"/>
<circle cx="643.81" cy="142.3" r="2.2" fill="#1414e0" stroke="#1414e0" stroke-width="1.0"/>
<circle cx="646.79" cy="141.12" r="2.2" fill="#1414e0" stroke="#1414e0" stroke-width="1.0"/>
<circle cx="649.76" cy="139.92" r="2.2" fill="#1414e0" stroke="#1414e0" stroke-width="1.0"/>
<circle cx="652.72" cy="138.7" r="2.2" fill="#1414e0" stroke="#1414e0" stroke-width="1.0"/>
<circle cx="655.67" cy="137.47" r="2.2" fill="#1414e0" stroke="#1414e0" stroke-width="1.0"/>
<circle cx="658.61" cy="136.22" r="2.2" fill="#1414e0" stroke="#1414e0" stroke-width="1.0"/>
<circle cx="661.56" cy="134.97" r="2.2" fill="#1414e0" stroke="#1414e0" stroke-width="1.0"/>
<path d="M483 217.32 L483.5 217.25 L484 217.19 L484.5 217.13 L485 217.07 L485.5 217.01 L486 216.95 L486.5 216.89 L487 216.82 L487.5 216.76 L488 216.7 L488.5 216.64 L489 216.58 L489.5 216.52 L490 216.46 L490.5 216.4 L491 216.33 L491.5 216.27 L492 216.21 L492.5 216.15 L493 216.09 L493.5 216.03 L494 215.97 L494.5 215.91 L495 215.84 L495.5 215.78 L496 215.72 L496.5 215.66 L497 215.6 L497.5 215.54 L498 215.48 L498.5 215.41 L499 215.35 L499.5 215.29 L500 215.23 L500.5 215.17 L501 215.11 L501.5 215.05 L502 214.99 L502.5 214.92 L503 214.86 L503.5 214.8 L504 214.74 L504.5 214.68 L505 214.62 L505.5 214.56 L506 214.5 L506.5 214.43 L507 214.37 L507.5 214.31 L508 214.25 L508.5 214.19 L509 214.13 L509.5 214.07 L510 214 L510.5 213.94 L511 213.88 L511.5 213.82 L512 213.76 L512.5 213.7 L513 213.64 L513.5 213.58 L514 213.51 L514.5 213.45 L515 213.39 L515.5 213.33 L516 213.27 L516.5 213.21 L517 213.15 L517.5 213.09 L518 213.02 L518.5 212.96 L519 212.9 L519.5 212.84 L520 212.78 L520.5 212.72 L521 212.66 L521.5 212.59 L522 212.53 L522.5 212.47 L523 212.41 L523.5 212.35 L524 212.29 L524.5 212.23 L525 212.17 L525.5 212.1 L526 212.04 L526.5 211.98 L527 211.92 L527.5 211.86 L528 211.8 L528.5 211.74 L529 211.68 L529.5 211.61 L530 211.55 L530.5 211.49 L531 211.43 L531.5 211.37 L532 211.31 L532.5 211.25 L533 211.18 L533.5 211.12 L534 211.06 L534.5 211 L535 210.94 L535.5 210.88 L536 210.82 L536.5 210.76 L537 210.69 L537.5 210.63 L538 210.57 L538.5 210.51 L539 210.45 L539.5 210.39 L540 210.33 L540.5 210.27 L541 210.2 L541.5 210.14 L542 210.08 L542.5 210.02 L543 209.96 L543.5 209.9 L544 209.84 L544.5 209.77 L545 209.71 L545.5 209.65 L546 209.59 L546.5 209.53 L547 209.47 L547.5 209.41 L548 209.35 L548.5 209.28 L549 209.22 L549.5 209.16 L550 209.1 L550.5 209.04 L551 208.98 L551.5 208.92 L552 208.86 L552.5 208.79 L553 208.73 L553.5 208.67 L554 208.61 L554.5 208.55 L555 208.49 L555.5 208.43 L556 208.36 L556.5 208.3 L557 208.24 L557.5 208.18 L558 208.12 L558.5 208.06 L559 208 L559.5 207.94 L560 207.87 L560.5 207.81 L561 207.75 L561.5 207.69 L562 207.63 L562.5 207.57 L563 207.51 L563.5 207.45 L564 207.38 L564.5 207.32 L565 207.26 L565.5 207.2 L566 207.14 L566.5 207.08 L567 207.02 L567.5 206.95 L568 206.89 L568.5 206.83 L569 206.77 L569.5 206.71 L570 206.65 L570.5 206.59 L571 206.53 L571.5 206.46 L572 206.4 L572.5 206.34 L573 206.28 L573.5 206.22 L574 206.16 L574.5 206.1 L575 206.04 L575.5 205.97 L576 205.91 L576.5 205.85 L577 205.79 L577.5 205.73 L578 205.67 L578.5 205.61 L579 205.54 L579.5 205.48 L580 205.42 L580.5 205.36 L581 205.3 L581.5 205.24 L582 205.18 L582.5 205.12 L583 205.05 L583.5 204.99 L584 204.93 L584.5 204.87 L585 204.81 L585.5 204.75 L586 204.69 L586.5 204.62 L587 204.56 L587.5 204.5 L588 204.44 L588.5 204.38 L589 204.32 L589.5 204.26 L590 204.2 L590.5 204.13 L591 204.07 L591.5 204.01 L592 203.95 L592.5 203.89 L593 203.83 L593.5 203.77 L594 203.71 L594.5 203.64 L595 203.58 L595.5 203.52 L596 203.46 L596.5 203.4 L597 203.34 L597.5 203.28 L598 203.21 L598.5 203.15 L599 203.09 L599.5 203.03 L600 202.97 L600.5 202.91 L601 202.85 L601.5 202.79 L602 202.72 L602.5 202.66 L603 202.6 L603.5 202.54 L604 202.48 L604.5 202.42 L605 202.36 L605.5 202.3 L606 202.23 L606.5 202.17 L607 202.11 L607.5 202.05 L608 201.99 L608.5 201.93 L609 201.87 L609.5 201.8 L610 201.74 L610.5 201.68 L611 201.62 L611.5 201.56 L612 201.5 L612.5 201.44 L613 201.38 L613.5 201.31 L614 201.25 L614.5 201.19 L615 201.13 L615.5 201.07 L616 201.01 L616.5 200.95 L617 200.89 L617.5 200.82 L618 200.76 L618.5 200.7 L619 200.64 L619.5 200.58 L620 200.52 L620.5 200.46 L621 200.39 L621.5 200.33 L622 200.27 L622.5 200.21 L623 200.15 L623.5 200.09 L624 200.03 L624.5 199.97 L625 199.9 L625.5 199.84 L626 199.78 L626.5 199.72 L627 199.66 L627.5 199.6 L628 199.54 L628.5 199.48 L629 199.41 L629.5 199.35 L630 199.29 L630.5 199.23 L631 199.17 L631.5 199.11 L632 199.05 L632.5 198.98 L633 198.92 L633.5 198.86 L634 198.8 L634.5 198.74 L635 198.68 L635.5 198.62 L636 198.56 L636.5 198.49 L637 198.43 L637.5 198.37 L638 198.31 L638.5 198.25 L639 198.19 L639.5 198.13 L640 198.07 L640.5 198 L641 197.94 L641.5 197.88 L642 197.82 L642.5 197.76 L643 197.7 L643.5 197.64 L644 197.57 L644.5 197.51 L645 197.45 L645.5 197.39 L646 197.33 L646.5 197.27 L647 197.21 L647.5 197.15 L648 197.08 L648.5 197.02 L649 196.96 L649.5 196.9 L650 196.84 L650.5 196.78 L651 196.72 L651.5 196.66 L652 196.59 L652.5 196.53 L653 196.47" fill="none" stroke="#7e7e10" stroke-width="1.5"/>
<polygon points="480.58,218.88 485.42,218.88 483,214.7" fill="#7e7e10" stroke="#7e7e10" stroke-width="1.0"/>
<polygon points="489.19,217.82 494.03,217.82 491.61,213.64" fill="#7e7e10" stroke="#7e7e10" stroke-width="1.0"/>
<polygon points="497.5,216.8 502.34,216.8 499.92,212.62" fill="#7e7e10" stroke="#7e7e10" stroke-width="1.0"/>
<polygon points="505.51,215.82 510.35,215.82 507.93,211.64" fill="#7e7e10" stroke="#7e7e10" stroke-width="1.0"/>
<polygon points="513.25,214.87 518.09,214.87 515.67,210.69" fill="#7e7e10" stroke="#7e7e10" stroke-width="1.0"/>
<polygon points="520.71,213.96 525.55,213.96 523.13,209.78" fill="#7e7e10" stroke="#7e7e10" stroke-width="1.0"/>
<polygon points="527.9,213.07 532.74,213.07 530.32,208.89" fill="#7e7e10" stroke="#7e7e10" stroke-width="1.0"/>
<polygon points="534.85,212.22 539.69,212.22 537.27,208.04" fill="#7e7e10" stroke="#7e7e10" stroke-width="1.0"/>
<polygon points="541.55,211.4 546.39,211.4 543.97,207.22" fill="#7e7e10" stroke="#7e7e10" stroke-width="1.0"/>
<polygon points="548.01,210.61 552.85,210.61 550.43,206.43" fill="#7e7e10" stroke="#7e7e10" stroke-width="1.0"/>
<polygon points="554.24,209.84 559.08,209.84 556.66,205.66" fill="#7e7e10" stroke="#7e7e10" stroke-width="1.0"/>
<polygon points="560.26,209.11 565.1,209.11 562.68,204.93" fill="#7e7e10" stroke="#7e7e10" stroke-width="1.0"/>
<polygon points="566.06,208.39 570.9,208.39 568.48,204.21" fill="#7e7e10" stroke="#7e7e10" stroke-width="1.0"/>
<polygon points="571.66,207.71 576.5,207.71 574.08,203.53" fill="#7e7e10" stroke="#7e7e10" stroke-width="1.0"/>
<polygon points="577.06,207.05 581.9,207.05 579.48,202.87" fill="#7e7e10" stroke="#7e7e10" stroke-width="1.0"/>
<polygon points="582.27,206.41 587.11,206.41 584.69,202.23" fill="#7e7e10" stroke="#7e7e10" stroke-width="1.0"/>
<polygon points="587.3,205.79 592.14,205.79 589.72,201.61" fill="#7e7e10" stroke="#7e7e10" stroke-width="1.0"/>
<polygon points="592.14,205.2 596.98,205.2 594.56,201.02" fill="#7e7e10" stroke="#7e7e10" stroke-width="1.0"/>
<polygon points="596.82,204.62 601.66,204.62 599.24,200.44" fill="#7e7e10" stroke="#7e7e10" stroke-width="1.0"/>
<polygon points="601.34,204.07 606.18,204.07 603.76,199.89" fill="#7e7e10" stroke="#7e7e10" stroke-width="1.0"/>
<polygon points="605.69,203.54 610.53,203.54 608.11,199.36" fill="#7e7e10" stroke="#7e7e10" stroke-width="1.0"/>
<polygon points="609.89,203.02 614.73,203.02 612.31,198.84" fill="#7e7e10" stroke="#7e7e10" stroke-width="1.0"/>
<polygon points="613.94,202.52 618.78,202.52 616.36,198.34" fill="#7e7e10" stroke="#7e7e10" stroke-width="1.0"/>
<polygon points="617.85,202.04 622.69,202.04 620.27,197.86" fill="#7e7e10" stroke="#7e7e10" stroke-width="1.0"/>
<polygon points="621.63,201.58 626.47,201.58 624.05,197.4" fill="#7e7e10" stroke="#7e7e10" stroke-width="1.0"/>
<polygon points="625.26,201.14 630.1,201.14 627.68,196.96" fill="#7e7e10" stroke="#7e7e10" stroke-width="1.0"/>
<polygon points="628.77,200.7 633.61,200.7 631.19,196.52" fill="#7e7e10" stroke="#7e7e10" stroke-width="1.0"/>
<polygon points="632.16,200.29 637,200.29 634.58,196.11" fill="#7e7e10" stroke="#7e7e10" stroke-width="1.0"/>
<polygon points="635.43,199.89 640.27,199.89 637.85,195.71" fill="#7e7e10" stroke="#7e7e10" stroke-width="1.0"/>
<polygon points="638.58,199.5 643.42,199.5 641,195.32" fill="#7e7e10" stroke="#7e7e10" stroke-width="1.0"/>
<polygon points="641.62,199.13 646.46,199.13 644.04,194.95" fill="#7e7e10" stroke="#7e7e10" stroke-width="1.0"/>
<polygon points="644.56,198.77 649.4,198.77 646.98,194.59" fill="#7e7e10" stroke="#7e7e10" stroke-width="1.0"/>
<polygon points="647.39,198.42 652.23,198.42 649.81,194.24" fill="#7e7e10" stroke="#7e7e10" stroke-width="1.0"/>
<polygon points="650.12,198.09 654.96,198.09 652.54,193.91" fill="#7e7e10" stroke="#7e7e10" stroke-width="1.0"/>
<path d="M408 25.7 H676.3 V227.3 H408 Z" fill="none" stroke="#4a4a4a" stroke-width="1.3"/>
<line x1="404.5" y1="25.7" x2="408" y2="25.7" stroke="#4a4a4a" stroke-width="1.2"/>
<line x1="404.5" y1="73.65" x2="408" y2="73.65" stroke="#4a4a4a" stroke-width="1.2"/>
<line x1="404.5" y1="121.6" x2="408" y2="121.6" stroke="#4a4a4a" stroke-width="1.2"/>
<line x1="404.5" y1="169.55" x2="408" y2="169.55" stroke="#4a4a4a" stroke-width="1.2"/>
<line x1="404.5" y1="217.5" x2="408" y2="217.5" stroke="#4a4a4a" stroke-width="1.2"/>
<line x1="405.8" y1="49.68" x2="408" y2="49.68" stroke="#4a4a4a" stroke-width="1"/>
<line x1="405.8" y1="97.62" x2="408" y2="97.62" stroke="#4a4a4a" stroke-width="1"/>
<line x1="405.8" y1="145.57" x2="408" y2="145.57" stroke="#4a4a4a" stroke-width="1"/>
<line x1="405.8" y1="193.53" x2="408" y2="193.53" stroke="#4a4a4a" stroke-width="1"/>
<text x="399.7" y="29.66" font-size="11" text-anchor="end" fill="#222" stroke="#222" stroke-width="0.28">0.4</text>
<text x="399.7" y="77.61" font-size="11" text-anchor="end" fill="#222" stroke="#222" stroke-width="0.28">0.3</text>
<text x="399.7" y="125.56" font-size="11" text-anchor="end" fill="#222" stroke="#222" stroke-width="0.28">0.2</text>
<text x="399.7" y="173.51" font-size="11" text-anchor="end" fill="#222" stroke="#222" stroke-width="0.28">0.1</text>
<text x="399.7" y="221.46" font-size="11" text-anchor="end" fill="#222" stroke="#222" stroke-width="0.28">0.0</text>
<line x1="453.2" y1="227.3" x2="453.2" y2="230.8" stroke="#4a4a4a" stroke-width="1.2"/>
<line x1="509" y1="227.3" x2="509" y2="230.8" stroke="#4a4a4a" stroke-width="1.2"/>
<line x1="564.8" y1="227.3" x2="564.8" y2="230.8" stroke="#4a4a4a" stroke-width="1.2"/>
<line x1="620.6" y1="227.3" x2="620.6" y2="230.8" stroke="#4a4a4a" stroke-width="1.2"/>
<line x1="676.4" y1="227.3" x2="676.4" y2="230.8" stroke="#4a4a4a" stroke-width="1.2"/>
<line x1="425.3" y1="227.3" x2="425.3" y2="229.5" stroke="#4a4a4a" stroke-width="1"/>
<line x1="481.1" y1="227.3" x2="481.1" y2="229.5" stroke="#4a4a4a" stroke-width="1"/>
<line x1="536.9" y1="227.3" x2="536.9" y2="229.5" stroke="#4a4a4a" stroke-width="1"/>
<line x1="592.7" y1="227.3" x2="592.7" y2="229.5" stroke="#4a4a4a" stroke-width="1"/>
<line x1="648.5" y1="227.3" x2="648.5" y2="229.5" stroke="#4a4a4a" stroke-width="1"/>
<text x="453.2" y="243.8" font-size="11" text-anchor="middle" fill="#222" stroke="#222" stroke-width="0.28">0.0</text>
<text x="509" y="243.8" font-size="11" text-anchor="middle" fill="#222" stroke="#222" stroke-width="0.28">0.5</text>
<text x="564.8" y="243.8" font-size="11" text-anchor="middle" fill="#222" stroke="#222" stroke-width="0.28">1.0</text>
<text x="620.6" y="243.8" font-size="11" text-anchor="middle" fill="#222" stroke="#222" stroke-width="0.28">1.5</text>
<text x="676.4" y="243.8" font-size="11" text-anchor="middle" fill="#222" stroke="#222" stroke-width="0.28">2.0</text>
<text x="538.5" y="262" font-size="11" text-anchor="middle" fill="#222" stroke="#222" stroke-width="0.28">Log [<tspan font-style="italic">j</tspan> /(mA cm<tspan dy="-4.62" font-size="7.04" stroke-width="0.1">−2</tspan><tspan dy="4.62">)]</tspan></text>
<text x="375.5" y="119.3" font-size="10.7" text-anchor="middle" fill="#222" stroke="#222" stroke-width="0.28" transform="rotate(-90 375.5 119.3)">Overpotential (V vs. RHE)</text>
<polygon points="424.6,33.2 424.6,37.6 420.8,35.4" fill="#ff8c1a" stroke="#ff8c1a" stroke-width="1.0"/>
<text x="430" y="38.8" font-size="9.4" text-anchor="start" fill="#222" stroke="#222" stroke-width="0.2">MoS<tspan dy="3.1" font-size="5.83" stroke-width="0.1">2</tspan><tspan dy="-3.1">-NF</tspan></text>
<polygon points="424.6,50.85 424.6,55.25 420.8,53.05" fill="#1ee8f0" stroke="#1ee8f0" stroke-width="1.0"/>
<text x="430" y="56.45" font-size="9.4" text-anchor="start" fill="#222" stroke="#222" stroke-width="0.2">Co-MoS<tspan dy="3.1" font-size="5.83" stroke-width="0.1">2</tspan><tspan dy="-3.1">-NF</tspan></text>
<polygon points="423,68.2 425,70.7 423,73.2 421,70.7" fill="#ee1c1c" stroke="#ee1c1c" stroke-width="1.0"/>
<text x="430" y="74.1" font-size="9.4" text-anchor="start" fill="#222" stroke="#222" stroke-width="0.2">Se-MoS<tspan dy="3.1" font-size="5.83" stroke-width="0.1">2</tspan><tspan dy="-3.1">-NF</tspan></text>
<circle cx="423" cy="88.35" r="2" fill="#1a1ae0" stroke="#1a1ae0" stroke-width="1.0"/>
<text x="430" y="91.75" font-size="9.4" text-anchor="start" fill="#222" stroke="#222" stroke-width="0.2">Co/Se-MoS<tspan dy="3.1" font-size="5.83" stroke-width="0.1">2</tspan><tspan dy="-3.1">-NF</tspan></text>
<polygon points="420.8,107.6 425.2,107.6 423,103.8" fill="#8a8a10" stroke="#8a8a10" stroke-width="1.0"/>
<text x="430" y="109.4" font-size="9.4" text-anchor="start" fill="#222" stroke="#222" stroke-width="0.2">40% Pt/C</text>
<text x="587.5" y="73.5" font-size="9.4" text-anchor="start" fill="#f2a050" stroke="#f2a050" stroke-width="0.12">83 mV dec<tspan dy="-3.95" font-size="6.02" stroke-width="0.1">−1</tspan><tspan dy="3.95"></tspan></text>
<text x="410" y="172" font-size="9.4" text-anchor="start" fill="#30c8f0" stroke="#30c8f0" stroke-width="0.12">77 mV dec<tspan dy="-3.95" font-size="6.02" stroke-width="0.1">−1</tspan><tspan dy="3.95"></tspan></text>
<text x="410" y="199.5" font-size="9.4" text-anchor="start" fill="#e82020" stroke="#e82020" stroke-width="0.12">75 mV dec<tspan dy="-3.95" font-size="6.02" stroke-width="0.1">−1</tspan><tspan dy="3.95"></tspan></text>
<text x="608" y="171.5" font-size="9.4" text-anchor="start" fill="#3434c8" stroke="#3434c8" stroke-width="0.12">67 mV dec<tspan dy="-3.95" font-size="6.02" stroke-width="0.1">−1</tspan><tspan dy="3.95"></tspan></text>
<text x="603" y="221.5" font-size="9.4" text-anchor="start" fill="#96963c" stroke="#96963c" stroke-width="0.12">29 mV dec<tspan dy="-3.95" font-size="6.02" stroke-width="0.1">−1</tspan><tspan dy="3.95"></tspan></text>
<text x="12.3" y="294.5" font-size="18" fill="#111" stroke="#fff" stroke-width="0.2">(<tspan font-size="16.5">c</tspan>)</text>
<path d="M89.4 490.6 L89.77 489.7 L90.22 488.59 L90.75 487.3 L91.34 485.85 L91.98 484.27 L92.67 482.59 L93.39 480.82 L94.14 478.99 L94.9 477.14 L95.66 475.27 L96.42 473.42 L97.17 471.61 L97.89 469.87 L98.57 468.22 L99.21 466.69 L99.8 465.3 L100.34 464.02 L100.85 462.8 L101.34 461.64 L101.81 460.52 L102.27 459.45 L102.71 458.41 L103.14 457.4 L103.56 456.41 L103.99 455.44 L104.41 454.48 L104.84 453.53 L105.28 452.57 L105.73 451.61 L106.2 450.63 L106.69 449.63 L107.2 448.6 L107.73 447.56 L108.29 446.51 L108.85 445.47 L109.44 444.43 L110.03 443.38 L110.63 442.34 L111.23 441.29 L111.84 440.25 L112.46 439.21 L113.07 438.16 L113.68 437.12 L114.28 436.07 L114.88 435.03 L115.46 433.99 L116.04 432.94 L116.6 431.9 L117.15 430.84 L117.7 429.77 L118.24 428.68 L118.78 427.58 L119.31 426.47 L119.84 425.36 L120.36 424.25 L120.88 423.16 L121.4 422.07 L121.91 421 L122.42 419.95 L122.92 418.93 L123.42 417.94 L123.92 416.99 L124.41 416.07 L124.9 415.2 L125.38 414.38 L125.86 413.59 L126.33 412.85 L126.8 412.13 L127.26 411.45 L127.71 410.79 L128.16 410.16 L128.61 409.54 L129.06 408.94 L129.51 408.35 L129.95 407.76 L130.4 407.18 L130.85 406.6 L131.29 406.01 L131.75 405.41 L132.2 404.8 L132.65 404.19 L133.1 403.59 L133.54 403.01 L133.98 402.43 L134.41 401.86 L134.85 401.29 L135.28 400.73 L135.72 400.17 L136.16 399.6 L136.61 399.03 L137.06 398.46 L137.53 397.87 L138 397.28 L138.49 396.67 L138.99 396.04 L139.5 395.4 L140.03 394.74 L140.57 394.05 L141.12 393.34 L141.68 392.62 L142.25 391.89 L142.82 391.15 L143.41 390.4 L144 389.65 L144.6 388.9 L145.2 388.15 L145.81 387.41 L146.42 386.68 L147.04 385.96 L147.66 385.25 L148.28 384.56 L148.9 383.9 L149.52 383.25 L150.15 382.62 L150.77 381.99 L151.4 381.38 L152.03 380.77 L152.67 380.18 L153.31 379.59 L153.96 379.01 L154.61 378.43 L155.27 377.86 L155.93 377.29 L156.61 376.73 L157.29 376.17 L157.98 375.61 L158.69 375.06 L159.4 374.5 L160.12 373.94 L160.85 373.39 L161.59 372.84 L162.34 372.29 L163.09 371.75 L163.85 371.21 L164.62 370.68 L165.39 370.14 L166.18 369.62 L166.97 369.1 L167.77 368.58 L168.58 368.07 L169.4 367.57 L170.22 367.07 L171.06 366.58 L171.9 366.1 L172.76 365.62 L173.63 365.14 L174.52 364.67 L175.42 364.2 L176.33 363.73 L177.25 363.27 L178.18 362.81 L179.11 362.36 L180.05 361.92 L180.98 361.49 L181.92 361.08 L182.85 360.67 L183.78 360.28 L184.69 359.9 L185.6 359.54 L186.5 359.2 L187.38 358.87 L188.26 358.56 L189.12 358.25 L189.97 357.96 L190.82 357.68 L191.67 357.42 L192.52 357.16 L193.36 356.92 L194.21 356.69 L195.06 356.47 L195.92 356.26 L196.79 356.07 L197.67 355.88 L198.57 355.71 L199.47 355.55 L200.4 355.4 L201.34 355.26 L202.3 355.13 L203.27 355.02 L204.25 354.91 L205.24 354.82 L206.24 354.74 L207.25 354.66 L208.26 354.61 L209.28 354.56 L210.3 354.53 L211.32 354.51 L212.34 354.5 L213.36 354.5 L214.38 354.52 L215.39 354.55 L216.4 354.6 L217.41 354.66 L218.42 354.73 L219.43 354.82 L220.44 354.93 L221.46 355.04 L222.48 355.17 L223.5 355.31 L224.51 355.46 L225.53 355.63 L226.54 355.81 L227.55 355.99 L228.55 356.19 L229.55 356.4 L230.54 356.63 L231.52 356.86 L232.5 357.1 L233.47 357.35 L234.44 357.62 L235.41 357.9 L236.38 358.2 L237.34 358.5 L238.3 358.82 L239.25 359.15 L240.2 359.49 L241.14 359.84 L242.08 360.19 L243 360.56 L243.92 360.93 L244.83 361.32 L245.73 361.7 L246.62 362.1 L247.5 362.5 L248.37 362.91 L249.22 363.32 L250.07 363.75 L250.9 364.18 L251.73 364.62 L252.54 365.07 L253.35 365.52 L254.16 365.99 L254.95 366.46 L255.74 366.94 L256.53 367.43 L257.31 367.93 L258.09 368.43 L258.86 368.95 L259.63 369.47 L260.4 370 L261.17 370.54 L261.94 371.09 L262.71 371.65 L263.48 372.22 L264.25 372.8 L265.01 373.39 L265.77 373.99 L266.52 374.59 L267.26 375.2 L267.99 375.82 L268.71 376.44 L269.42 377.07 L270.12 377.7 L270.79 378.33 L271.46 378.96 L272.1 379.6 L272.72 380.24 L273.32 380.89 L273.9 381.54 L274.47 382.19 L275.02 382.86 L275.55 383.52 L276.08 384.19 L276.59 384.87 L277.1 385.55 L277.61 386.23 L278.12 386.92 L278.62 387.61 L279.13 388.3 L279.65 389 L280.17 389.7 L280.7 390.4 L281.24 391.11 L281.79 391.83 L282.34 392.57 L282.9 393.31 L283.46 394.06 L284.02 394.81 L284.58 395.56 L285.14 396.32 L285.69 397.07 L286.24 397.82 L286.77 398.56 L287.3 399.29 L287.82 400.02 L288.33 400.73 L288.82 401.42 L289.3 402.1 L289.76 402.76 L290.21 403.4 L290.64 404.03 L291.05 404.64 L291.46 405.25 L291.86 405.84 L292.25 406.43 L292.64 407.01 L293.02 407.59 L293.4 408.18 L293.77 408.76 L294.15 409.35 L294.53 409.95 L294.92 410.55 L295.3 411.17 L295.7 411.8 L296.1 412.45 L296.51 413.1 L296.93 413.77 L297.35 414.45 L297.77 415.14 L298.19 415.83 L298.61 416.53 L299.03 417.22 L299.45 417.91 L299.85 418.6 L300.26 419.28 L300.65 419.95 L301.03 420.61 L301.4 421.26 L301.76 421.89 L302.1 422.5 L302.42 423.08 L302.72 423.63 L303.01 424.15 L303.27 424.65 L303.53 425.13 L303.77 425.6 L304.01 426.06 L304.25 426.53 L304.49 427.01 L304.73 427.5 L304.97 428.01 L305.23 428.55 L305.49 429.12 L305.78 429.73 L306.08 430.39 L306.4 431.1 L306.75 431.89 L307.14 432.77 L307.56 433.73 L308 434.75 L308.46 435.82 L308.93 436.92 L309.4 438.03 L309.87 439.14 L310.33 440.23 L310.78 441.29 L311.2 442.31 L311.6 443.25 L311.97 444.12 L312.29 444.9 L312.57 445.56 L312.8 446.1" fill="none" stroke="#111111" stroke-width="1.3"/>
<polygon points="88.62,492.5 88.11,487.98 92.16,489.63" fill="#111111" stroke="#111111" stroke-width="0.8"/>
<polygon points="89.97,489.21 89.45,484.69 93.5,486.34" fill="#111111" stroke="#111111" stroke-width="0.8"/>
<polygon points="91.43,485.63 90.91,481.11 94.96,482.76" fill="#111111" stroke="#111111" stroke-width="0.8"/>
<polygon points="92.87,482.11 92.35,477.59 96.4,479.24" fill="#111111" stroke="#111111" stroke-width="0.8"/>
<polygon points="94.38,478.4 93.87,473.88 97.91,475.54" fill="#111111" stroke="#111111" stroke-width="0.8"/>
<polygon points="95.89,474.71 95.39,470.19 99.43,471.86" fill="#111111" stroke="#111111" stroke-width="0.8"/>
<polygon points="97.52,470.75 97.04,466.22 101.07,467.9" fill="#111111" stroke="#111111" stroke-width="0.8"/>
<polygon points="99.15,466.85 98.69,462.32 102.71,464.02" fill="#111111" stroke="#111111" stroke-width="0.8"/>
<polygon points="100.78,462.99 100.31,458.46 104.34,460.16" fill="#111111" stroke="#111111" stroke-width="0.8"/>
<polygon points="102.48,458.92 102.05,454.39 106.07,456.12" fill="#111111" stroke="#111111" stroke-width="0.8"/>
<polygon points="104.29,454.73 103.97,450.19 107.94,452.02" fill="#111111" stroke="#111111" stroke-width="0.8"/>
<polygon points="106.3,450.37 106.17,445.82 110.06,447.81" fill="#111111" stroke="#111111" stroke-width="0.8"/>
<polygon points="108.86,445.45 108.92,440.9 112.72,443.05" fill="#111111" stroke="#111111" stroke-width="0.8"/>
<polygon points="111.87,440.21 112,435.66 115.77,437.87" fill="#111111" stroke="#111111" stroke-width="0.8"/>
<polygon points="115.48,433.99 115.44,429.44 119.29,431.51" fill="#111111" stroke="#111111" stroke-width="0.8"/>
<polygon points="119.08,426.95 118.82,422.41 122.77,424.28" fill="#111111" stroke="#111111" stroke-width="0.8"/>
<polygon points="122.96,418.77 122.92,414.22 126.77,416.29" fill="#111111" stroke="#111111" stroke-width="0.8"/>
<polygon points="128.29,409.95 128.97,405.45 132.45,408.1" fill="#111111" stroke="#111111" stroke-width="0.8"/>
<polygon points="135.36,400.61 136.12,396.13 139.55,398.83" fill="#111111" stroke="#111111" stroke-width="0.8"/>
<polygon points="143.51,390.25 144.32,385.77 147.72,388.52" fill="#111111" stroke="#111111" stroke-width="0.8"/>
<polygon points="152.5,380.29 154.05,376.01 156.94,379.29" fill="#111111" stroke="#111111" stroke-width="0.8"/>
<polygon points="163.17,371.66 165.23,367.61 167.7,371.21" fill="#111111" stroke="#111111" stroke-width="0.8"/>
<polygon points="175.43,364.16 178.05,360.44 179.97,364.36" fill="#111111" stroke="#111111" stroke-width="0.8"/>
<polygon points="188.98,358.26 192.13,354.98 193.45,359.15" fill="#111111" stroke="#111111" stroke-width="0.8"/>
<polygon points="203.54,354.96 207.34,352.45 207.7,356.81" fill="#111111" stroke="#111111" stroke-width="0.8"/>
<polygon points="218.76,354.73 222.97,353.01 222.48,357.35" fill="#111111" stroke="#111111" stroke-width="0.8"/>
<polygon points="234.1,357.51 238.56,356.58 237.29,360.76" fill="#111111" stroke="#111111" stroke-width="0.8"/>
<polygon points="247.94,362.68 252.49,362.52 250.53,366.42" fill="#111111" stroke="#111111" stroke-width="0.8"/>
<polygon points="260.01,369.71 264.53,370.25 261.98,373.81" fill="#111111" stroke="#111111" stroke-width="0.8"/>
<polygon points="270.41,377.93 274.78,379.18 271.71,382.29" fill="#111111" stroke="#111111" stroke-width="0.8"/>
<polygon points="278.75,387.79 282.89,389.69 279.38,392.3" fill="#111111" stroke="#111111" stroke-width="0.8"/>
<polygon points="285.91,397.37 290.02,399.32 286.48,401.88" fill="#111111" stroke="#111111" stroke-width="0.8"/>
<polygon points="292.49,406.77 296.49,408.94 292.81,411.3" fill="#111111" stroke="#111111" stroke-width="0.8"/>
<polygon points="298.23,415.87 302.15,418.17 298.4,420.42" fill="#111111" stroke="#111111" stroke-width="0.8"/>
<polygon points="303.43,424.88 307.16,427.48 303.25,429.43" fill="#111111" stroke="#111111" stroke-width="0.8"/>
<polygon points="307.52,433.64 311.1,436.44 307.09,438.16" fill="#111111" stroke="#111111" stroke-width="0.8"/>
<polygon points="311.21,442.32 314.77,445.15 310.74,446.85" fill="#111111" stroke="#111111" stroke-width="0.8"/>
<path d="M86.5 491.5 L86.63 491.41 L86.78 491.35 L86.94 491.29 L87.12 491.24 L87.31 491.19 L87.52 491.13 L87.75 491.05 L87.99 490.94 L88.24 490.81 L88.51 490.63 L88.79 490.4 L89.09 490.12 L89.4 489.78 L89.72 489.37 L90.05 488.88 L90.4 488.3 L90.76 487.63 L91.14 486.87 L91.54 486.03 L91.96 485.12 L92.39 484.15 L92.83 483.12 L93.29 482.04 L93.76 480.93 L94.24 479.78 L94.72 478.61 L95.22 477.43 L95.73 476.24 L96.24 475.05 L96.76 473.88 L97.28 472.73 L97.8 471.6 L98.33 470.47 L98.88 469.32 L99.44 468.14 L100.01 466.95 L100.59 465.74 L101.18 464.52 L101.77 463.29 L102.38 462.07 L102.98 460.85 L103.59 459.63 L104.2 458.44 L104.8 457.25 L105.41 456.1 L106.01 454.96 L106.61 453.86 L107.2 452.8 L107.79 451.76 L108.38 450.73 L108.98 449.71 L109.58 448.71 L110.17 447.72 L110.77 446.74 L111.37 445.79 L111.97 444.85 L112.56 443.93 L113.16 443.04 L113.74 442.16 L114.33 441.32 L114.91 440.49 L115.48 439.7 L116.04 438.93 L116.6 438.2 L117.15 437.5 L117.68 436.84 L118.21 436.21 L118.73 435.61 L119.24 435.04 L119.74 434.5 L120.25 433.98 L120.75 433.47 L121.25 432.99 L121.76 432.52 L122.26 432.05 L122.77 431.6 L123.29 431.15 L123.82 430.7 L124.35 430.25 L124.9 429.8 L125.45 429.35 L126 428.9 L126.55 428.46 L127.1 428.03 L127.65 427.6 L128.21 427.18 L128.77 426.77 L129.34 426.38 L129.91 425.99 L130.5 425.61 L131.1 425.24 L131.71 424.89 L132.33 424.55 L132.97 424.22 L133.63 423.9 L134.3 423.6 L135 423.31 L135.73 423.03 L136.48 422.77 L137.25 422.51 L138.04 422.27 L138.85 422.04 L139.66 421.82 L140.48 421.61 L141.3 421.42 L142.12 421.23 L142.94 421.06 L143.74 420.9 L144.54 420.76 L145.31 420.63 L146.07 420.51 L146.8 420.4 L147.51 420.3 L148.19 420.21 L148.86 420.12 L149.51 420.04 L150.16 419.98 L150.79 419.92 L151.41 419.88 L152.04 419.85 L152.66 419.84 L153.29 419.85 L153.92 419.88 L154.57 419.93 L155.22 420.01 L155.9 420.11 L156.59 420.24 L157.3 420.4 L158.05 420.6 L158.83 420.83 L159.64 421.11 L160.47 421.42 L161.32 421.75 L162.18 422.11 L163.05 422.48 L163.91 422.87 L164.77 423.28 L165.61 423.68 L166.43 424.09 L167.22 424.5 L167.98 424.89 L168.7 425.28 L169.38 425.65 L170 426 L170.57 426.34 L171.09 426.67 L171.58 426.99 L172.03 427.32 L172.44 427.64 L172.83 427.96 L173.2 428.28 L173.55 428.59 L173.89 428.91 L174.22 429.23 L174.55 429.55 L174.88 429.87 L175.21 430.2 L175.56 430.53 L175.92 430.86 L176.3 431.2 L176.7 431.54 L177.1 431.88 L177.51 432.23 L177.91 432.58 L178.33 432.92 L178.74 433.27 L179.15 433.63 L179.56 433.98 L179.96 434.34 L180.36 434.7 L180.76 435.06 L181.14 435.42 L181.52 435.79 L181.89 436.16 L182.25 436.53 L182.6 436.9 L182.94 437.28 L183.26 437.66 L183.58 438.04 L183.88 438.43 L184.18 438.82 L184.48 439.22 L184.76 439.61 L185.04 440.01 L185.32 440.41 L185.59 440.81 L185.86 441.21 L186.13 441.61 L186.4 442.01 L186.67 442.41 L186.93 442.81 L187.2 443.2 L187.47 443.59 L187.74 443.99 L188 444.38 L188.27 444.77 L188.53 445.17 L188.79 445.56 L189.05 445.96 L189.31 446.35 L189.56 446.74 L189.81 447.14 L190.05 447.53 L190.29 447.93 L190.53 448.32 L190.76 448.71 L190.98 449.11 L191.2 449.5 L191.41 449.89 L191.62 450.29 L191.82 450.69 L192.02 451.09 L192.21 451.49 L192.4 451.89 L192.58 452.29 L192.76 452.69 L192.94 453.09 L193.11 453.48 L193.28 453.88 L193.45 454.27 L193.62 454.66 L193.78 455.04 L193.94 455.42 L194.1 455.8 L194.26 456.17 L194.41 456.54 L194.55 456.9 L194.7 457.26 L194.84 457.62 L194.97 457.98 L195.11 458.33 L195.24 458.68 L195.37 459.03 L195.5 459.38 L195.63 459.73 L195.76 460.08 L195.89 460.43 L196.02 460.79 L196.16 461.14 L196.3 461.5 L196.44 461.86 L196.58 462.22 L196.73 462.58 L196.87 462.95 L197.01 463.31 L197.16 463.67 L197.3 464.04 L197.44 464.4 L197.59 464.76 L197.73 465.13 L197.88 465.49 L198.02 465.85 L198.17 466.22 L198.31 466.58 L198.46 466.94 L198.6 467.3 L198.74 467.66 L198.89 468.02 L199.03 468.37 L199.17 468.73 L199.32 469.09 L199.46 469.44 L199.61 469.8 L199.75 470.16 L199.89 470.51 L200.04 470.87 L200.18 471.22 L200.32 471.58 L200.47 471.93 L200.61 472.29 L200.76 472.64 L200.9 473 L201.04 473.35 L201.18 473.7 L201.31 474.05 L201.45 474.4 L201.58 474.74 L201.71 475.08 L201.84 475.43 L201.98 475.77 L202.11 476.12 L202.25 476.47 L202.39 476.83 L202.54 477.19 L202.69 477.56 L202.86 477.93 L203.02 478.31 L203.2 478.7 L203.39 479.11 L203.6 479.55 L203.83 480.02 L204.07 480.5 L204.32 481 L204.58 481.5 L204.84 482.01 L205.09 482.51 L205.35 482.99 L205.59 483.47 L205.82 483.91 L206.04 484.33 L206.24 484.72 L206.42 485.06 L206.58 485.36 L206.7 485.6" fill="none" stroke="#22ee22" stroke-width="1.3"/>
<polygon points="88.6,490.09 86.51,494.13 84.07,490.5" fill="#22ee22" stroke="#22ee22" stroke-width="0.8"/>
<polygon points="91.39,486.91 90.95,491.44 87.34,488.98" fill="#22ee22" stroke="#22ee22" stroke-width="0.8"/>
<polygon points="93.06,482.63 93.45,487.16 89.45,485.39" fill="#22ee22" stroke="#22ee22" stroke-width="0.8"/>
<polygon points="94.79,478.45 95.27,482.97 91.24,481.29" fill="#22ee22" stroke="#22ee22" stroke-width="0.8"/>
<polygon points="96.66,474.05 97.11,478.58 93.08,476.87" fill="#22ee22" stroke="#22ee22" stroke-width="0.8"/>
<polygon points="98.8,469.45 99.1,473.99 95.14,472.14" fill="#22ee22" stroke="#22ee22" stroke-width="0.8"/>
<polygon points="101.18,464.51 101.43,469.05 97.49,467.16" fill="#22ee22" stroke="#22ee22" stroke-width="0.8"/>
<polygon points="103.73,459.33 103.92,463.87 100,461.94" fill="#22ee22" stroke="#22ee22" stroke-width="0.8"/>
<polygon points="106.51,453.99 106.6,458.54 102.72,456.51" fill="#22ee22" stroke="#22ee22" stroke-width="0.8"/>
<polygon points="109.57,448.67 109.47,453.22 105.68,451.04" fill="#22ee22" stroke="#22ee22" stroke-width="0.8"/>
<polygon points="113.04,443.16 112.75,447.7 109.06,445.35" fill="#22ee22" stroke="#22ee22" stroke-width="0.8"/>
<polygon points="117.08,437.53 116.46,442.04 112.95,439.45" fill="#22ee22" stroke="#22ee22" stroke-width="0.8"/>
<polygon points="121.9,432.27 120.7,436.66 117.55,433.62" fill="#22ee22" stroke="#22ee22" stroke-width="0.8"/>
<polygon points="127.29,427.84 125.59,432.06 122.82,428.68" fill="#22ee22" stroke="#22ee22" stroke-width="0.8"/>
<polygon points="133.12,424 130.86,427.95 128.58,424.22" fill="#22ee22" stroke="#22ee22" stroke-width="0.8"/>
<polygon points="139.51,421.77 136.4,425.09 135.04,420.94" fill="#22ee22" stroke="#22ee22" stroke-width="0.8"/>
<polygon points="146.07,420.45 142.58,423.36 141.74,419.07" fill="#22ee22" stroke="#22ee22" stroke-width="0.8"/>
<polygon points="152.84,419.74 149.06,422.27 148.67,417.91" fill="#22ee22" stroke="#22ee22" stroke-width="0.8"/>
<polygon points="159.26,420.84 154.89,422.1 155.84,417.84" fill="#22ee22" stroke="#22ee22" stroke-width="0.8"/>
<polygon points="165.23,423.43 160.7,423.84 162.44,419.84" fill="#22ee22" stroke="#22ee22" stroke-width="0.8"/>
<polygon points="170.8,426.4 166.25,426.44 168.31,422.59" fill="#22ee22" stroke="#22ee22" stroke-width="0.8"/>
<polygon points="175.62,430.54 171.21,429.4 174.21,426.21" fill="#22ee22" stroke="#22ee22" stroke-width="0.8"/>
<polygon points="180.55,434.81 176.09,433.89 178.92,430.56" fill="#22ee22" stroke="#22ee22" stroke-width="0.8"/>
<polygon points="184.8,439.47 180.55,437.85 183.88,435.01" fill="#22ee22" stroke="#22ee22" stroke-width="0.8"/>
<polygon points="187.99,444.38 183.95,442.28 187.58,439.85" fill="#22ee22" stroke="#22ee22" stroke-width="0.8"/>
<polygon points="191.07,449.15 187.1,446.94 190.79,444.61" fill="#22ee22" stroke="#22ee22" stroke-width="0.8"/>
<polygon points="193.57,454.45 189.92,451.73 193.89,449.91" fill="#22ee22" stroke="#22ee22" stroke-width="0.8"/>
<polygon points="195.57,459.47 192.07,456.57 196.14,454.96" fill="#22ee22" stroke="#22ee22" stroke-width="0.8"/>
<polygon points="197.45,464.43 193.96,461.52 198.03,459.92" fill="#22ee22" stroke="#22ee22" stroke-width="0.8"/>
<polygon points="199.34,469.15 195.83,466.25 199.89,464.63" fill="#22ee22" stroke="#22ee22" stroke-width="0.8"/>
<polygon points="201.22,473.78 197.69,470.9 201.74,469.26" fill="#22ee22" stroke="#22ee22" stroke-width="0.8"/>
<polygon points="202.97,478.34 199.49,475.41 203.56,473.83" fill="#22ee22" stroke="#22ee22" stroke-width="0.8"/>
<polygon points="205.13,482.63 201.4,480.03 205.31,478.08" fill="#22ee22" stroke="#22ee22" stroke-width="0.8"/>
<polygon points="207.14,486.44 203.36,483.91 207.23,481.89" fill="#22ee22" stroke="#22ee22" stroke-width="0.8"/>
<path d="M85.3 491.5 L85.32 491.49 L85.33 491.52 L85.32 491.58 L85.31 491.67 L85.29 491.76 L85.28 491.85 L85.28 491.93 L85.28 491.99 L85.3 492.02 L85.35 492 L85.41 491.93 L85.51 491.8 L85.65 491.59 L85.82 491.29 L86.04 490.9 L86.3 490.4 L86.62 489.77 L86.98 489.01 L87.39 488.13 L87.84 487.15 L88.32 486.09 L88.83 484.96 L89.37 483.78 L89.92 482.57 L90.5 481.34 L91.09 480.11 L91.68 478.9 L92.28 477.73 L92.87 476.6 L93.46 475.54 L94.04 474.57 L94.6 473.7 L95.16 472.91 L95.72 472.15 L96.29 471.44 L96.87 470.76 L97.46 470.12 L98.04 469.5 L98.64 468.92 L99.23 468.35 L99.83 467.8 L100.43 467.28 L101.03 466.76 L101.62 466.26 L102.22 465.77 L102.82 465.28 L103.41 464.79 L104 464.3 L104.58 463.81 L105.16 463.34 L105.73 462.87 L106.3 462.42 L106.87 461.97 L107.43 461.54 L108 461.12 L108.57 460.72 L109.14 460.33 L109.72 459.95 L110.31 459.58 L110.9 459.24 L111.51 458.9 L112.12 458.58 L112.75 458.28 L113.4 458 L114.06 457.73 L114.74 457.46 L115.43 457.19 L116.13 456.94 L116.84 456.7 L117.56 456.47 L118.29 456.26 L119.02 456.07 L119.76 455.9 L120.5 455.75 L121.24 455.63 L121.98 455.54 L122.71 455.48 L123.45 455.45 L124.18 455.45 L124.9 455.5 L125.63 455.59 L126.37 455.72 L127.12 455.88 L127.87 456.09 L128.63 456.32 L129.4 456.59 L130.16 456.88 L130.91 457.19 L131.66 457.52 L132.4 457.87 L133.12 458.22 L133.82 458.59 L134.5 458.97 L135.16 459.35 L135.8 459.73 L136.4 460.1 L136.98 460.48 L137.54 460.87 L138.09 461.27 L138.62 461.69 L139.13 462.11 L139.63 462.55 L140.11 462.99 L140.57 463.45 L141.02 463.92 L141.45 464.39 L141.87 464.87 L142.27 465.36 L142.65 465.86 L143.02 466.37 L143.37 466.88 L143.7 467.4 L144.01 467.93 L144.3 468.49 L144.56 469.06 L144.79 469.65 L145.01 470.25 L145.21 470.86 L145.4 471.48 L145.57 472.1 L145.74 472.72 L145.9 473.34 L146.05 473.95 L146.19 474.55 L146.34 475.14 L146.49 475.71 L146.64 476.27 L146.8 476.8 L146.96 477.32 L147.11 477.84 L147.26 478.36 L147.4 478.87 L147.54 479.37 L147.68 479.87 L147.81 480.36 L147.94 480.84 L148.06 481.3 L148.19 481.76 L148.31 482.19 L148.43 482.61 L148.55 483.01 L148.66 483.4 L148.78 483.76 L148.9 484.1 L149.02 484.42 L149.14 484.72 L149.27 485 L149.39 485.26 L149.52 485.51 L149.64 485.74 L149.76 485.96 L149.88 486.16 L150 486.34 L150.1 486.51 L150.21 486.67 L150.3 486.82 L150.39 486.96 L150.47 487.08 L150.54 487.2 L150.6 487.3" fill="none" stroke="#1a1ae6" stroke-width="1.3"/>
<polygon points="85.32,488.99 87.32,491.49 85.32,493.99 83.32,491.49" fill="#1a1ae6" stroke="#1a1ae6" stroke-width="1.0"/>
<polygon points="86.98,486.51 88.98,489.01 86.98,491.51 84.98,489.01" fill="#1a1ae6" stroke="#1a1ae6" stroke-width="1.0"/>
<polygon points="89.1,481.87 91.1,484.37 89.1,486.87 87.1,484.37" fill="#1a1ae6" stroke="#1a1ae6" stroke-width="1.0"/>
<polygon points="91.68,476.4 93.68,478.9 91.68,481.4 89.68,478.9" fill="#1a1ae6" stroke="#1a1ae6" stroke-width="1.0"/>
<polygon points="95.35,470.16 97.35,472.66 95.35,475.16 93.35,472.66" fill="#1a1ae6" stroke="#1a1ae6" stroke-width="1.0"/>
<polygon points="101.32,464.01 103.32,466.51 101.32,469.01 99.32,466.51" fill="#1a1ae6" stroke="#1a1ae6" stroke-width="1.0"/>
<polygon points="109.43,457.64 111.43,460.14 109.43,462.64 107.43,460.14" fill="#1a1ae6" stroke="#1a1ae6" stroke-width="1.0"/>
<polygon points="118.65,453.66 120.65,456.16 118.65,458.66 116.65,456.16" fill="#1a1ae6" stroke="#1a1ae6" stroke-width="1.0"/>
<polygon points="128.25,453.71 130.25,456.21 128.25,458.71 126.25,456.21" fill="#1a1ae6" stroke="#1a1ae6" stroke-width="1.0"/>
<polygon points="136.69,457.79 138.69,460.29 136.69,462.79 134.69,460.29" fill="#1a1ae6" stroke="#1a1ae6" stroke-width="1.0"/>
<polygon points="143.19,464.12 145.19,466.62 143.19,469.12 141.19,466.62" fill="#1a1ae6" stroke="#1a1ae6" stroke-width="1.0"/>
<polygon points="145.97,471.14 147.97,473.64 145.97,476.14 143.97,473.64" fill="#1a1ae6" stroke="#1a1ae6" stroke-width="1.0"/>
<polygon points="147.68,477.37 149.68,479.87 147.68,482.37 145.68,479.87" fill="#1a1ae6" stroke="#1a1ae6" stroke-width="1.0"/>
<polygon points="149.14,482.22 151.14,484.72 149.14,487.22 147.14,484.72" fill="#1a1ae6" stroke="#1a1ae6" stroke-width="1.0"/>
<path d="M84.2 492.3 L84.38 492.01 L84.6 491.67 L84.85 491.27 L85.13 490.83 L85.44 490.35 L85.77 489.83 L86.12 489.29 L86.48 488.72 L86.85 488.14 L87.22 487.54 L87.6 486.95 L87.98 486.35 L88.35 485.76 L88.71 485.19 L89.07 484.63 L89.4 484.1 L89.72 483.58 L90.04 483.05 L90.36 482.51 L90.67 481.96 L90.99 481.41 L91.3 480.86 L91.62 480.31 L91.93 479.76 L92.25 479.22 L92.57 478.69 L92.89 478.17 L93.22 477.66 L93.56 477.17 L93.9 476.69 L94.24 476.23 L94.6 475.8 L94.95 475.38 L95.3 474.98 L95.64 474.58 L95.98 474.2 L96.31 473.82 L96.65 473.46 L97 473.11 L97.36 472.77 L97.72 472.45 L98.11 472.14 L98.51 471.85 L98.93 471.57 L99.38 471.3 L99.86 471.05 L100.36 470.82 L100.9 470.6 L101.48 470.39 L102.11 470.18 L102.78 469.97 L103.48 469.77 L104.22 469.58 L104.97 469.41 L105.74 469.25 L106.53 469.11 L107.31 468.99 L108.09 468.9 L108.87 468.84 L109.63 468.81 L110.37 468.82 L111.08 468.87 L111.76 468.96 L112.4 469.1 L113.02 469.29 L113.63 469.53 L114.23 469.83 L114.82 470.16 L115.4 470.53 L115.97 470.94 L116.53 471.38 L117.07 471.84 L117.59 472.32 L118.1 472.81 L118.59 473.31 L119.06 473.82 L119.51 474.33 L119.93 474.83 L120.33 475.32 L120.7 475.8 L121.04 476.28 L121.35 476.77 L121.63 477.27 L121.88 477.78 L122.11 478.31 L122.32 478.83 L122.51 479.37 L122.69 479.91 L122.85 480.44 L123 480.98 L123.15 481.52 L123.3 482.05 L123.44 482.58 L123.59 483.09 L123.74 483.6 L123.9 484.1 L124.07 484.6 L124.23 485.12 L124.39 485.65 L124.55 486.19 L124.71 486.73 L124.86 487.27 L125.01 487.8 L125.15 488.32 L125.29 488.82 L125.41 489.31 L125.54 489.76 L125.65 490.19 L125.75 490.58 L125.85 490.94 L125.93 491.24 L126 491.5" fill="none" stroke="#ee1c1c" stroke-width="1.3"/>
<circle cx="84.38" cy="492.01" r="2.2" fill="#ee1c1c" stroke="#ee1c1c" stroke-width="1.0"/>
<circle cx="86.3" cy="489" r="2.2" fill="#ee1c1c" stroke="#ee1c1c" stroke-width="1.0"/>
<circle cx="88.53" cy="485.47" r="2.2" fill="#ee1c1c" stroke="#ee1c1c" stroke-width="1.0"/>
<circle cx="91.14" cy="481.13" r="2.2" fill="#ee1c1c" stroke="#ee1c1c" stroke-width="1.0"/>
<circle cx="94.24" cy="476.23" r="2.2" fill="#ee1c1c" stroke="#ee1c1c" stroke-width="1.0"/>
<circle cx="99.38" cy="471.3" r="2.2" fill="#ee1c1c" stroke="#ee1c1c" stroke-width="1.0"/>
<circle cx="106.92" cy="469.05" r="2.2" fill="#ee1c1c" stroke="#ee1c1c" stroke-width="1.0"/>
<circle cx="114.52" cy="469.99" r="2.2" fill="#ee1c1c" stroke="#ee1c1c" stroke-width="1.0"/>
<circle cx="120.13" cy="475.08" r="2.2" fill="#ee1c1c" stroke="#ee1c1c" stroke-width="1.0"/>
<circle cx="123.15" cy="481.52" r="2.2" fill="#ee1c1c" stroke="#ee1c1c" stroke-width="1.0"/>
<circle cx="125.01" cy="487.8" r="2.2" fill="#ee1c1c" stroke="#ee1c1c" stroke-width="1.0"/>
<path d="M60.9 290.4 H329.4 V491.6 H60.9 Z" fill="none" stroke="#4a4a4a" stroke-width="1.3"/>
<line x1="57.4" y1="290.21" x2="60.9" y2="290.21" stroke="#4a4a4a" stroke-width="1.2"/>
<line x1="57.4" y1="357.34" x2="60.9" y2="357.34" stroke="#4a4a4a" stroke-width="1.2"/>
<line x1="57.4" y1="424.47" x2="60.9" y2="424.47" stroke="#4a4a4a" stroke-width="1.2"/>
<line x1="57.4" y1="491.6" x2="60.9" y2="491.6" stroke="#4a4a4a" stroke-width="1.2"/>
<line x1="58.7" y1="323.78" x2="60.9" y2="323.78" stroke="#4a4a4a" stroke-width="1"/>
<line x1="58.7" y1="390.91" x2="60.9" y2="390.91" stroke="#4a4a4a" stroke-width="1"/>
<line x1="58.7" y1="458.04" x2="60.9" y2="458.04" stroke="#4a4a4a" stroke-width="1"/>
<text x="52.6" y="294.17" font-size="11" text-anchor="end" fill="#222" stroke="#222" stroke-width="0.28">30</text>
<text x="52.6" y="361.3" font-size="11" text-anchor="end" fill="#222" stroke="#222" stroke-width="0.28">20</text>
<text x="52.6" y="428.43" font-size="11" text-anchor="end" fill="#222" stroke="#222" stroke-width="0.28">10</text>
<text x="52.6" y="495.56" font-size="11" text-anchor="end" fill="#222" stroke="#222" stroke-width="0.28">0</text>
<line x1="60.9" y1="491.6" x2="60.9" y2="495.1" stroke="#4a4a4a" stroke-width="1.2"/>
<line x1="105.65" y1="491.6" x2="105.65" y2="495.1" stroke="#4a4a4a" stroke-width="1.2"/>
<line x1="150.4" y1="491.6" x2="150.4" y2="495.1" stroke="#4a4a4a" stroke-width="1.2"/>
<line x1="195.15" y1="491.6" x2="195.15" y2="495.1" stroke="#4a4a4a" stroke-width="1.2"/>
<line x1="239.9" y1="491.6" x2="239.9" y2="495.1" stroke="#4a4a4a" stroke-width="1.2"/>
<line x1="284.65" y1="491.6" x2="284.65" y2="495.1" stroke="#4a4a4a" stroke-width="1.2"/>
<line x1="329.4" y1="491.6" x2="329.4" y2="495.1" stroke="#4a4a4a" stroke-width="1.2"/>
<line x1="83.28" y1="491.6" x2="83.28" y2="493.8" stroke="#4a4a4a" stroke-width="1"/>
<line x1="128.03" y1="491.6" x2="128.03" y2="493.8" stroke="#4a4a4a" stroke-width="1"/>
<line x1="172.77" y1="491.6" x2="172.77" y2="493.8" stroke="#4a4a4a" stroke-width="1"/>
<line x1="217.53" y1="491.6" x2="217.53" y2="493.8" stroke="#4a4a4a" stroke-width="1"/>
<line x1="262.27" y1="491.6" x2="262.27" y2="493.8" stroke="#4a4a4a" stroke-width="1"/>
<line x1="307.02" y1="491.6" x2="307.02" y2="493.8" stroke="#4a4a4a" stroke-width="1"/>
<text x="60.9" y="508.9" font-size="11" text-anchor="middle" fill="#222" stroke="#222" stroke-width="0.28">0</text>
<text x="105.65" y="508.9" font-size="11" text-anchor="middle" fill="#222" stroke="#222" stroke-width="0.28">10</text>
<text x="150.4" y="508.9" font-size="11" text-anchor="middle" fill="#222" stroke="#222" stroke-width="0.28">20</text>
<text x="195.15" y="508.9" font-size="11" text-anchor="middle" fill="#222" stroke="#222" stroke-width="0.28">30</text>
<text x="239.9" y="508.9" font-size="11" text-anchor="middle" fill="#222" stroke="#222" stroke-width="0.28">40</text>
<text x="284.65" y="508.9" font-size="11" text-anchor="middle" fill="#222" stroke="#222" stroke-width="0.28">50</text>
<text x="329.4" y="508.9" font-size="11" text-anchor="middle" fill="#222" stroke="#222" stroke-width="0.28">60</text>
<text x="196" y="524.5" font-size="11" text-anchor="middle" fill="#222" stroke="#222" stroke-width="0.28"><tspan font-style="italic">Z</tspan><tspan dy="3" font-size="7.5">real</tspan><tspan dy="-3"> (ohms)</tspan></text>
<text x="31.5" y="391" font-size="11" text-anchor="middle" fill="#222" stroke="#222" stroke-width="0.28" transform="rotate(-90 31.5 391)">−<tspan font-style="italic">Z</tspan><tspan dy="3" font-size="7.5">im</tspan><tspan dy="-3"> (ohms)</tspan></text>
<line x1="66" y1="306.4" x2="90.5" y2="306.4" stroke="#ee1c1c" stroke-width="1.4"/>
<circle cx="78.3" cy="306.4" r="2" fill="#ee1c1c" stroke="#ee1c1c" stroke-width="1.0"/>
<text x="95.7" y="309.8" font-size="9.4" text-anchor="start" fill="#222" stroke="#222" stroke-width="0.2">Co/Se-MoS<tspan dy="3.1" font-size="5.83" stroke-width="0.1">2</tspan><tspan dy="-3.1">-NF</tspan></text>
<line x1="66" y1="323.95" x2="90.5" y2="323.95" stroke="#1a1ae6" stroke-width="1.4"/>
<polygon points="78.3,321.45 80.3,323.95 78.3,326.45 76.3,323.95" fill="#1a1ae6" stroke="#1a1ae6" stroke-width="1.0"/>
<text x="95.7" y="327.35" font-size="9.4" text-anchor="start" fill="#222" stroke="#222" stroke-width="0.2">Se-MoS<tspan dy="3.1" font-size="5.83" stroke-width="0.1">2</tspan><tspan dy="-3.1">-NF</tspan></text>
<line x1="66" y1="341.5" x2="90.5" y2="341.5" stroke="#22ee22" stroke-width="1.4"/>
<polygon points="76.7,339.3 76.7,343.7 80.5,341.5" fill="#22ee22" stroke="#22ee22" stroke-width="1.0"/>
<text x="95.7" y="344.9" font-size="9.4" text-anchor="start" fill="#222" stroke="#222" stroke-width="0.2">Co-MoS<tspan dy="3.1" font-size="5.83" stroke-width="0.1">2</tspan><tspan dy="-3.1">-NF</tspan></text>
<line x1="66" y1="359.05" x2="90.5" y2="359.05" stroke="#111111" stroke-width="1.4"/>
<polygon points="79.9,356.85 79.9,361.25 76.1,359.05" fill="#111111" stroke="#111111" stroke-width="1.0"/>
<text x="95.7" y="362.45" font-size="9.4" text-anchor="start" fill="#222" stroke="#222" stroke-width="0.2">MoS<tspan dy="3.1" font-size="5.83" stroke-width="0.1">2</tspan><tspan dy="-3.1">-NF</tspan></text>
<text x="357.3" y="294.4" font-size="18" fill="#111" stroke="#fff" stroke-width="0.2">(<tspan font-size="16.5">d</tspan>)</text>
<path d="M408.4 384.3 L408.66 383.97 L408.97 383.57 L409.33 383.09 L409.72 382.56 L410.16 381.99 L410.62 381.37 L411.11 380.72 L411.62 380.06 L412.15 379.38 L412.68 378.7 L413.23 378.03 L413.78 377.37 L414.32 376.74 L414.86 376.15 L415.39 375.6 L415.9 375.1 L416.41 374.65 L416.94 374.22 L417.49 373.82 L418.05 373.44 L418.61 373.08 L419.19 372.73 L419.76 372.4 L420.33 372.07 L420.9 371.75 L421.45 371.43 L422 371.11 L422.53 370.79 L423.03 370.46 L423.52 370.12 L423.97 369.77 L424.4 369.4 L424.79 369.01 L425.15 368.6 L425.48 368.17 L425.78 367.73 L426.07 367.28 L426.34 366.83 L426.59 366.37 L426.84 365.92 L427.08 365.49 L427.32 365.06 L427.57 364.66 L427.82 364.28 L428.09 363.93 L428.37 363.61 L428.67 363.34 L429 363.1 L429.35 362.92 L429.71 362.8 L430.09 362.74 L430.48 362.72 L430.88 362.73 L431.29 362.77 L431.7 362.82 L432.12 362.89 L432.54 362.95 L432.95 363 L433.36 363.03 L433.77 363.04 L434.17 363.01 L434.56 362.93 L434.94 362.8 L435.3 362.6 L435.65 362.34 L435.98 362.04 L436.3 361.69 L436.6 361.31 L436.9 360.9 L437.19 360.45 L437.49 359.99 L437.77 359.51 L438.07 359.02 L438.36 358.52 L438.67 358.03 L438.98 357.53 L439.31 357.05 L439.66 356.58 L440.02 356.13 L440.4 355.7 L440.81 355.28 L441.24 354.84 L441.69 354.4 L442.16 353.95 L442.65 353.49 L443.14 353.04 L443.64 352.59 L444.15 352.15 L444.66 351.72 L445.16 351.31 L445.65 350.92 L446.14 350.55 L446.61 350.21 L447.06 349.91 L447.49 349.63 L447.9 349.4 L448.28 349.22 L448.65 349.1 L449 349.04 L449.33 349.01 L449.65 349.03 L449.97 349.06 L450.27 349.12 L450.57 349.18 L450.86 349.24 L451.16 349.29 L451.45 349.33 L451.75 349.33 L452.05 349.3 L452.35 349.22 L452.67 349.09 L453 348.9 L453.33 348.65 L453.65 348.36 L453.96 348.03 L454.26 347.67 L454.57 347.27 L454.87 346.86 L455.18 346.41 L455.49 345.96 L455.82 345.48 L456.16 345 L456.51 344.51 L456.88 344.02 L457.27 343.53 L457.69 343.04 L458.13 342.56 L458.6 342.1 L459.1 341.64 L459.62 341.18 L460.16 340.71 L460.73 340.24 L461.31 339.76 L461.9 339.28 L462.52 338.8 L463.15 338.31 L463.79 337.82 L464.45 337.33 L465.12 336.83 L465.8 336.33 L466.49 335.83 L467.19 335.32 L467.89 334.81 L468.6 334.3 L469.32 333.78 L470.07 333.26 L470.83 332.73 L471.6 332.19 L472.39 331.64 L473.19 331.1 L474 330.55 L474.82 330 L475.64 329.45 L476.47 328.9 L477.3 328.36 L478.13 327.81 L478.95 327.27 L479.78 326.74 L480.59 326.22 L481.4 325.7 L482.2 325.19 L483.01 324.69 L483.81 324.19 L484.62 323.7 L485.43 323.21 L486.23 322.72 L487.04 322.24 L487.85 321.76 L488.66 321.28 L489.47 320.8 L490.27 320.32 L491.08 319.84 L491.89 319.36 L492.69 318.87 L493.5 318.39 L494.3 317.9 L495.1 317.41 L495.9 316.91 L496.7 316.4 L497.5 315.9 L498.3 315.39 L499.1 314.88 L499.9 314.37 L500.7 313.86 L501.5 313.36 L502.3 312.86 L503.1 312.36 L503.9 311.87 L504.7 311.39 L505.5 310.92 L506.3 310.45 L507.1 310 L507.91 309.55 L508.72 309.11 L509.53 308.68 L510.35 308.25 L511.17 307.82 L512 307.4 L512.82 306.98 L513.64 306.58 L514.45 306.17 L515.27 305.78 L516.08 305.39 L516.88 305.02 L517.67 304.65 L518.46 304.29 L519.23 303.94 L520 303.6 L520.76 303.27 L521.52 302.95 L522.27 302.64 L523.02 302.34 L523.77 302.05 L524.51 301.77 L525.24 301.5 L525.97 301.23 L526.69 300.97 L527.4 300.72 L528.09 300.47 L528.78 300.23 L529.46 299.99 L530.12 299.76 L530.77 299.53 L531.4 299.3 L531.99 299.08 L532.52 298.87 L533 298.68 L533.45 298.49 L533.86 298.31 L534.27 298.13 L534.67 297.96 L535.08 297.79 L535.5 297.63 L535.96 297.46 L536.46 297.3 L537.02 297.13 L537.64 296.95 L538.33 296.78 L539.12 296.59 L540 296.4 L540.95 296.2 L541.94 295.98 L542.97 295.75 L544.05 295.51 L545.16 295.27 L546.33 295.03 L547.55 294.79 L548.82 294.54 L550.16 294.31 L551.55 294.08 L553.01 293.86 L554.54 293.65 L556.14 293.46 L557.81 293.28 L559.57 293.13 L561.4 293 L563.27 292.89 L565.15 292.81 L567.05 292.74 L568.99 292.68 L570.97 292.65 L573.02 292.62 L575.14 292.61 L577.35 292.6 L579.67 292.6 L582.1 292.6 L584.67 292.61 L587.39 292.62 L590.26 292.62 L593.32 292.62 L596.56 292.61 L600 292.6 L603.83 292.58 L608.15 292.56 L612.88 292.55 L617.95 292.53 L623.27 292.52 L628.75 292.5 L634.33 292.49 L639.91 292.48 L645.42 292.46 L650.77 292.45 L655.88 292.44 L660.67 292.43 L665.06 292.42 L668.97 292.41 L672.31 292.41 L675 292.4" fill="none" stroke="#2828d0" stroke-width="1.1"/>
<polygon points="408.4,382.1 410.6,384.3 408.4,386.5 406.2,384.3" fill="#fff" stroke="#2828d0" stroke-width="1.0"/>
<polygon points="411.42,378.12 413.62,380.32 411.42,382.52 409.22,380.32" fill="#fff" stroke="#2828d0" stroke-width="1.0"/>
<polygon points="414.59,374.25 416.79,376.45 414.59,378.65 412.39,376.45" fill="#fff" stroke="#2828d0" stroke-width="1.0"/>
<polygon points="418.39,371.03 420.59,373.23 418.39,375.43 416.19,373.23" fill="#fff" stroke="#2828d0" stroke-width="1.0"/>
<polygon points="422.69,368.48 424.89,370.68 422.69,372.88 420.49,370.68" fill="#fff" stroke="#2828d0" stroke-width="1.0"/>
<polygon points="426.15,364.95 428.35,367.15 426.15,369.35 423.95,367.15" fill="#fff" stroke="#2828d0" stroke-width="1.0"/>
<polygon points="429,360.9 431.2,363.1 429,365.3 426.8,363.1" fill="#fff" stroke="#2828d0" stroke-width="1.0"/>
<polygon points="433.91,360.83 436.11,363.03 433.91,365.23 431.71,363.03" fill="#fff" stroke="#2828d0" stroke-width="1.0"/>
<polygon points="437.54,357.7 439.74,359.9 437.54,362.1 435.34,359.9" fill="#fff" stroke="#2828d0" stroke-width="1.0"/>
<polygon points="440.34,353.57 442.54,355.77 440.34,357.97 438.14,355.77" fill="#fff" stroke="#2828d0" stroke-width="1.0"/>
<polygon points="443.95,350.12 446.15,352.32 443.95,354.52 441.75,352.32" fill="#fff" stroke="#2828d0" stroke-width="1.0"/>
<polygon points="447.97,347.17 450.17,349.37 447.97,351.57 445.77,349.37" fill="#fff" stroke="#2828d0" stroke-width="1.0"/>
<polygon points="452.83,346.8 455.03,349 452.83,351.2 450.63,349" fill="#fff" stroke="#2828d0" stroke-width="1.0"/>
<polygon points="456.02,343 458.22,345.2 456.02,347.4 453.82,345.2" fill="#fff" stroke="#2828d0" stroke-width="1.0"/>
<polygon points="459.31,339.26 461.51,341.46 459.31,343.66 457.11,341.46" fill="#fff" stroke="#2828d0" stroke-width="1.0"/>
<polygon points="463.18,336.09 465.38,338.29 463.18,340.49 460.98,338.29" fill="#fff" stroke="#2828d0" stroke-width="1.0"/>
<polygon points="467.19,333.11 469.39,335.31 467.19,337.51 464.99,335.31" fill="#fff" stroke="#2828d0" stroke-width="1.0"/>
<polygon points="471.27,330.22 473.47,332.42 471.27,334.62 469.07,332.42" fill="#fff" stroke="#2828d0" stroke-width="1.0"/>
<polygon points="475.41,327.41 477.61,329.61 475.41,331.81 473.21,329.61" fill="#fff" stroke="#2828d0" stroke-width="1.0"/>
<polygon points="479.59,324.66 481.79,326.86 479.59,329.06 477.39,326.86" fill="#fff" stroke="#2828d0" stroke-width="1.0"/>
<polygon points="483.81,321.99 486.01,324.19 483.81,326.39 481.61,324.19" fill="#fff" stroke="#2828d0" stroke-width="1.0"/>
<polygon points="488.09,319.41 490.29,321.61 488.09,323.81 485.89,321.61" fill="#fff" stroke="#2828d0" stroke-width="1.0"/>
<polygon points="492.39,316.85 494.59,319.05 492.39,321.25 490.19,319.05" fill="#fff" stroke="#2828d0" stroke-width="1.0"/>
<polygon points="496.65,314.24 498.85,316.44 496.65,318.64 494.45,316.44" fill="#fff" stroke="#2828d0" stroke-width="1.0"/>
<polygon points="500.87,311.55 503.07,313.75 500.87,315.95 498.67,313.75" fill="#fff" stroke="#2828d0" stroke-width="1.0"/>
<polygon points="505.13,308.93 507.33,311.13 505.13,313.33 502.93,311.13" fill="#fff" stroke="#2828d0" stroke-width="1.0"/>
<polygon points="509.49,306.5 511.69,308.7 509.49,310.9 507.29,308.7" fill="#fff" stroke="#2828d0" stroke-width="1.0"/>
<polygon points="513.95,304.22 516.15,306.42 513.95,308.62 511.75,306.42" fill="#fff" stroke="#2828d0" stroke-width="1.0"/>
<polygon points="518.47,302.09 520.67,304.29 518.47,306.49 516.27,304.29" fill="#fff" stroke="#2828d0" stroke-width="1.0"/>
<polygon points="523.07,300.13 525.27,302.33 523.07,304.53 520.87,302.33" fill="#fff" stroke="#2828d0" stroke-width="1.0"/>
<polygon points="527.75,298.39 529.95,300.59 527.75,302.79 525.55,300.59" fill="#fff" stroke="#2828d0" stroke-width="1.0"/>
<polygon points="532.46,296.7 534.66,298.9 532.46,301.1 530.26,298.9" fill="#fff" stroke="#2828d0" stroke-width="1.0"/>
<polygon points="537.12,294.9 539.32,297.1 537.12,299.3 534.92,297.1" fill="#fff" stroke="#2828d0" stroke-width="1.0"/>
<polygon points="541.99,293.77 544.19,295.97 541.99,298.17 539.79,295.97" fill="#fff" stroke="#2828d0" stroke-width="1.0"/>
<polygon points="546.88,292.72 549.08,294.92 546.88,297.12 544.68,294.92" fill="#fff" stroke="#2828d0" stroke-width="1.0"/>
<polygon points="551.8,291.84 554,294.04 551.8,296.24 549.6,294.04" fill="#fff" stroke="#2828d0" stroke-width="1.0"/>
<polygon points="556.76,291.19 558.96,293.39 556.76,295.59 554.56,293.39" fill="#fff" stroke="#2828d0" stroke-width="1.0"/>
<polygon points="561.74,290.78 563.94,292.98 561.74,295.18 559.54,292.98" fill="#fff" stroke="#2828d0" stroke-width="1.0"/>
<polygon points="566.73,290.55 568.93,292.75 566.73,294.95 564.53,292.75" fill="#fff" stroke="#2828d0" stroke-width="1.0"/>
<polygon points="571.73,290.44 573.93,292.64 571.73,294.84 569.53,292.64" fill="#fff" stroke="#2828d0" stroke-width="1.0"/>
<polygon points="576.73,290.4 578.93,292.6 576.73,294.8 574.53,292.6" fill="#fff" stroke="#2828d0" stroke-width="1.0"/>
<polygon points="581.73,290.4 583.93,292.6 581.73,294.8 579.53,292.6" fill="#fff" stroke="#2828d0" stroke-width="1.0"/>
<polygon points="586.73,290.41 588.93,292.61 586.73,294.81 584.53,292.61" fill="#fff" stroke="#2828d0" stroke-width="1.0"/>
<polygon points="591.73,290.42 593.93,292.62 591.73,294.82 589.53,292.62" fill="#fff" stroke="#2828d0" stroke-width="1.0"/>
<polygon points="596.73,290.41 598.93,292.61 596.73,294.81 594.53,292.61" fill="#fff" stroke="#2828d0" stroke-width="1.0"/>
<polygon points="601.73,290.39 603.93,292.59 601.73,294.79 599.53,292.59" fill="#fff" stroke="#2828d0" stroke-width="1.0"/>
<polygon points="606.73,290.37 608.93,292.57 606.73,294.77 604.53,292.57" fill="#fff" stroke="#2828d0" stroke-width="1.0"/>
<polygon points="611.73,290.35 613.93,292.55 611.73,294.75 609.53,292.55" fill="#fff" stroke="#2828d0" stroke-width="1.0"/>
<polygon points="616.73,290.34 618.93,292.54 616.73,294.74 614.53,292.54" fill="#fff" stroke="#2828d0" stroke-width="1.0"/>
<polygon points="621.73,290.32 623.93,292.52 621.73,294.72 619.53,292.52" fill="#fff" stroke="#2828d0" stroke-width="1.0"/>
<polygon points="626.73,290.31 628.93,292.51 626.73,294.71 624.53,292.51" fill="#fff" stroke="#2828d0" stroke-width="1.0"/>
<polygon points="631.73,290.29 633.93,292.49 631.73,294.69 629.53,292.49" fill="#fff" stroke="#2828d0" stroke-width="1.0"/>
<polygon points="636.73,290.28 638.93,292.48 636.73,294.68 634.53,292.48" fill="#fff" stroke="#2828d0" stroke-width="1.0"/>
<polygon points="641.73,290.27 643.93,292.47 641.73,294.67 639.53,292.47" fill="#fff" stroke="#2828d0" stroke-width="1.0"/>
<polygon points="646.73,290.26 648.93,292.46 646.73,294.66 644.53,292.46" fill="#fff" stroke="#2828d0" stroke-width="1.0"/>
<polygon points="651.73,290.25 653.93,292.45 651.73,294.65 649.53,292.45" fill="#fff" stroke="#2828d0" stroke-width="1.0"/>
<polygon points="656.73,290.24 658.93,292.44 656.73,294.64 654.53,292.44" fill="#fff" stroke="#2828d0" stroke-width="1.0"/>
<polygon points="661.73,290.23 663.93,292.43 661.73,294.63 659.53,292.43" fill="#fff" stroke="#2828d0" stroke-width="1.0"/>
<polygon points="666.73,290.22 668.93,292.42 666.73,294.62 664.53,292.42" fill="#fff" stroke="#2828d0" stroke-width="1.0"/>
<polygon points="671.73,290.21 673.93,292.41 671.73,294.61 669.53,292.41" fill="#fff" stroke="#2828d0" stroke-width="1.0"/>
<path d="M520.3 491.3 L520.42 491.12 L520.56 490.94 L520.7 490.74 L520.86 490.54 L521.03 490.31 L521.22 490.07 L521.42 489.8 L521.64 489.5 L521.87 489.17 L522.13 488.8 L522.4 488.39 L522.7 487.94 L523.01 487.44 L523.35 486.88 L523.71 486.27 L524.1 485.6 L524.51 484.87 L524.93 484.08 L525.37 483.25 L525.83 482.36 L526.31 481.42 L526.81 480.45 L527.33 479.43 L527.87 478.37 L528.43 477.27 L529.02 476.14 L529.63 474.98 L530.27 473.79 L530.94 472.58 L531.63 471.34 L532.35 470.08 L533.1 468.8 L533.89 467.48 L534.71 466.11 L535.58 464.69 L536.48 463.22 L537.4 461.72 L538.36 460.18 L539.33 458.62 L540.33 457.04 L541.34 455.44 L542.37 453.84 L543.41 452.24 L544.45 450.64 L545.49 449.05 L546.53 447.47 L547.57 445.92 L548.6 444.4 L549.61 442.94 L550.58 441.55 L551.54 440.23 L552.48 438.95 L553.41 437.7 L554.35 436.45 L555.3 435.19 L556.27 433.91 L557.28 432.59 L558.32 431.2 L559.41 429.73 L560.56 428.17 L561.78 426.49 L563.06 424.68 L564.44 422.72 L565.9 420.6 L567.49 418.26 L569.22 415.67 L571.07 412.88 L573.03 409.92 L575.06 406.83 L577.16 403.63 L579.29 400.36 L581.45 397.06 L583.61 393.76 L585.74 390.5 L587.84 387.31 L589.87 384.22 L591.83 381.27 L593.68 378.49 L595.41 375.93 L597 373.6 L598.47 371.49 L599.85 369.53 L601.15 367.71 L602.38 366.02 L603.55 364.44 L604.66 362.96 L605.72 361.57 L606.74 360.24 L607.72 358.96 L608.68 357.73 L609.62 356.53 L610.55 355.33 L611.48 354.14 L612.4 352.93 L613.34 351.69 L614.3 350.4 L615.26 349.09 L616.21 347.8 L617.14 346.53 L618.06 345.27 L618.96 344.03 L619.85 342.8 L620.73 341.6 L621.59 340.41 L622.44 339.24 L623.27 338.08 L624.09 336.95 L624.9 335.84 L625.69 334.75 L626.47 333.68 L627.24 332.63 L628 331.6 L628.74 330.6 L629.45 329.63 L630.14 328.69 L630.81 327.78 L631.47 326.89 L632.11 326.01 L632.74 325.16 L633.36 324.33 L633.98 323.5 L634.59 322.69 L635.2 321.88 L635.8 321.09 L636.42 320.29 L637.04 319.5 L637.66 318.7 L638.3 317.9 L638.95 317.1 L639.59 316.31 L640.24 315.53 L640.9 314.76 L641.55 314 L642.2 313.24 L642.85 312.49 L643.51 311.74 L644.16 311 L644.8 310.27 L645.45 309.53 L646.09 308.8 L646.72 308.08 L647.36 307.35 L647.98 306.62 L648.6 305.9 L649.22 305.16 L649.85 304.4 L650.5 303.62 L651.14 302.84 L651.79 302.05 L652.43 301.25 L653.07 300.47 L653.69 299.7 L654.31 298.95 L654.91 298.22 L655.49 297.52 L656.05 296.86 L656.58 296.24 L657.09 295.67 L657.56 295.16 L658 294.7 L658.41 294.3 L658.79 293.96 L659.14 293.67 L659.47 293.43 L659.78 293.22 L660.07 293.05 L660.34 292.91 L660.59 292.8 L660.82 292.71 L661.03 292.64 L661.23 292.58 L661.41 292.52 L661.57 292.48 L661.73 292.42 L661.87 292.37 L662 292.3" fill="none" stroke="#1a1a1a" stroke-width="1.1"/>
<circle cx="520.3" cy="491.3" r="1.95" fill="#fff" stroke="#1a1a1a" stroke-width="1.0"/>
<circle cx="523.16" cy="487.2" r="1.95" fill="#fff" stroke="#1a1a1a" stroke-width="1.0"/>
<circle cx="525.59" cy="482.83" r="1.95" fill="#fff" stroke="#1a1a1a" stroke-width="1.0"/>
<circle cx="527.86" cy="478.38" r="1.95" fill="#fff" stroke="#1a1a1a" stroke-width="1.0"/>
<circle cx="530.19" cy="473.95" r="1.95" fill="#fff" stroke="#1a1a1a" stroke-width="1.0"/>
<circle cx="532.63" cy="469.59" r="1.95" fill="#fff" stroke="#1a1a1a" stroke-width="1.0"/>
<circle cx="535.2" cy="465.3" r="1.95" fill="#fff" stroke="#1a1a1a" stroke-width="1.0"/>
<circle cx="537.82" cy="461.04" r="1.95" fill="#fff" stroke="#1a1a1a" stroke-width="1.0"/>
<circle cx="540.48" cy="456.81" r="1.95" fill="#fff" stroke="#1a1a1a" stroke-width="1.0"/>
<circle cx="543.17" cy="452.6" r="1.95" fill="#fff" stroke="#1a1a1a" stroke-width="1.0"/>
<circle cx="545.91" cy="448.41" r="1.95" fill="#fff" stroke="#1a1a1a" stroke-width="1.0"/>
<circle cx="548.7" cy="444.26" r="1.95" fill="#fff" stroke="#1a1a1a" stroke-width="1.0"/>
<circle cx="551.58" cy="440.17" r="1.95" fill="#fff" stroke="#1a1a1a" stroke-width="1.0"/>
<circle cx="554.57" cy="436.17" r="1.95" fill="#fff" stroke="#1a1a1a" stroke-width="1.0"/>
<circle cx="557.58" cy="432.18" r="1.95" fill="#fff" stroke="#1a1a1a" stroke-width="1.0"/>
<circle cx="560.56" cy="428.16" r="1.95" fill="#fff" stroke="#1a1a1a" stroke-width="1.0"/>
<circle cx="563.47" cy="424.1" r="1.95" fill="#fff" stroke="#1a1a1a" stroke-width="1.0"/>
<circle cx="566.32" cy="419.99" r="1.95" fill="#fff" stroke="#1a1a1a" stroke-width="1.0"/>
<circle cx="569.11" cy="415.84" r="1.95" fill="#fff" stroke="#1a1a1a" stroke-width="1.0"/>
<circle cx="571.87" cy="411.67" r="1.95" fill="#fff" stroke="#1a1a1a" stroke-width="1.0"/>
<circle cx="574.62" cy="407.5" r="1.95" fill="#fff" stroke="#1a1a1a" stroke-width="1.0"/>
<circle cx="577.36" cy="403.31" r="1.95" fill="#fff" stroke="#1a1a1a" stroke-width="1.0"/>
<circle cx="580.1" cy="399.13" r="1.95" fill="#fff" stroke="#1a1a1a" stroke-width="1.0"/>
<circle cx="582.84" cy="394.94" r="1.95" fill="#fff" stroke="#1a1a1a" stroke-width="1.0"/>
<circle cx="585.57" cy="390.76" r="1.95" fill="#fff" stroke="#1a1a1a" stroke-width="1.0"/>
<circle cx="588.32" cy="386.58" r="1.95" fill="#fff" stroke="#1a1a1a" stroke-width="1.0"/>
<circle cx="591.07" cy="382.41" r="1.95" fill="#fff" stroke="#1a1a1a" stroke-width="1.0"/>
<circle cx="593.85" cy="378.25" r="1.95" fill="#fff" stroke="#1a1a1a" stroke-width="1.0"/>
<circle cx="596.65" cy="374.11" r="1.95" fill="#fff" stroke="#1a1a1a" stroke-width="1.0"/>
<circle cx="599.51" cy="370.01" r="1.95" fill="#fff" stroke="#1a1a1a" stroke-width="1.0"/>
<circle cx="602.43" cy="365.95" r="1.95" fill="#fff" stroke="#1a1a1a" stroke-width="1.0"/>
<circle cx="605.43" cy="361.95" r="1.95" fill="#fff" stroke="#1a1a1a" stroke-width="1.0"/>
<circle cx="608.48" cy="357.99" r="1.95" fill="#fff" stroke="#1a1a1a" stroke-width="1.0"/>
<circle cx="611.55" cy="354.04" r="1.95" fill="#fff" stroke="#1a1a1a" stroke-width="1.0"/>
<circle cx="614.56" cy="350.05" r="1.95" fill="#fff" stroke="#1a1a1a" stroke-width="1.0"/>
<circle cx="617.52" cy="346.01" r="1.95" fill="#fff" stroke="#1a1a1a" stroke-width="1.0"/>
<circle cx="620.46" cy="341.97" r="1.95" fill="#fff" stroke="#1a1a1a" stroke-width="1.0"/>
<circle cx="623.39" cy="337.92" r="1.95" fill="#fff" stroke="#1a1a1a" stroke-width="1.0"/>
<circle cx="626.33" cy="333.88" r="1.95" fill="#fff" stroke="#1a1a1a" stroke-width="1.0"/>
<circle cx="629.29" cy="329.85" r="1.95" fill="#fff" stroke="#1a1a1a" stroke-width="1.0"/>
<circle cx="632.25" cy="325.82" r="1.95" fill="#fff" stroke="#1a1a1a" stroke-width="1.0"/>
<circle cx="635.25" cy="321.82" r="1.95" fill="#fff" stroke="#1a1a1a" stroke-width="1.0"/>
<circle cx="638.32" cy="317.87" r="1.95" fill="#fff" stroke="#1a1a1a" stroke-width="1.0"/>
<circle cx="641.52" cy="314.03" r="1.95" fill="#fff" stroke="#1a1a1a" stroke-width="1.0"/>
<circle cx="644.81" cy="310.26" r="1.95" fill="#fff" stroke="#1a1a1a" stroke-width="1.0"/>
<circle cx="648.09" cy="306.49" r="1.95" fill="#fff" stroke="#1a1a1a" stroke-width="1.0"/>
<circle cx="651.29" cy="302.65" r="1.95" fill="#fff" stroke="#1a1a1a" stroke-width="1.0"/>
<circle cx="654.45" cy="298.78" r="1.95" fill="#fff" stroke="#1a1a1a" stroke-width="1.0"/>
<circle cx="657.72" cy="294.99" r="1.95" fill="#fff" stroke="#1a1a1a" stroke-width="1.0"/>
<circle cx="661.88" cy="292.36" r="1.95" fill="#fff" stroke="#1a1a1a" stroke-width="1.0"/>
<path d="M582 491.3 L582.18 490.46 L582.39 489.45 L582.64 488.28 L582.91 486.97 L583.21 485.54 L583.53 484.01 L583.87 482.4 L584.23 480.74 L584.59 479.03 L584.96 477.3 L585.33 475.57 L585.7 473.86 L586.06 472.19 L586.42 470.58 L586.77 469.04 L587.1 467.6 L587.42 466.23 L587.74 464.88 L588.05 463.55 L588.36 462.25 L588.68 460.95 L588.99 459.67 L589.3 458.41 L589.62 457.14 L589.94 455.89 L590.26 454.63 L590.58 453.38 L590.91 452.12 L591.25 450.86 L591.59 449.58 L591.94 448.3 L592.3 447 L592.65 445.75 L593 444.59 L593.33 443.5 L593.66 442.47 L593.99 441.46 L594.32 440.46 L594.66 439.44 L595.01 438.38 L595.38 437.25 L595.76 436.05 L596.17 434.73 L596.61 433.29 L597.07 431.7 L597.58 429.94 L598.12 427.98 L598.7 425.8 L599.35 423.32 L600.06 420.51 L600.84 417.42 L601.67 414.09 L602.54 410.57 L603.43 406.92 L604.35 403.18 L605.28 399.39 L606.2 395.62 L607.11 391.91 L607.99 388.3 L608.84 384.85 L609.65 381.61 L610.4 378.62 L611.09 375.93 L611.7 373.6 L612.24 371.59 L612.72 369.84 L613.15 368.31 L613.53 366.98 L613.87 365.82 L614.19 364.82 L614.47 363.94 L614.74 363.15 L614.99 362.44 L615.23 361.77 L615.48 361.12 L615.73 360.47 L615.99 359.79 L616.27 359.05 L616.57 358.23 L616.9 357.3 L617.25 356.32 L617.62 355.34 L617.99 354.38 L618.36 353.43 L618.75 352.48 L619.13 351.54 L619.52 350.6 L619.91 349.66 L620.29 348.71 L620.68 347.77 L621.06 346.82 L621.44 345.86 L621.82 344.89 L622.19 343.9 L622.55 342.91 L622.9 341.9 L623.24 340.86 L623.58 339.8 L623.91 338.71 L624.24 337.6 L624.56 336.48 L624.88 335.35 L625.19 334.22 L625.51 333.09 L625.82 331.96 L626.13 330.85 L626.44 329.75 L626.75 328.68 L627.06 327.63 L627.37 326.61 L627.68 325.64 L628 324.7 L628.32 323.81 L628.63 322.95 L628.93 322.13 L629.23 321.33 L629.53 320.57 L629.83 319.82 L630.13 319.09 L630.44 318.38 L630.74 317.67 L631.06 316.97 L631.37 316.28 L631.7 315.58 L632.03 314.88 L632.38 314.16 L632.73 313.44 L633.1 312.7 L633.48 311.94 L633.86 311.16 L634.26 310.38 L634.66 309.58 L635.07 308.78 L635.48 307.97 L635.9 307.17 L636.33 306.37 L636.77 305.59 L637.21 304.82 L637.66 304.07 L638.11 303.33 L638.58 302.63 L639.04 301.95 L639.52 301.31 L640 300.7 L640.48 300.12 L640.97 299.57 L641.46 299.03 L641.95 298.51 L642.45 298.02 L642.95 297.54 L643.46 297.09 L643.98 296.65 L644.51 296.24 L645.05 295.84 L645.6 295.47 L646.17 295.11 L646.75 294.78 L647.35 294.47 L647.97 294.17 L648.6 293.9 L649.26 293.65 L649.93 293.44 L650.63 293.25 L651.34 293.09 L652.07 292.96 L652.82 292.84 L653.57 292.75 L654.34 292.67 L655.11 292.6 L655.89 292.55 L656.68 292.5 L657.46 292.46 L658.25 292.42 L659.04 292.38 L659.82 292.34 L660.6 292.3 L661.4 292.26 L662.25 292.23 L663.13 292.21 L664.04 292.21 L664.97 292.21 L665.9 292.22 L666.83 292.23 L667.75 292.25 L668.64 292.27 L669.5 292.3 L670.32 292.32 L671.08 292.34 L671.78 292.36 L672.41 292.38 L672.95 292.39 L673.4 292.4" fill="none" stroke="#ee3030" stroke-width="1.1"/>
<polygon points="579.97,492.78 584.03,492.78 582,489.26" fill="#fff" stroke="#ee3030" stroke-width="1.0"/>
<polygon points="580.75,489.06 584.82,489.06 582.79,485.55" fill="#fff" stroke="#ee3030" stroke-width="1.0"/>
<polygon points="581.53,485.34 585.6,485.34 583.57,481.83" fill="#fff" stroke="#ee3030" stroke-width="1.0"/>
<polygon points="582.32,481.63 586.39,481.63 584.35,478.11" fill="#fff" stroke="#ee3030" stroke-width="1.0"/>
<polygon points="583.11,477.91 587.18,477.91 585.14,474.39" fill="#fff" stroke="#ee3030" stroke-width="1.0"/>
<polygon points="583.91,474.2 587.98,474.2 585.95,470.68" fill="#fff" stroke="#ee3030" stroke-width="1.0"/>
<polygon points="584.74,470.49 588.81,470.49 586.78,466.97" fill="#fff" stroke="#ee3030" stroke-width="1.0"/>
<polygon points="585.6,466.78 589.67,466.78 587.64,463.27" fill="#fff" stroke="#ee3030" stroke-width="1.0"/>
<polygon points="586.48,463.09 590.55,463.09 588.52,459.57" fill="#fff" stroke="#ee3030" stroke-width="1.0"/>
<polygon points="587.39,459.4 591.46,459.4 589.43,455.88" fill="#fff" stroke="#ee3030" stroke-width="1.0"/>
<polygon points="588.33,455.72 592.4,455.72 590.36,452.2" fill="#fff" stroke="#ee3030" stroke-width="1.0"/>
<polygon points="589.29,452.04 593.36,452.04 591.33,448.53" fill="#fff" stroke="#ee3030" stroke-width="1.0"/>
<polygon points="590.29,448.37 594.36,448.37 592.33,444.86" fill="#fff" stroke="#ee3030" stroke-width="1.0"/>
<polygon points="591.38,444.73 595.45,444.73 593.41,441.22" fill="#fff" stroke="#ee3030" stroke-width="1.0"/>
<polygon points="592.56,441.12 596.63,441.12 594.59,437.61" fill="#fff" stroke="#ee3030" stroke-width="1.0"/>
<polygon points="593.73,437.51 597.8,437.51 595.77,433.99" fill="#fff" stroke="#ee3030" stroke-width="1.0"/>
<polygon points="594.84,433.87 598.91,433.87 596.87,430.36" fill="#fff" stroke="#ee3030" stroke-width="1.0"/>
<polygon points="595.87,430.21 599.94,430.21 597.91,426.7" fill="#fff" stroke="#ee3030" stroke-width="1.0"/>
<polygon points="596.86,426.54 600.93,426.54 598.89,423.03" fill="#fff" stroke="#ee3030" stroke-width="1.0"/>
<polygon points="597.81,422.86 601.88,422.86 599.84,419.35" fill="#fff" stroke="#ee3030" stroke-width="1.0"/>
<polygon points="598.73,419.18 602.8,419.18 600.77,415.67" fill="#fff" stroke="#ee3030" stroke-width="1.0"/>
<polygon points="599.65,415.49 603.72,415.49 601.69,411.98" fill="#fff" stroke="#ee3030" stroke-width="1.0"/>
<polygon points="600.56,411.8 604.63,411.8 602.6,408.29" fill="#fff" stroke="#ee3030" stroke-width="1.0"/>
<polygon points="601.47,408.11 605.54,408.11 603.5,404.6" fill="#fff" stroke="#ee3030" stroke-width="1.0"/>
<polygon points="602.37,404.42 606.44,404.42 604.41,400.91" fill="#fff" stroke="#ee3030" stroke-width="1.0"/>
<polygon points="603.27,400.73 607.34,400.73 605.31,397.22" fill="#fff" stroke="#ee3030" stroke-width="1.0"/>
<polygon points="604.18,397.04 608.25,397.04 606.21,393.52" fill="#fff" stroke="#ee3030" stroke-width="1.0"/>
<polygon points="605.08,393.35 609.15,393.35 607.12,389.83" fill="#fff" stroke="#ee3030" stroke-width="1.0"/>
<polygon points="605.99,389.66 610.06,389.66 608.02,386.14" fill="#fff" stroke="#ee3030" stroke-width="1.0"/>
<polygon points="606.9,385.97 610.97,385.97 608.93,382.45" fill="#fff" stroke="#ee3030" stroke-width="1.0"/>
<polygon points="607.82,382.28 611.89,382.28 609.85,378.77" fill="#fff" stroke="#ee3030" stroke-width="1.0"/>
<polygon points="608.75,378.6 612.82,378.6 610.79,375.08" fill="#fff" stroke="#ee3030" stroke-width="1.0"/>
<polygon points="609.71,374.92 613.78,374.92 611.74,371.41" fill="#fff" stroke="#ee3030" stroke-width="1.0"/>
<polygon points="610.7,371.25 614.77,371.25 612.74,367.74" fill="#fff" stroke="#ee3030" stroke-width="1.0"/>
<polygon points="611.75,367.6 615.82,367.6 613.79,364.09" fill="#fff" stroke="#ee3030" stroke-width="1.0"/>
<polygon points="612.93,363.99 617,363.99 614.96,360.47" fill="#fff" stroke="#ee3030" stroke-width="1.0"/>
<polygon points="614.27,360.43 618.34,360.43 616.3,356.92" fill="#fff" stroke="#ee3030" stroke-width="1.0"/>
<polygon points="615.57,356.86 619.64,356.86 617.6,353.35" fill="#fff" stroke="#ee3030" stroke-width="1.0"/>
<polygon points="616.97,353.33 621.04,353.33 619,349.81" fill="#fff" stroke="#ee3030" stroke-width="1.0"/>
<polygon points="618.41,349.81 622.48,349.81 620.45,346.3" fill="#fff" stroke="#ee3030" stroke-width="1.0"/>
<polygon points="619.82,346.28 623.89,346.28 621.85,342.77" fill="#fff" stroke="#ee3030" stroke-width="1.0"/>
<polygon points="621.09,342.7 625.16,342.7 623.12,339.19" fill="#fff" stroke="#ee3030" stroke-width="1.0"/>
<polygon points="622.21,339.07 626.28,339.07 624.24,335.56" fill="#fff" stroke="#ee3030" stroke-width="1.0"/>
<polygon points="623.24,335.41 627.31,335.41 625.27,331.9" fill="#fff" stroke="#ee3030" stroke-width="1.0"/>
<polygon points="624.25,331.75 628.32,331.75 626.29,328.24" fill="#fff" stroke="#ee3030" stroke-width="1.0"/>
<polygon points="625.33,328.11 629.4,328.11 627.36,324.59" fill="#fff" stroke="#ee3030" stroke-width="1.0"/>
<polygon points="626.56,324.51 630.63,324.51 628.6,321" fill="#fff" stroke="#ee3030" stroke-width="1.0"/>
<polygon points="627.93,320.97 632,320.97 629.97,317.46" fill="#fff" stroke="#ee3030" stroke-width="1.0"/>
<polygon points="629.46,317.49 633.53,317.49 631.5,313.98" fill="#fff" stroke="#ee3030" stroke-width="1.0"/>
<polygon points="631.12,314.07 635.19,314.07 633.15,310.56" fill="#fff" stroke="#ee3030" stroke-width="1.0"/>
<polygon points="632.82,310.67 636.89,310.67 634.85,307.16" fill="#fff" stroke="#ee3030" stroke-width="1.0"/>
<polygon points="634.6,307.31 638.67,307.31 636.63,303.8" fill="#fff" stroke="#ee3030" stroke-width="1.0"/>
<polygon points="636.57,304.07 640.64,304.07 638.6,300.55" fill="#fff" stroke="#ee3030" stroke-width="1.0"/>
<polygon points="638.91,301.08 642.98,301.08 640.94,297.56" fill="#fff" stroke="#ee3030" stroke-width="1.0"/>
<polygon points="641.61,298.41 645.68,298.41 643.65,294.9" fill="#fff" stroke="#ee3030" stroke-width="1.0"/>
<polygon points="644.73,296.25 648.8,296.25 646.76,292.74" fill="#fff" stroke="#ee3030" stroke-width="1.0"/>
<polygon points="648.24,294.83 652.31,294.83 650.28,291.31" fill="#fff" stroke="#ee3030" stroke-width="1.0"/>
<polygon points="651.98,294.18 656.05,294.18 654.02,290.67" fill="#fff" stroke="#ee3030" stroke-width="1.0"/>
<polygon points="655.77,293.92 659.84,293.92 657.81,290.41" fill="#fff" stroke="#ee3030" stroke-width="1.0"/>
<polygon points="659.57,293.73 663.64,293.73 661.6,290.22" fill="#fff" stroke="#ee3030" stroke-width="1.0"/>
<polygon points="663.37,293.69 667.44,293.69 665.4,290.18" fill="#fff" stroke="#ee3030" stroke-width="1.0"/>
<polygon points="667.17,293.77 671.24,293.77 669.2,290.25" fill="#fff" stroke="#ee3030" stroke-width="1.0"/>
<polygon points="670.97,293.87 675.04,293.87 673,290.36" fill="#fff" stroke="#ee3030" stroke-width="1.0"/>
<path d="M407.5 290.4 H675.3 V491.4 H407.5 Z" fill="none" stroke="#4a4a4a" stroke-width="1.3"/>
<line x1="403.9" y1="292.1" x2="407.4" y2="292.1" stroke="#4a4a4a" stroke-width="1.2"/>
<line x1="403.9" y1="331.94" x2="407.4" y2="331.94" stroke="#4a4a4a" stroke-width="1.2"/>
<line x1="403.9" y1="371.78" x2="407.4" y2="371.78" stroke="#4a4a4a" stroke-width="1.2"/>
<line x1="403.9" y1="411.62" x2="407.4" y2="411.62" stroke="#4a4a4a" stroke-width="1.2"/>
<line x1="403.9" y1="451.46" x2="407.4" y2="451.46" stroke="#4a4a4a" stroke-width="1.2"/>
<line x1="403.9" y1="491.3" x2="407.4" y2="491.3" stroke="#4a4a4a" stroke-width="1.2"/>
<line x1="405.2" y1="312.02" x2="407.4" y2="312.02" stroke="#4a4a4a" stroke-width="1"/>
<line x1="405.2" y1="351.86" x2="407.4" y2="351.86" stroke="#4a4a4a" stroke-width="1"/>
<line x1="405.2" y1="391.7" x2="407.4" y2="391.7" stroke="#4a4a4a" stroke-width="1"/>
<line x1="405.2" y1="431.54" x2="407.4" y2="431.54" stroke="#4a4a4a" stroke-width="1"/>
<line x1="405.2" y1="471.38" x2="407.4" y2="471.38" stroke="#4a4a4a" stroke-width="1"/>
<text x="399.1" y="296.06" font-size="11" text-anchor="end" fill="#222" stroke="#222" stroke-width="0.28">0</text>
<text x="399.1" y="335.9" font-size="11" text-anchor="end" fill="#222" stroke="#222" stroke-width="0.28">−200</text>
<text x="399.1" y="375.74" font-size="11" text-anchor="end" fill="#222" stroke="#222" stroke-width="0.28">−400</text>
<text x="399.1" y="415.58" font-size="11" text-anchor="end" fill="#222" stroke="#222" stroke-width="0.28">−600</text>
<text x="399.1" y="455.42" font-size="11" text-anchor="end" fill="#222" stroke="#222" stroke-width="0.28">−800</text>
<text x="399.1" y="495.26" font-size="11" text-anchor="end" fill="#222" stroke="#222" stroke-width="0.28">−1000</text>
<line x1="407.74" y1="491.4" x2="407.74" y2="494.9" stroke="#4a4a4a" stroke-width="1.2"/>
<line x1="450.5" y1="491.4" x2="450.5" y2="494.9" stroke="#4a4a4a" stroke-width="1.2"/>
<line x1="493.26" y1="491.4" x2="493.26" y2="494.9" stroke="#4a4a4a" stroke-width="1.2"/>
<line x1="536.02" y1="491.4" x2="536.02" y2="494.9" stroke="#4a4a4a" stroke-width="1.2"/>
<line x1="578.78" y1="491.4" x2="578.78" y2="494.9" stroke="#4a4a4a" stroke-width="1.2"/>
<line x1="621.54" y1="491.4" x2="621.54" y2="494.9" stroke="#4a4a4a" stroke-width="1.2"/>
<line x1="664.3" y1="491.4" x2="664.3" y2="494.9" stroke="#4a4a4a" stroke-width="1.2"/>
<line x1="429.12" y1="491.4" x2="429.12" y2="493.6" stroke="#4a4a4a" stroke-width="1"/>
<line x1="471.88" y1="491.4" x2="471.88" y2="493.6" stroke="#4a4a4a" stroke-width="1"/>
<line x1="514.64" y1="491.4" x2="514.64" y2="493.6" stroke="#4a4a4a" stroke-width="1"/>
<line x1="557.4" y1="491.4" x2="557.4" y2="493.6" stroke="#4a4a4a" stroke-width="1"/>
<line x1="600.16" y1="491.4" x2="600.16" y2="493.6" stroke="#4a4a4a" stroke-width="1"/>
<line x1="642.92" y1="491.4" x2="642.92" y2="493.6" stroke="#4a4a4a" stroke-width="1"/>
<text x="407.74" y="508.4" font-size="11" text-anchor="middle" fill="#222" stroke="#222" stroke-width="0.28">−1.2</text>
<text x="450.5" y="508.4" font-size="11" text-anchor="middle" fill="#222" stroke="#222" stroke-width="0.28">−1.0</text>
<text x="493.26" y="508.4" font-size="11" text-anchor="middle" fill="#222" stroke="#222" stroke-width="0.28">−0.8</text>
<text x="536.02" y="508.4" font-size="11" text-anchor="middle" fill="#222" stroke="#222" stroke-width="0.28">−0.6</text>
<text x="578.78" y="508.4" font-size="11" text-anchor="middle" fill="#222" stroke="#222" stroke-width="0.28">−0.4</text>
<text x="621.54" y="508.4" font-size="11" text-anchor="middle" fill="#222" stroke="#222" stroke-width="0.28">−0.2</text>
<text x="664.3" y="508.4" font-size="11" text-anchor="middle" fill="#222" stroke="#222" stroke-width="0.28">0.0</text>
<text x="537" y="523.2" font-size="11" text-anchor="middle" fill="#222" stroke="#222" stroke-width="0.28">Potential (V vs. RHE)</text>
<text x="364.7" y="392" font-size="11.2" text-anchor="middle" fill="#222" stroke="#222" stroke-width="0.28" transform="rotate(-90 364.7 392)">Current density(mA cm<tspan dy="-4.7" font-size="7.17" stroke-width="0.1">−2</tspan><tspan dy="4.7">)</tspan></text>
<line x1="407.4" y1="409.6" x2="435" y2="409.6" stroke="#3030d8" stroke-width="1.4"/>
<polygon points="421,406.98 423.1,409.6 421,412.23 418.9,409.6" fill="#fff" stroke="#3030d8" stroke-width="1.0"/>
<text x="439" y="413" font-size="9.4" text-anchor="start" fill="#222" stroke="#222" stroke-width="0.2">Carbon paper</text>
<line x1="407.4" y1="423.3" x2="435" y2="423.3" stroke="#222222" stroke-width="1.4"/>
<circle cx="421" cy="423.3" r="2.1" fill="#fff" stroke="#222222" stroke-width="1.0"/>
<text x="439" y="426.7" font-size="9.4" text-anchor="start" fill="#222" stroke="#222" stroke-width="0.2">40% Pt/C</text>
<line x1="407.4" y1="437" x2="435" y2="437" stroke="#ee5050" stroke-width="1.4"/>
<polygon points="418.69,438.68 423.31,438.68 421,434.69" fill="#fff" stroke="#ee5050" stroke-width="1.0"/>
<text x="439" y="440.4" font-size="9.4" text-anchor="start" fill="#222" stroke="#222" stroke-width="0.2">Co/Se-MoS<tspan dy="3.1" font-size="5.83" stroke-width="0.1">2</tspan><tspan dy="-3.1">-NF</tspan></text>
<text x="11.5" y="555.2" font-size="18" fill="#111" stroke="#fff" stroke-width="0.2">(<tspan font-size="16.5">e</tspan>)</text>
<path d="M87.8 637.89 L87.99 638.09 L88.22 638.27 L88.48 638.56 L88.79 638.56 L89.12 638.91 L89.47 638.29 L89.85 638.88 L90.24 639.49 L90.64 639.39 L91.04 639.76 L91.41 639.18 L91.73 639.63 L92.03 639.55 L92.33 639.94 L92.67 640.08 L93.07 639.67 L93.57 639.94 L94.18 640.08 L94.96 640.71 L95.91 640.61 L97.04 640.09 L98.3 640.66 L99.69 640.05 L101.19 640.44 L102.81 639.96 L104.52 639.79 L106.31 640.52 L108.19 639.87 L110.13 639.83 L112.13 640.48 L114.24 640.35 L116.48 639.8 L118.84 640.37 L121.28 639.96 L123.79 640.05 L126.34 639.59 L128.91 640.22 L131.47 639.96 L134 640.18 L136.47 640.08 L138.9 639.51 L141.33 639.54 L143.77 639.34 L146.2 639.29 L148.63 639.19 L151.07 639.37 L153.5 639.61 L155.93 639.04 L158.37 639.61 L160.8 639.25 L163.25 639.18 L165.73 639.58 L168.23 639.22 L170.73 639.01 L173.22 639.1 L175.69 639.23 L178.13 638.58 L180.52 639.33 L182.86 638.4 L185.13 638.97 L187.41 638.96 L189.75 638.08 L192.1 638.63 L194.43 638.09 L196.69 638.13 L198.84 637.48 L200.83 637.41 L202.61 637.46 L204.16 638.14 L205.41 637.5 L206.21 638.13 L206.53 638.5 L206.48 638.78 L206.19 638.56 L205.82 638.9 L205.47 639.4 L205.28 639.95 L205.4 639.63 L205.94 640.44 L207.03 640.64 L208.66 640.79 L210.68 640.09 L213.03 640.9 L215.66 640.1 L218.49 640.27 L221.48 640.44 L224.56 640.64 L227.68 640.04 L230.78 640.49 L233.8 640.09 L236.81 639.83 L239.92 639.78 L243.11 639.59 L246.37 639.43 L249.67 639.43 L252.99 639.85 L256.33 640.05 L259.66 639.23 L262.97 639.06 L266.24 639.84 L269.53 639.37 L272.9 639.19 L276.31 638.98 L279.73 639.24 L283.12 639.39 L286.47 638.99 L289.73 638.9 L292.87 638.5 L295.87 639.2 L298.69 638.33 L301.39 638.64 L304.07 638.82 L306.67 638.04 L309.18 638.42 L311.56 638.46 L313.79 638.04 L315.84 638.07 L317.67 637.39 L319.26 637.67 L320.59 637.46 L321.43 638.22 L321.7 637.93 L321.57 638.35 L321.18 639.16 L320.69 639.37 L320.25 639.83 L320.03 639.68 L320.18 640 L320.86 640.44 L322.21 640.36 L324.22 640.25 L326.72 640.37 L329.63 640.1 L332.88 640.24 L336.4 640.69 L340.12 640.55 L343.95 640.14 L347.84 639.91 L351.7 639.66 L355.46 639.36 L359.3 639.46 L361.33 639.89 L363.37 639.94 L365.49 639.46 L367.6 639.82 L369.77 639.78 L371.94 639.69 L374.12 639.63 L376.3 639.69 L378.46 639.31 L380.61 639.59 L382.71 639.18 L384.81 639.33 L386.82 639.55 L388.83 639.44 L392.59 638.99 L396.02 639.48 L399.14 639.08 L402.04 638.85 L404.74 638.16 L407.27 638.44 L409.65 637.98 L411.92 638.16 L414.1 637.79 L416.21 637.95 L418.29 637.67 L420.35 637.72 L422.42 637.26 L424.47 637.48 L426.48 637.55 L428.43 637.63 L430.29 637.21 L432.03 637.7 L433.64 637.78 L435.08 637.7 L436.34 638.07 L437.38 638.19 L438.01 637.98 L438.11 638.23 L437.85 638.2 L437.39 639.13 L436.88 639.55 L436.47 639.46 L436.32 639.96 L436.59 640.25 L437.44 640.46 L439.01 640.08 L441.33 640.67 L444.26 640.48 L447.68 640.49 L451.51 640.17 L453.57 640.29 L455.63 640.36 L457.79 640.16 L459.95 640.16 L462.16 639.46 L464.36 639.5 L466.56 639.68 L468.76 639.79 L470.91 639.33 L473.05 639.68 L475.09 639.57 L477.13 638.99 L481.1 639.27 L483.13 639 L485.15 638.79 L487.2 638.81 L489.24 638.92 L491.31 638.75 L493.37 638.7 L495.44 638.51 L497.51 638.84 L499.57 638.71 L501.64 638.87 L503.69 638.8 L505.74 638.43 L507.77 638.99 L509.79 638.13 L513.78 638.41 L517.68 638.23 L521.65 638.27 L523.73 637.97 L525.8 638.58 L527.92 638.13 L530.03 637.79 L532.14 638.28 L534.25 637.77 L536.31 638.15 L538.37 637.94 L542.29 638.11 L545.92 638.42 L549.18 638.3 L551.96 637.96 L554.18 638.38 L555.53 638.35 L555.95 638.28 L555.67 638.3 L554.97 638.96 L554.08 639.19 L553.27 639.81 L552.78 640.05 L552.87 639.93 L553.8 639.84 L555.8 640.4 L558.85 639.6 L562.64 639.63 L564.85 639.98 L567.06 639.97 L569.54 639.47 L572.02 639.83 L574.71 639.98 L577.4 639.43 L580.25 639.39 L583.1 639.11 L586.05 639.08 L589 639.6 L591 639.01 L593.01 639.47 L595.01 639.37 L597.01 639.04 L599.01 638.69 L601.01 639.29 L603.96 638.8 L606.9 638.67 L608.98 638.56 L611.05 639.14 L613.13 638.67 L615.43 638.46 L617.73 638.62 L620.04 638.28 L622.49 638.71 L624.95 638.54 L627.4 638.38 L629.93 638.81 L632.45 638.84 L634.98 638.1 L637.5 638.55 L640.02 638.31 L642.54 638.9 L644.98 638.75 L647.41 638.26 L649.85 638.28 L652.12 638.17 L654.39 638.91 L656.66 638.28 L658.69 638.56 L660.72 638.44 L662.75 638.58 L665.31 638.54 L667.87 638.66 L671.79 638.08" fill="none" stroke="#ec3434" stroke-width="4.6" stroke-linejoin="round"/>
<path d="M87.8 637.89 L87.99 638.09 L88.22 638.27 L88.48 638.56 L88.79 638.56 L89.12 638.91 L89.47 638.29 L89.85 638.88 L90.24 639.49 L90.64 639.39 L91.04 639.76 L91.41 639.18 L91.73 639.63 L92.03 639.55 L92.33 639.94 L92.67 640.08 L93.07 639.67 L93.57 639.94 L94.18 640.08 L94.96 640.71 L95.91 640.61 L97.04 640.09 L98.3 640.66 L99.69 640.05 L101.19 640.44 L102.81 639.96 L104.52 639.79 L106.31 640.52 L108.19 639.87 L110.13 639.83 L112.13 640.48 L114.24 640.35 L116.48 639.8 L118.84 640.37 L121.28 639.96 L123.79 640.05 L126.34 639.59 L128.91 640.22 L131.47 639.96 L134 640.18 L136.47 640.08 L138.9 639.51 L141.33 639.54 L143.77 639.34 L146.2 639.29 L148.63 639.19 L151.07 639.37 L153.5 639.61 L155.93 639.04 L158.37 639.61 L160.8 639.25 L163.25 639.18 L165.73 639.58 L168.23 639.22 L170.73 639.01 L173.22 639.1 L175.69 639.23 L178.13 638.58 L180.52 639.33 L182.86 638.4 L185.13 638.97 L187.41 638.96 L189.75 638.08 L192.1 638.63 L194.43 638.09 L196.69 638.13 L198.84 637.48 L200.83 637.41 L202.61 637.46 L204.16 638.14 L205.41 637.5 L206.21 638.13 L206.53 638.5 L206.48 638.78 L206.19 638.56 L205.82 638.9 L205.47 639.4 L205.28 639.95 L205.4 639.63 L205.94 640.44 L207.03 640.64 L208.66 640.79 L210.68 640.09 L213.03 640.9 L215.66 640.1 L218.49 640.27 L221.48 640.44 L224.56 640.64 L227.68 640.04 L230.78 640.49 L233.8 640.09 L236.81 639.83 L239.92 639.78 L243.11 639.59 L246.37 639.43 L249.67 639.43 L252.99 639.85 L256.33 640.05 L259.66 639.23 L262.97 639.06 L266.24 639.84 L269.53 639.37 L272.9 639.19 L276.31 638.98 L279.73 639.24 L283.12 639.39 L286.47 638.99 L289.73 638.9 L292.87 638.5 L295.87 639.2 L298.69 638.33 L301.39 638.64 L304.07 638.82 L306.67 638.04 L309.18 638.42 L311.56 638.46 L313.79 638.04 L315.84 638.07 L317.67 637.39 L319.26 637.67 L320.59 637.46 L321.43 638.22 L321.7 637.93 L321.57 638.35 L321.18 639.16 L320.69 639.37 L320.25 639.83 L320.03 639.68 L320.18 640 L320.86 640.44 L322.21 640.36 L324.22 640.25 L326.72 640.37 L329.63 640.1 L332.88 640.24 L336.4 640.69 L340.12 640.55 L343.95 640.14 L347.84 639.91 L351.7 639.66 L355.46 639.36 L359.3 639.46 L361.33 639.89 L363.37 639.94 L365.49 639.46 L367.6 639.82 L369.77 639.78 L371.94 639.69 L374.12 639.63 L376.3 639.69 L378.46 639.31 L380.61 639.59 L382.71 639.18 L384.81 639.33 L386.82 639.55 L388.83 639.44 L392.59 638.99 L396.02 639.48 L399.14 639.08 L402.04 638.85 L404.74 638.16 L407.27 638.44 L409.65 637.98 L411.92 638.16 L414.1 637.79 L416.21 637.95 L418.29 637.67 L420.35 637.72 L422.42 637.26 L424.47 637.48 L426.48 637.55 L428.43 637.63 L430.29 637.21 L432.03 637.7 L433.64 637.78 L435.08 637.7 L436.34 638.07 L437.38 638.19 L438.01 637.98 L438.11 638.23 L437.85 638.2 L437.39 639.13 L436.88 639.55 L436.47 639.46 L436.32 639.96 L436.59 640.25 L437.44 640.46 L439.01 640.08 L441.33 640.67 L444.26 640.48 L447.68 640.49 L451.51 640.17 L453.57 640.29 L455.63 640.36 L457.79 640.16 L459.95 640.16 L462.16 639.46 L464.36 639.5 L466.56 639.68 L468.76 639.79 L470.91 639.33 L473.05 639.68 L475.09 639.57 L477.13 638.99 L481.1 639.27 L483.13 639 L485.15 638.79 L487.2 638.81 L489.24 638.92 L491.31 638.75 L493.37 638.7 L495.44 638.51 L497.51 638.84 L499.57 638.71 L501.64 638.87 L503.69 638.8 L505.74 638.43 L507.77 638.99 L509.79 638.13 L513.78 638.41 L517.68 638.23 L521.65 638.27 L523.73 637.97 L525.8 638.58 L527.92 638.13 L530.03 637.79 L532.14 638.28 L534.25 637.77 L536.31 638.15 L538.37 637.94 L542.29 638.11 L545.92 638.42 L549.18 638.3 L551.96 637.96 L554.18 638.38 L555.53 638.35 L555.95 638.28 L555.67 638.3 L554.97 638.96 L554.08 639.19 L553.27 639.81 L552.78 640.05 L552.87 639.93 L553.8 639.84 L555.8 640.4 L558.85 639.6 L562.64 639.63 L564.85 639.98 L567.06 639.97 L569.54 639.47 L572.02 639.83 L574.71 639.98 L577.4 639.43 L580.25 639.39 L583.1 639.11 L586.05 639.08 L589 639.6 L591 639.01 L593.01 639.47 L595.01 639.37 L597.01 639.04 L599.01 638.69 L601.01 639.29 L603.96 638.8 L606.9 638.67 L608.98 638.56 L611.05 639.14 L613.13 638.67 L615.43 638.46 L617.73 638.62 L620.04 638.28 L622.49 638.71 L624.95 638.54 L627.4 638.38 L629.93 638.81 L632.45 638.84 L634.98 638.1 L637.5 638.55 L640.02 638.31 L642.54 638.9 L644.98 638.75 L647.41 638.26 L649.85 638.28 L652.12 638.17 L654.39 638.91 L656.66 638.28 L658.69 638.56 L660.72 638.44 L662.75 638.58 L665.31 638.54 L667.87 638.66 L671.79 638.08" fill="none" stroke="#ffb0b0" stroke-width="1.3" stroke-dasharray="1.3 1.2" opacity="0.8"/>
<path d="M87.4 620.5 L88.97 619.52 L90.94 618.31 L93.25 616.88 L95.84 615.27 L98.65 613.53 L101.64 611.68 L104.74 609.76 L107.9 607.8 L111.06 605.84 L114.17 603.92 L117.17 602.06 L120 600.3 L122.83 598.55 L125.8 596.71 L128.88 594.8 L132.01 592.86 L135.14 590.92 L138.22 589.01 L141.21 587.16 L144.06 585.39 L146.71 583.74 L149.12 582.24 L151.23 580.92 L153 579.8 L154.4 578.9 L155.47 578.2 L156.24 577.67 L156.78 577.29 L157.12 577.02 L157.31 576.84 L157.41 576.73 L157.44 576.66 L157.48 576.59 L157.55 576.51 L157.71 576.39 L158 576.2 L158.38 575.97 L158.77 575.75 L159.16 575.54 L159.56 575.34 L159.94 575.15 L160.31 574.98 L160.67 574.81 L161 574.66 L161.3 574.52 L161.58 574.4 L161.81 574.29 L162 574.2" fill="none" stroke="#111" stroke-width="3.2"/>
<circle cx="87.4" cy="620.5" r="1.8" fill="#fff" stroke="#111" stroke-width="1.15"/>
<circle cx="89.36" cy="619.29" r="1.8" fill="#fff" stroke="#111" stroke-width="1.15"/>
<circle cx="91.31" cy="618.08" r="1.8" fill="#fff" stroke="#111" stroke-width="1.15"/>
<circle cx="93.27" cy="616.87" r="1.8" fill="#fff" stroke="#111" stroke-width="1.15"/>
<circle cx="95.22" cy="615.66" r="1.8" fill="#fff" stroke="#111" stroke-width="1.15"/>
<circle cx="97.18" cy="614.44" r="1.8" fill="#fff" stroke="#111" stroke-width="1.15"/>
<circle cx="99.13" cy="613.23" r="1.8" fill="#fff" stroke="#111" stroke-width="1.15"/>
<circle cx="101.09" cy="612.02" r="1.8" fill="#fff" stroke="#111" stroke-width="1.15"/>
<circle cx="103.04" cy="610.81" r="1.8" fill="#fff" stroke="#111" stroke-width="1.15"/>
<circle cx="105" cy="609.6" r="1.8" fill="#fff" stroke="#111" stroke-width="1.15"/>
<circle cx="106.95" cy="608.39" r="1.8" fill="#fff" stroke="#111" stroke-width="1.15"/>
<circle cx="108.91" cy="607.18" r="1.8" fill="#fff" stroke="#111" stroke-width="1.15"/>
<circle cx="110.86" cy="605.97" r="1.8" fill="#fff" stroke="#111" stroke-width="1.15"/>
<circle cx="112.82" cy="604.75" r="1.8" fill="#fff" stroke="#111" stroke-width="1.15"/>
<circle cx="114.77" cy="603.54" r="1.8" fill="#fff" stroke="#111" stroke-width="1.15"/>
<circle cx="116.73" cy="602.33" r="1.8" fill="#fff" stroke="#111" stroke-width="1.15"/>
<circle cx="118.68" cy="601.12" r="1.8" fill="#fff" stroke="#111" stroke-width="1.15"/>
<circle cx="120.64" cy="599.91" r="1.8" fill="#fff" stroke="#111" stroke-width="1.15"/>
<circle cx="122.59" cy="598.69" r="1.8" fill="#fff" stroke="#111" stroke-width="1.15"/>
<circle cx="124.55" cy="597.48" r="1.8" fill="#fff" stroke="#111" stroke-width="1.15"/>
<circle cx="126.5" cy="596.27" r="1.8" fill="#fff" stroke="#111" stroke-width="1.15"/>
<circle cx="128.46" cy="595.06" r="1.8" fill="#fff" stroke="#111" stroke-width="1.15"/>
<circle cx="130.41" cy="593.85" r="1.8" fill="#fff" stroke="#111" stroke-width="1.15"/>
<circle cx="132.37" cy="592.64" r="1.8" fill="#fff" stroke="#111" stroke-width="1.15"/>
<circle cx="134.32" cy="591.43" r="1.8" fill="#fff" stroke="#111" stroke-width="1.15"/>
<circle cx="136.28" cy="590.22" r="1.8" fill="#fff" stroke="#111" stroke-width="1.15"/>
<circle cx="138.23" cy="589.01" r="1.8" fill="#fff" stroke="#111" stroke-width="1.15"/>
<circle cx="140.19" cy="587.79" r="1.8" fill="#fff" stroke="#111" stroke-width="1.15"/>
<circle cx="142.14" cy="586.58" r="1.8" fill="#fff" stroke="#111" stroke-width="1.15"/>
<circle cx="144.1" cy="585.37" r="1.8" fill="#fff" stroke="#111" stroke-width="1.15"/>
<circle cx="146.05" cy="584.15" r="1.8" fill="#fff" stroke="#111" stroke-width="1.15"/>
<circle cx="148" cy="582.94" r="1.8" fill="#fff" stroke="#111" stroke-width="1.15"/>
<circle cx="149.95" cy="581.72" r="1.8" fill="#fff" stroke="#111" stroke-width="1.15"/>
<circle cx="151.9" cy="580.49" r="1.8" fill="#fff" stroke="#111" stroke-width="1.15"/>
<circle cx="153.84" cy="579.26" r="1.8" fill="#fff" stroke="#111" stroke-width="1.15"/>
<circle cx="155.77" cy="578" r="1.8" fill="#fff" stroke="#111" stroke-width="1.15"/>
<circle cx="157.52" cy="576.54" r="1.8" fill="#fff" stroke="#111" stroke-width="1.15"/>
<circle cx="159.49" cy="575.37" r="1.8" fill="#fff" stroke="#111" stroke-width="1.15"/>
<circle cx="161.58" cy="574.4" r="1.8" fill="#fff" stroke="#111" stroke-width="1.15"/>
<line x1="205.5" y1="548" x2="205.5" y2="696.3" stroke="#3434c8" stroke-width="1.8" stroke-dasharray="3.1 2.95"/>
<line x1="321" y1="548" x2="321" y2="696.3" stroke="#3434c8" stroke-width="1.8" stroke-dasharray="3.1 2.95"/>
<line x1="437.1" y1="548" x2="437.1" y2="696.3" stroke="#3434c8" stroke-width="1.8" stroke-dasharray="3.1 2.95"/>
<line x1="555" y1="548" x2="555" y2="696.3" stroke="#3434c8" stroke-width="1.8" stroke-dasharray="3.1 2.95"/>
<path d="M87.8 547 H672 V696.3 H87.8 Z" fill="none" stroke="#4a4a4a" stroke-width="1.3"/>
<line x1="84.3" y1="566.5" x2="87.8" y2="566.5" stroke="#4a4a4a" stroke-width="1.2"/>
<line x1="84.3" y1="599" x2="87.8" y2="599" stroke="#4a4a4a" stroke-width="1.2"/>
<line x1="84.3" y1="631.5" x2="87.8" y2="631.5" stroke="#4a4a4a" stroke-width="1.2"/>
<line x1="84.3" y1="664" x2="87.8" y2="664" stroke="#4a4a4a" stroke-width="1.2"/>
<line x1="84.3" y1="696.5" x2="87.8" y2="696.5" stroke="#4a4a4a" stroke-width="1.2"/>
<line x1="85.6" y1="550.25" x2="87.8" y2="550.25" stroke="#4a4a4a" stroke-width="1"/>
<line x1="85.6" y1="582.75" x2="87.8" y2="582.75" stroke="#4a4a4a" stroke-width="1"/>
<line x1="85.6" y1="615.25" x2="87.8" y2="615.25" stroke="#4a4a4a" stroke-width="1"/>
<line x1="85.6" y1="647.75" x2="87.8" y2="647.75" stroke="#4a4a4a" stroke-width="1"/>
<line x1="85.6" y1="680.25" x2="87.8" y2="680.25" stroke="#4a4a4a" stroke-width="1"/>
<text x="79.5" y="570.46" font-size="11" text-anchor="end" fill="#222" stroke="#222" stroke-width="0.28">1.5</text>
<text x="79.5" y="602.96" font-size="11" text-anchor="end" fill="#222" stroke="#222" stroke-width="0.28">1.0</text>
<text x="79.5" y="635.46" font-size="11" text-anchor="end" fill="#222" stroke="#222" stroke-width="0.28">0.5</text>
<text x="79.5" y="667.96" font-size="11" text-anchor="end" fill="#222" stroke="#222" stroke-width="0.28">0.0</text>
<text x="79.5" y="700.46" font-size="11" text-anchor="end" fill="#222" stroke="#222" stroke-width="0.28">−0.5</text>
<line x1="87.8" y1="696.3" x2="87.8" y2="699.8" stroke="#4a4a4a" stroke-width="1.2"/>
<line x1="168.91" y1="696.3" x2="168.91" y2="699.8" stroke="#4a4a4a" stroke-width="1.2"/>
<line x1="250.02" y1="696.3" x2="250.02" y2="699.8" stroke="#4a4a4a" stroke-width="1.2"/>
<line x1="331.13" y1="696.3" x2="331.13" y2="699.8" stroke="#4a4a4a" stroke-width="1.2"/>
<line x1="412.24" y1="696.3" x2="412.24" y2="699.8" stroke="#4a4a4a" stroke-width="1.2"/>
<line x1="493.35" y1="696.3" x2="493.35" y2="699.8" stroke="#4a4a4a" stroke-width="1.2"/>
<line x1="574.46" y1="696.3" x2="574.46" y2="699.8" stroke="#4a4a4a" stroke-width="1.2"/>
<line x1="655.57" y1="696.3" x2="655.57" y2="699.8" stroke="#4a4a4a" stroke-width="1.2"/>
<line x1="128.35" y1="696.3" x2="128.35" y2="698.5" stroke="#4a4a4a" stroke-width="1"/>
<line x1="209.47" y1="696.3" x2="209.47" y2="698.5" stroke="#4a4a4a" stroke-width="1"/>
<line x1="290.57" y1="696.3" x2="290.57" y2="698.5" stroke="#4a4a4a" stroke-width="1"/>
<line x1="371.69" y1="696.3" x2="371.69" y2="698.5" stroke="#4a4a4a" stroke-width="1"/>
<line x1="452.8" y1="696.3" x2="452.8" y2="698.5" stroke="#4a4a4a" stroke-width="1"/>
<line x1="533.9" y1="696.3" x2="533.9" y2="698.5" stroke="#4a4a4a" stroke-width="1"/>
<line x1="615.01" y1="696.3" x2="615.01" y2="698.5" stroke="#4a4a4a" stroke-width="1"/>
<text x="87.8" y="713.6" font-size="11" text-anchor="middle" fill="#222" stroke="#222" stroke-width="0.28">0</text>
<text x="168.91" y="713.6" font-size="11" text-anchor="middle" fill="#222" stroke="#222" stroke-width="0.28">50</text>
<text x="250.02" y="713.6" font-size="11" text-anchor="middle" fill="#222" stroke="#222" stroke-width="0.28">100</text>
<text x="331.13" y="713.6" font-size="11" text-anchor="middle" fill="#222" stroke="#222" stroke-width="0.28">150</text>
<text x="412.24" y="713.6" font-size="11" text-anchor="middle" fill="#222" stroke="#222" stroke-width="0.28">200</text>
<text x="493.35" y="713.6" font-size="11" text-anchor="middle" fill="#222" stroke="#222" stroke-width="0.28">250</text>
<text x="574.46" y="713.6" font-size="11" text-anchor="middle" fill="#222" stroke="#222" stroke-width="0.28">300</text>
<text x="655.57" y="713.6" font-size="11" text-anchor="middle" fill="#222" stroke="#222" stroke-width="0.28">350</text>
<text x="371" y="725.5" font-size="11" text-anchor="middle" fill="#222" stroke="#222" stroke-width="0.28">Time (h)</text>
<text x="48.5" y="622" font-size="11" text-anchor="middle" fill="#222" stroke="#222" stroke-width="0.28" transform="rotate(-90 48.5 622)">Overpotential (V vs. RHE)</text>
<text x="337" y="627.3" font-size="9.4" text-anchor="start" fill="#e02828" stroke="#e02828" stroke-width="0.12">1000 mA cm<tspan dy="-3.95" font-size="6.02" stroke-width="0.1">−2</tspan><tspan dy="3.95"></tspan></text>
<circle cx="560" cy="558" r="2.3" fill="#ee2a2a"/>
<text x="566.7" y="560.3" font-size="9.4" text-anchor="start" fill="#222" stroke="#222" stroke-width="0.2">Co/Se-MoS<tspan dy="3.1" font-size="5.83" stroke-width="0.1">2</tspan><tspan dy="-3.1">-NF</tspan></text>
<circle cx="560" cy="576.1" r="2.1" fill="#fff" stroke="#222" stroke-width="1.3"/>
<text x="566.2" y="579.2" font-size="9.4" text-anchor="start" fill="#222" stroke="#222" stroke-width="0.2">40% Pt/C</text>
</svg>
</body></html>
